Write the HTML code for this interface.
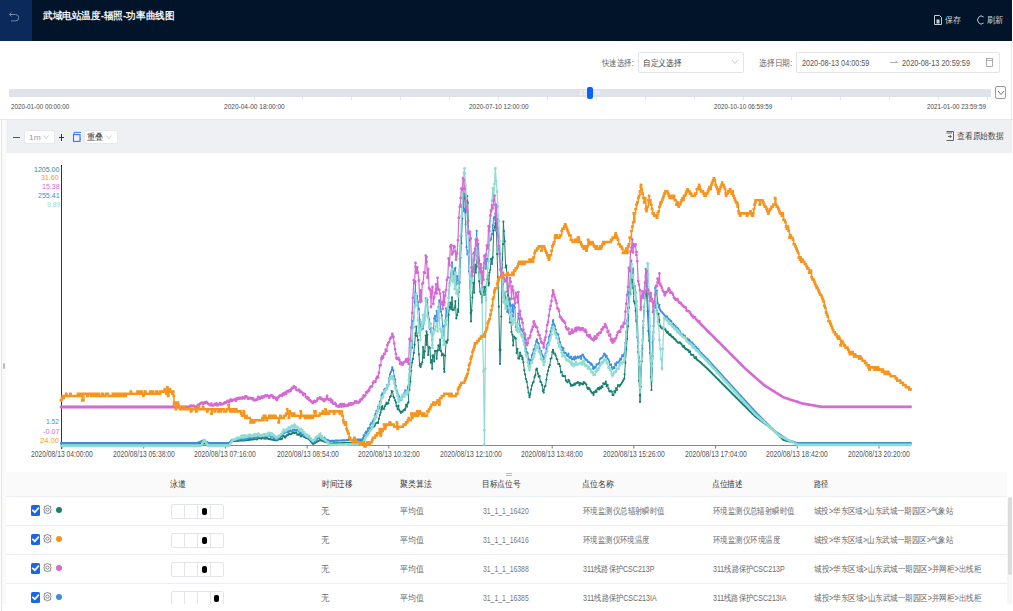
<!DOCTYPE html>
<html><head><meta charset="utf-8">
<style>
*{box-sizing:border-box;margin:0;padding:0}
html,body{width:1013px;height:611px;overflow:hidden;background:#fff;font-family:"Liberation Sans",sans-serif;color:#333}
.abs{position:absolute}
.t{position:absolute;white-space:nowrap;line-height:1;transform-origin:0 0}
.box{border:1px solid #e2e4e8;background:#fff;border-radius:2px}
.row{left:6px;width:1001px;height:29px;border-bottom:1px solid #ebeef5}
.cb{left:31px;width:9px;height:10px;background:#1a66e8;border-radius:1.5px}
.dot{left:56px;width:6px;height:6px;border-radius:50%}
.lane{left:171px;width:53px;height:15px;border:1px solid #e3e5ea;border-radius:2px;background:#fff}
.lane i{position:absolute;top:0;bottom:0;width:1px;background:#e3e5ea}
.lane b{position:absolute;top:3px;width:4.5px;height:7px;background:#000;border-radius:2px}
</style></head><body>
<div class="abs" style="left:0;top:0;width:1011.5px;height:41px;background:#021429"></div>
<div class="abs" style="left:0;top:0;width:32px;height:41px;background:#0b2a5b"></div>
<svg class="abs" style="left:8px;top:11px" width="12" height="13" viewBox="0 0 12 13"><path d="M3.5 1.5 L1.5 3.5 L3.5 5.5 M1.5 3.5 H7.5 a3.2 3.2 0 0 1 0 6.4 H3" fill="none" stroke="#7587a6" stroke-width="1"/></svg>
<svg class="abs" style="left:934px;top:15px" width="8" height="10" viewBox="0 0 8 10"><path d="M0.5 0.5 H5.5 L7.5 2.5 V9.5 H0.5 Z" fill="none" stroke="#c8cdd6"/><rect x="2.5" y="4.5" width="3" height="4" fill="#c8cdd6"/></svg>
<svg class="abs" style="left:976px;top:15px" width="9" height="10" viewBox="0 0 9 10"><path d="M7.6 2 A3.6 4 0 1 0 7.6 8" fill="none" stroke="#c8cdd6" stroke-width="1"/></svg>

<div class="abs box" style="left:638px;top:52px;width:106px;height:21px"></div>
<svg class="abs" style="left:731px;top:59px" width="8" height="6"><path d="M1 1 L4 4.5 L7 1" fill="none" stroke="#bbb" stroke-width="0.8"/></svg>
<div class="abs box" style="left:796px;top:52px;width:204px;height:21px"></div>
<svg class="abs" style="left:889px;top:59px" width="10" height="7"><path d="M1 3.5 H8.5 M6.5 2 L8.5 3.5" fill="none" stroke="#999" stroke-width="0.8"/></svg>
<svg class="abs" style="left:985px;top:57px" width="9" height="10" viewBox="0 0 9 10"><rect x="1.5" y="1.5" width="6" height="8" fill="none" stroke="#999" stroke-width="0.8"/><line x1="1.5" y1="3.5" x2="7.5" y2="3.5" stroke="#999" stroke-width="0.8"/></svg>

<div class="abs" style="left:9px;top:89px;width:982px;height:8px;background:#dfe2e7"></div>
<div class="abs" style="left:253.5px;top:97px;width:1px;height:3px;background:#e0e2e6"></div><div class="abs" style="left:302.4px;top:97px;width:1px;height:3px;background:#e0e2e6"></div><div class="abs" style="left:351.3px;top:97px;width:1px;height:3px;background:#e0e2e6"></div><div class="abs" style="left:400.2px;top:97px;width:1px;height:3px;background:#e0e2e6"></div><div class="abs" style="left:449.1px;top:97px;width:1px;height:3px;background:#e0e2e6"></div><div class="abs" style="left:498.0px;top:97px;width:1px;height:3px;background:#e0e2e6"></div><div class="abs" style="left:546.9px;top:97px;width:1px;height:3px;background:#e0e2e6"></div><div class="abs" style="left:595.8px;top:97px;width:1px;height:3px;background:#e0e2e6"></div><div class="abs" style="left:644.7px;top:97px;width:1px;height:3px;background:#e0e2e6"></div><div class="abs" style="left:693.6px;top:97px;width:1px;height:3px;background:#e0e2e6"></div><div class="abs" style="left:742.5px;top:97px;width:1px;height:3px;background:#e0e2e6"></div><div class="abs" style="left:791.4px;top:97px;width:1px;height:3px;background:#e0e2e6"></div><div class="abs" style="left:840.3px;top:97px;width:1px;height:3px;background:#e0e2e6"></div><div class="abs" style="left:889.2px;top:97px;width:1px;height:3px;background:#e0e2e6"></div><div class="abs" style="left:938.1px;top:97px;width:1px;height:3px;background:#e0e2e6"></div><div class="abs" style="left:987.0px;top:97px;width:1px;height:3px;background:#e0e2e6"></div>
<div class="abs" style="left:578.5px;top:88.5px;font-size:8px;line-height:8px;color:#fafbfc;white-space:nowrap;transform:scaleX(0.85);transform-origin:0 0;letter-spacing:1.5px">168m</div><div class="abs" style="left:587px;top:87px;width:6px;height:12px;background:#0b63f2;border-radius:2px"></div>
<div class="abs box" style="left:995px;top:86px;width:11px;height:13px;border-color:#999"></div>
<svg class="abs" style="left:997px;top:90px" width="8" height="6"><path d="M1 1 L4 4.5 L7 1" fill="none" stroke="#666" stroke-width="0.9"/></svg>
<div class="abs" style="left:0;top:119px;width:1013px;height:1px;background:#e6e8ec"></div><div class="abs" style="left:1011px;top:41px;width:1px;height:79px;background:#e9e9ec"></div>

<div class="abs" style="left:6px;top:120px;width:1006px;height:33px;background:#eef0f3"></div>
<div class="abs" style="left:2px;top:120px;width:4px;height:484px;background:#fafafa"></div><div class="abs" style="left:1px;top:120px;width:1.2px;height:491px;background:#e4e2f0"></div><div class="abs" style="left:3px;top:362.5px;width:2.2px;height:6.5px;background:#bdbdbd;border-radius:1px"></div>
<div class="abs" style="left:13px;top:137px;width:7px;height:1px;background:#555"></div>
<div class="abs box" style="left:24px;top:129.5px;width:30.5px;height:14px;border-color:#e6e8ec"></div>
<svg class="abs" style="left:43px;top:135px" width="6" height="5"><path d="M0.5 0.5 L3 3.8 L5.5 0.5" fill="none" stroke="#bbb" stroke-width="0.7"/></svg>
<div class="abs" style="left:59px;top:137px;width:5px;height:1.2px;background:#333"></div>
<div class="abs" style="left:61px;top:134px;width:1.2px;height:7px;background:#333"></div>
<svg class="abs" style="left:72px;top:131px" width="10" height="12" viewBox="0 0 10 12"><path d="M2.1 3.5 V1.4 H9" fill="none" stroke="#3577f0" stroke-width="1"/><rect x="1.5" y="3.6" width="6.5" height="6.8" fill="none" stroke="#3577f0" stroke-width="1.1"/><path d="M8 7.2 L9.2 8 L8 8.8Z" fill="#3577f0"/></svg>
<div class="abs box" style="left:84px;top:129.5px;width:34px;height:14px;border-color:#e6e8ec"></div>
<svg class="abs" style="left:106px;top:135px" width="6" height="5"><path d="M0.5 0.5 L3 3.8 L5.5 0.5" fill="none" stroke="#bbb" stroke-width="0.7"/></svg>
<svg class="abs" style="left:946px;top:131px" width="9" height="10" viewBox="0 0 9 10"><path d="M0.5 0.5 H7.5 V9.5 H0.5 M0.5 2 H6" fill="none" stroke="#555" stroke-width="0.9"/><path d="M2 5.5 H5 M3.8 4 L5.3 5.5 L3.8 7" fill="none" stroke="#555" stroke-width="0.9"/></svg>

<svg class="abs" style="left:0;top:0" width="1013" height="611">
<line x1="62" y1="445.5" x2="911" y2="445.5" stroke="#888" stroke-width="1"/>
<line x1="62.0" y1="445.5" x2="62.0" y2="448.5" stroke="#777" stroke-width="1"/><line x1="143.7" y1="445.5" x2="143.7" y2="448.5" stroke="#777" stroke-width="1"/><line x1="225.4" y1="445.5" x2="225.4" y2="448.5" stroke="#777" stroke-width="1"/><line x1="307.1" y1="445.5" x2="307.1" y2="448.5" stroke="#777" stroke-width="1"/><line x1="388.8" y1="445.5" x2="388.8" y2="448.5" stroke="#777" stroke-width="1"/><line x1="552.2" y1="445.5" x2="552.2" y2="448.5" stroke="#777" stroke-width="1"/><line x1="633.9" y1="445.5" x2="633.9" y2="448.5" stroke="#777" stroke-width="1"/><line x1="715.6" y1="445.5" x2="715.6" y2="448.5" stroke="#777" stroke-width="1"/><line x1="797.3" y1="445.5" x2="797.3" y2="448.5" stroke="#777" stroke-width="1"/><line x1="879.0" y1="445.5" x2="879.0" y2="448.5" stroke="#777" stroke-width="1"/>
<line x1="61.5" y1="165" x2="61.5" y2="449" stroke="#333" stroke-width="1"/>
<polyline points="61.0,443.5 61.0,443.5 61.9,443.5 62.7,443.5 63.6,443.5 64.4,443.5 65.2,443.5 66.1,443.5 66.9,443.5 67.8,443.5 68.6,443.5 69.5,443.5 70.3,443.5 71.2,443.5 72.0,443.5 72.9,443.5 73.7,443.5 74.6,443.5 75.4,443.5 76.3,443.5 77.1,443.5 78.0,443.5 78.8,443.5 79.7,443.5 80.5,443.5 81.4,443.5 82.2,443.5 83.1,443.5 83.9,443.5 84.8,443.5 85.6,443.5 86.5,443.5 87.3,443.5 88.2,443.5 89.0,443.5 89.9,443.5 90.7,443.5 91.6,443.5 92.4,443.5 93.3,443.5 94.1,443.5 95.0,443.5 95.8,443.5 96.7,443.5 97.5,443.5 98.4,443.5 99.2,443.5 100.1,443.5 100.9,443.5 101.8,443.5 102.6,443.5 103.5,443.5 104.3,443.5 105.2,443.5 106.0,443.5 106.9,443.5 107.7,443.5 108.6,443.5 109.4,443.5 110.3,443.5 111.1,443.5 112.0,443.5 112.8,443.5 113.7,443.5 114.5,443.5 115.4,443.5 116.2,443.5 117.1,443.5 117.9,443.5 118.8,443.5 119.6,443.5 120.5,443.5 121.3,443.5 122.2,443.5 123.0,443.5 123.9,443.5 124.7,443.5 125.6,443.5 126.4,443.5 127.3,443.5 128.1,443.5 129.0,443.5 129.8,443.5 130.7,443.5 131.5,443.5 132.4,443.5 133.2,443.5 134.1,443.5 134.9,443.5 135.8,443.5 136.6,443.5 137.5,443.5 138.3,443.5 139.2,443.5 140.0,443.5 140.9,443.5 141.7,443.5 142.6,443.5 143.4,443.5 144.3,443.5 145.1,443.5 146.0,443.5 146.8,443.5 147.7,443.5 148.5,443.5 149.4,443.5 150.2,443.5 151.1,443.5 151.9,443.5 152.8,443.5 153.6,443.5 154.5,443.5 155.3,443.5 156.2,443.5 157.0,443.5 157.9,443.5 158.7,443.5 159.6,443.5 160.4,443.5 161.3,443.5 162.1,443.5 163.0,443.5 163.8,443.5 164.7,443.5 165.5,443.5 166.4,443.5 167.2,443.5 168.1,443.5 168.9,443.5 169.8,443.5 170.6,443.5 171.5,443.5 172.3,443.5 173.2,443.5 174.0,443.5 174.9,443.5 175.7,443.5 176.6,443.5 177.4,443.5 178.3,443.5 179.1,443.5 180.0,443.5 180.8,443.5 181.7,443.5 182.5,443.5 183.4,443.5 184.2,443.5 185.1,443.5 185.9,443.5 186.8,443.5 187.6,443.5 188.5,443.5 189.3,443.5 190.2,443.5 191.0,443.5 191.9,443.5 192.7,443.5 193.6,443.5 194.4,443.5 195.3,443.5 196.1,443.5 197.0,443.5 197.8,443.5 198.7,443.5 199.5,443.5 200.4,443.5 201.2,443.5 202.1,443.5 202.9,443.5 203.8,443.5 204.6,443.5 205.5,443.5 206.3,443.5 207.2,443.5 208.0,443.5 208.9,443.5 209.7,443.5 210.6,443.5 211.4,443.5 212.3,443.5 213.1,443.5 214.0,443.5 214.8,443.5 215.7,443.5 216.5,443.5 217.4,443.5 218.2,443.5 219.1,443.5 219.9,443.5 220.8,443.5 221.6,443.5 222.5,443.5 223.3,443.5 224.2,443.5 225.0,443.5 225.9,443.5 226.7,443.5 227.6,443.5 228.4,443.5 229.0,443.5 229.3,443.3 230.1,442.5 231.0,441.8 231.8,441.1 232.0,441.0 232.7,441.0 233.5,440.9 234.4,440.9 235.2,440.8 236.1,440.8 236.9,440.7 237.8,440.7 238.6,440.6 239.5,440.6 240.3,440.5 241.2,440.5 242.0,440.5 242.9,440.4 243.7,440.4 244.6,440.3 244.8,440.3 245.4,440.2 246.3,440.1 247.1,440.0 248.0,439.9 248.8,439.8 249.7,439.7 250.5,439.6 251.4,439.5 252.2,439.4 253.1,439.3 253.9,439.2 254.8,439.1 255.6,437.7 256.5,439.4 257.3,439.1 258.2,437.7 259.0,438.2 259.9,438.0 260.7,438.4 261.6,438.7 262.4,436.8 263.3,436.5 263.7,438.0 264.1,438.6 265.0,437.7 265.8,438.7 266.7,436.9 267.5,438.2 268.4,439.1 269.2,439.0 270.1,439.2 270.9,439.3 271.8,439.5 272.6,439.6 273.5,439.8 274.3,439.9 275.2,440.1 276.0,440.2 276.4,440.3 276.9,440.1 277.7,439.8 278.6,439.4 279.4,439.1 280.3,437.8 281.1,439.3 282.0,438.8 282.8,436.2 283.7,435.9 284.5,436.9 285.4,437.6 286.2,435.8 287.1,435.1 287.9,435.2 288.8,433.9 289.6,434.1 290.5,434.3 291.3,434.1 292.2,433.1 293.0,432.8 293.9,432.4 294.5,433.2 294.7,432.9 295.6,432.7 296.4,432.3 297.3,434.7 298.1,434.3 299.0,434.8 299.8,434.0 300.7,436.3 301.5,436.3 302.4,434.7 303.2,435.6 304.1,436.9 305.0,437.1 305.8,438.0 306.7,437.0 307.5,438.3 308.0,438.0 308.4,438.5 309.2,439.4 310.1,440.5 310.9,441.5 311.8,442.5 312.6,443.5 313.0,444.0 313.5,443.7 314.3,443.3 315.2,442.8 316.0,442.3 316.9,441.8 317.7,441.3 318.6,440.8 319.4,440.3 320.0,440.0 320.3,440.1 321.1,440.4 322.0,440.7 322.8,441.0 323.7,441.3 324.5,441.6 325.4,441.9 326.2,442.2 327.1,442.5 327.9,442.8 328.8,443.1 329.6,443.4 330.0,443.5 330.5,443.5 331.3,443.5 332.2,443.5 333.0,443.4 333.9,443.4 334.7,443.4 335.6,443.4 336.4,443.4 337.3,443.3 338.1,443.3 339.0,443.3 339.8,443.3 340.7,443.3 341.5,443.2 342.4,443.2 343.2,443.2 344.1,443.2 344.9,443.2 345.8,443.2 346.6,443.1 347.5,443.1 348.3,443.1 349.2,443.1 350.0,443.1 350.9,443.0 351.7,443.0 352.6,443.0 353.0,443.0 353.4,442.9 354.3,442.7 355.1,442.4 356.0,442.2 356.8,442.0 357.7,441.8 358.5,441.5 359.4,441.3 360.2,441.1 361.1,440.9 361.9,440.6 362.0,440.6 362.8,439.7 363.6,437.8 364.5,437.4 365.3,437.1 366.2,435.9 367.0,434.0 367.9,433.1 368.7,430.6 369.6,430.1 370.4,430.5 371.2,429.0 371.3,428.4 372.1,427.0 373.0,427.1 373.8,426.6 374.7,425.7 375.5,423.6 376.4,423.0 377.2,422.5 378.0,422.3 378.1,422.9 378.9,418.7 379.8,415.1 380.6,412.6 381.5,407.4 381.6,409.7 382.3,406.2 383.2,408.5 384.0,409.0 384.9,406.3 385.7,404.5 386.6,402.6 387.3,404.0 387.4,403.2 388.3,403.3 389.1,400.1 390.0,396.9 390.8,396.2 391.7,391.1 392.3,391.3 392.5,391.5 393.4,396.6 394.2,397.8 395.1,400.3 395.9,402.4 396.5,406.2 396.8,406.1 397.6,409.1 398.5,405.5 399.3,410.3 400.2,411.4 401.0,411.5 401.0,412.8 401.9,411.7 402.7,411.7 403.6,410.0 404.4,409.9 405.0,410.0 405.3,408.5 406.1,404.8 407.0,406.7 407.8,403.3 408.5,402.0 408.7,391.1 409.5,390.0 410.4,381.6 411.2,370.7 412.1,362.6 412.9,358.9 413.8,352.9 414.6,344.7 415.5,333.3 415.6,335.6 416.3,326.5 417.2,336.1 418.0,340.1 418.9,354.3 419.7,365.7 420.3,364.0 420.6,367.1 421.4,364.5 422.3,362.3 423.1,347.1 424.0,357.7 424.8,351.3 425.7,335.5 426.5,345.0 426.5,331.4 427.4,334.9 428.2,355.0 429.1,347.2 429.9,347.6 430.8,362.7 431.6,360.0 432.2,368.8 432.5,355.7 433.3,355.4 434.2,361.4 435.0,351.1 435.9,351.1 436.7,358.7 437.6,350.7 438.4,345.4 439.3,346.5 439.3,349.8 440.1,339.6 441.0,351.1 441.8,355.3 442.7,353.6 443.5,355.2 444.0,368.8 444.4,371.9 445.2,355.6 446.1,341.4 446.9,342.8 447.8,340.0 448.6,314.7 449.5,307.1 450.3,302.5 451.0,307.0 451.2,309.2 452.0,297.3 452.9,310.1 453.7,310.0 454.6,307.6 455.4,301.0 456.3,318.4 457.1,315.0 458.0,309.3 458.3,312.0 458.8,291.9 459.7,282.5 460.5,257.9 461.4,243.1 462.2,218.5 463.0,207.5 463.1,207.6 463.9,193.9 464.8,198.4 465.6,212.6 466.5,209.7 467.3,196.1 467.8,202.7 468.2,220.9 469.0,240.2 469.9,285.8 470.7,312.9 471.0,321.4 471.6,310.6 472.4,297.6 473.3,282.7 474.1,292.8 475.0,264.5 475.8,272.6 476.7,266.4 477.0,255.0 477.5,258.5 478.4,257.6 479.2,281.3 480.1,291.7 480.9,293.7 481.8,297.4 482.0,302.4 482.6,295.2 483.5,292.2 484.3,286.8 485.2,295.0 486.0,287.2 486.9,279.6 487.7,275.3 488.6,285.5 489.0,283.4 489.4,272.7 490.3,270.0 491.1,258.9 492.0,264.0 492.8,257.4 493.7,230.5 494.5,227.4 495.4,223.1 496.2,230.7 496.3,221.7 497.1,254.1 497.9,276.8 498.8,306.7 499.6,349.7 500.0,364.0 500.5,349.9 501.3,316.5 502.2,267.7 503.0,244.2 503.4,221.7 503.9,231.0 504.7,241.4 505.6,267.5 506.4,265.6 507.3,291.5 508.0,302.4 508.1,291.1 509.0,299.4 509.8,322.5 510.7,313.3 511.5,331.9 512.4,334.8 513.0,340.3 513.2,345.5 514.1,336.7 514.9,337.8 515.8,338.4 516.6,353.0 517.5,348.8 518.3,358.4 519.2,358.6 520.0,352.5 520.9,355.9 521.7,355.8 522.4,359.3 522.6,357.8 523.4,362.4 524.3,370.2 525.1,374.4 526.0,379.1 526.8,381.7 527.7,387.4 528.5,392.6 529.4,395.5 529.5,397.3 530.2,394.3 531.1,389.5 531.9,385.5 532.8,382.8 533.6,381.9 534.5,377.2 535.3,375.2 536.2,369.9 536.6,368.8 537.0,368.7 537.9,373.6 538.7,376.7 539.6,376.2 540.4,381.7 541.3,382.3 542.1,385.2 543.0,391.1 543.7,392.6 543.8,389.8 544.7,386.7 545.5,385.8 546.4,379.6 547.2,374.5 548.1,370.8 548.9,367.1 549.8,365.2 550.6,358.8 551.5,358.1 552.3,352.0 553.0,349.8 553.2,351.6 554.0,353.6 554.9,353.5 555.7,355.6 556.6,358.8 557.4,359.6 558.3,364.1 559.1,363.9 560.0,366.1 560.8,372.3 561.7,371.8 562.5,375.3 562.7,376.0 563.4,376.0 564.2,376.3 565.1,376.1 565.9,380.4 566.8,381.5 567.6,382.3 568.5,379.8 569.3,381.0 570.2,383.5 571.0,385.8 571.9,384.9 572.0,385.4 572.7,385.5 573.6,385.2 574.4,383.5 575.3,384.4 576.1,383.3 577.0,382.9 577.8,382.1 578.7,382.7 579.5,385.3 580.4,383.0 581.2,383.7 582.1,383.5 582.9,384.5 583.8,382.1 584.0,383.0 584.6,382.5 585.5,383.6 586.3,384.6 587.2,387.8 588.0,389.1 588.9,387.8 589.7,389.0 590.6,390.9 591.4,392.1 592.3,393.2 593.1,392.9 593.6,395.0 594.0,392.2 594.8,392.3 595.7,390.7 596.5,391.8 597.4,389.0 598.2,388.1 599.1,389.5 599.9,387.3 600.8,388.4 601.6,386.3 602.5,387.0 603.3,383.3 604.2,383.8 605.0,384.1 605.4,383.0 605.9,381.6 606.7,386.5 607.6,384.8 608.4,388.6 609.3,390.9 610.1,391.6 611.0,391.0 611.8,391.6 612.6,395.0 612.7,394.5 613.5,394.9 614.4,391.2 615.2,392.4 616.1,388.2 616.9,390.1 617.8,385.3 618.6,385.3 619.5,386.4 620.3,384.8 621.2,384.0 622.0,382.6 622.9,381.0 623.7,379.5 624.4,378.3 624.6,374.3 625.4,362.8 626.3,349.3 627.1,339.0 628.0,326.3 628.8,307.7 629.7,292.2 630.5,294.1 631.4,279.1 631.5,274.0 632.2,279.7 633.1,288.0 633.9,301.3 634.8,303.3 635.6,310.8 636.3,321.4 636.5,320.1 637.3,337.3 638.2,352.1 639.0,380.6 639.9,395.4 640.0,402.0 640.7,386.8 641.6,361.3 642.4,348.6 643.3,327.8 644.1,310.2 645.0,294.9 645.8,283.4 645.8,286.7 646.7,295.7 647.5,311.6 648.4,330.9 649.2,340.7 650.1,353.0 650.9,377.2 651.5,390.0 651.8,380.2 652.6,356.0 653.5,326.0 654.3,302.4 654.3,303.4 655.2,307.6 656.0,303.3 656.9,310.9 657.7,314.1 658.6,313.6 659.4,320.1 660.0,326.0 660.3,326.1 661.1,327.6 662.0,328.4 662.8,327.6 663.7,329.3 664.5,328.6 665.4,329.4 666.2,331.2 667.1,332.8 667.9,331.8 668.8,334.0 669.6,335.1 670.5,334.4 671.3,336.1 672.2,337.2 673.0,336.8 673.9,338.4 674.7,339.2 675.6,339.6 676.4,341.0 677.3,341.8 678.1,342.7 679.0,342.5 679.0,342.7 679.8,342.4 680.7,343.3 681.5,344.0 682.4,345.6 683.2,346.9 684.1,345.9 684.9,348.2 685.8,349.1 686.6,349.0 687.5,350.2 688.3,350.1 689.2,352.2 690.0,351.4 690.9,354.4 691.7,354.8 692.6,355.1 693.4,355.0 694.3,357.4 695.1,358.2 696.0,357.1 696.8,359.4 697.7,360.3 698.5,360.6 699.4,361.5 700.2,362.1 701.1,362.9 701.9,363.7 702.8,364.5 703.6,365.2 704.5,366.0 705.3,366.8 706.2,367.6 707.0,368.3 707.5,368.8 707.9,369.2 708.7,370.0 709.6,370.9 710.4,371.7 711.3,372.6 712.1,373.4 713.0,374.3 713.8,375.1 714.7,376.0 715.5,376.8 716.4,377.7 717.2,378.5 718.1,379.4 718.9,380.2 719.8,381.1 720.6,382.0 721.5,382.8 722.3,383.7 723.2,384.5 724.0,385.4 724.9,386.2 725.7,387.1 726.6,387.9 727.4,388.8 728.3,389.6 729.1,390.5 730.0,391.3 730.8,392.2 731.2,392.6 731.7,393.0 732.5,393.9 733.4,394.7 734.2,395.6 735.1,396.4 735.9,397.3 736.8,398.1 737.6,399.0 738.5,399.8 739.3,400.7 740.2,401.5 741.0,402.4 741.9,403.2 742.7,404.1 743.6,404.9 744.4,405.7 745.3,406.6 746.1,407.4 747.0,408.3 747.8,409.1 748.7,410.0 749.5,410.8 750.4,411.7 751.2,412.5 752.1,413.4 752.9,414.2 753.8,415.1 754.6,415.9 755.0,416.3 755.5,416.6 756.3,417.3 757.2,417.9 758.0,418.5 758.9,419.2 759.7,419.8 760.6,420.4 761.4,421.1 762.3,421.7 763.1,422.4 764.0,423.0 764.8,423.6 765.7,424.3 766.5,424.9 767.4,425.5 768.2,426.2 769.1,426.8 769.9,427.4 770.8,428.1 771.6,428.7 772.5,429.3 773.3,430.0 774.0,430.5 774.2,430.7 775.0,431.5 775.9,432.4 776.7,433.2 777.6,434.1 778.4,434.9 779.3,435.8 780.1,436.7 781.0,437.5 781.8,438.4 782.7,439.2 783.4,440.0 783.5,440.0 784.4,440.2 785.2,440.4 786.1,440.6 786.9,440.8 787.8,441.0 788.6,441.2 789.5,441.4 790.3,441.6 791.2,441.8 792.0,442.0 792.9,442.2 793.7,442.4 794.6,442.6 795.4,442.8 796.3,443.0 797.1,443.2 797.6,443.3 798.0,443.3 798.8,443.3 799.7,443.3 800.5,443.3 801.4,443.3 802.2,443.3 803.1,443.3 803.9,443.3 804.8,443.3 805.6,443.3 806.5,443.3 807.3,443.3 808.2,443.3 809.0,443.3 809.9,443.3 810.7,443.3 811.6,443.3 812.4,443.3 813.3,443.3 814.1,443.3 815.0,443.3 815.8,443.3 816.7,443.3 817.5,443.3 818.4,443.3 819.2,443.3 820.1,443.3 820.9,443.3 821.8,443.3 822.6,443.3 823.5,443.3 824.3,443.3 825.2,443.3 826.0,443.3 826.9,443.3 827.7,443.3 828.6,443.3 829.4,443.3 830.3,443.3 831.1,443.3 832.0,443.3 832.8,443.3 833.7,443.3 834.5,443.3 835.4,443.3 836.2,443.3 837.1,443.3 837.9,443.3 838.8,443.3 839.6,443.3 840.5,443.3 841.3,443.3 842.2,443.3 843.0,443.3 843.9,443.3 844.7,443.3 845.6,443.3 846.4,443.3 847.3,443.3 848.1,443.3 849.0,443.3 849.8,443.3 850.7,443.3 851.5,443.3 852.4,443.3 853.2,443.3 854.1,443.3 854.9,443.3 855.8,443.3 856.6,443.3 857.5,443.3 858.3,443.3 859.2,443.3 860.0,443.3 860.9,443.3 861.7,443.3 862.6,443.3 863.4,443.3 864.3,443.3 865.1,443.3 866.0,443.3 866.8,443.3 867.7,443.3 868.5,443.3 869.4,443.3 870.2,443.3 871.1,443.3 871.9,443.3 872.8,443.3 873.6,443.3 874.5,443.3 875.3,443.3 876.2,443.3 877.0,443.3 877.9,443.3 878.7,443.3 879.6,443.3 880.4,443.3 881.3,443.3 882.1,443.3 883.0,443.3 883.8,443.3 884.7,443.3 885.5,443.3 886.4,443.3 887.2,443.3 888.1,443.3 888.9,443.3 889.8,443.3 890.6,443.3 891.5,443.3 892.3,443.3 893.2,443.3 894.0,443.3 894.9,443.3 895.7,443.3 896.6,443.3 897.4,443.3 898.3,443.3 899.1,443.3 900.0,443.3 900.8,443.3 901.7,443.3 902.5,443.3 903.4,443.3 904.2,443.3 905.1,443.3 905.9,443.3 906.8,443.3 907.6,443.3 908.5,443.3 909.3,443.3 910.2,443.3 910.6,443.3" fill="none" stroke="#17806f" stroke-width="1" stroke-linejoin="miter"/><path d="M61.0 443.5h0M61.0 443.5h0M61.9 443.5h0M62.7 443.5h0M63.6 443.5h0M64.4 443.5h0M65.2 443.5h0M66.1 443.5h0M66.9 443.5h0M67.8 443.5h0M68.6 443.5h0M69.5 443.5h0M70.3 443.5h0M71.2 443.5h0M72.0 443.5h0M72.9 443.5h0M73.7 443.5h0M74.6 443.5h0M75.4 443.5h0M76.3 443.5h0M77.1 443.5h0M78.0 443.5h0M78.8 443.5h0M79.7 443.5h0M80.5 443.5h0M81.4 443.5h0M82.2 443.5h0M83.1 443.5h0M83.9 443.5h0M84.8 443.5h0M85.6 443.5h0M86.5 443.5h0M87.3 443.5h0M88.2 443.5h0M89.0 443.5h0M89.9 443.5h0M90.7 443.5h0M91.6 443.5h0M92.4 443.5h0M93.3 443.5h0M94.1 443.5h0M95.0 443.5h0M95.8 443.5h0M96.7 443.5h0M97.5 443.5h0M98.4 443.5h0M99.2 443.5h0M100.1 443.5h0M100.9 443.5h0M101.8 443.5h0M102.6 443.5h0M103.5 443.5h0M104.3 443.5h0M105.2 443.5h0M106.0 443.5h0M106.9 443.5h0M107.7 443.5h0M108.6 443.5h0M109.4 443.5h0M110.3 443.5h0M111.1 443.5h0M112.0 443.5h0M112.8 443.5h0M113.7 443.5h0M114.5 443.5h0M115.4 443.5h0M116.2 443.5h0M117.1 443.5h0M117.9 443.5h0M118.8 443.5h0M119.6 443.5h0M120.5 443.5h0M121.3 443.5h0M122.2 443.5h0M123.0 443.5h0M123.9 443.5h0M124.7 443.5h0M125.6 443.5h0M126.4 443.5h0M127.3 443.5h0M128.1 443.5h0M129.0 443.5h0M129.8 443.5h0M130.7 443.5h0M131.5 443.5h0M132.4 443.5h0M133.2 443.5h0M134.1 443.5h0M134.9 443.5h0M135.8 443.5h0M136.6 443.5h0M137.5 443.5h0M138.3 443.5h0M139.2 443.5h0M140.0 443.5h0M140.9 443.5h0M141.7 443.5h0M142.6 443.5h0M143.4 443.5h0M144.3 443.5h0M145.1 443.5h0M146.0 443.5h0M146.8 443.5h0M147.7 443.5h0M148.5 443.5h0M149.4 443.5h0M150.2 443.5h0M151.1 443.5h0M151.9 443.5h0M152.8 443.5h0M153.6 443.5h0M154.5 443.5h0M155.3 443.5h0M156.2 443.5h0M157.0 443.5h0M157.9 443.5h0M158.7 443.5h0M159.6 443.5h0M160.4 443.5h0M161.3 443.5h0M162.1 443.5h0M163.0 443.5h0M163.8 443.5h0M164.7 443.5h0M165.5 443.5h0M166.4 443.5h0M167.2 443.5h0M168.1 443.5h0M168.9 443.5h0M169.8 443.5h0M170.6 443.5h0M171.5 443.5h0M172.3 443.5h0M173.2 443.5h0M174.0 443.5h0M174.9 443.5h0M175.7 443.5h0M176.6 443.5h0M177.4 443.5h0M178.3 443.5h0M179.1 443.5h0M180.0 443.5h0M180.8 443.5h0M181.7 443.5h0M182.5 443.5h0M183.4 443.5h0M184.2 443.5h0M185.1 443.5h0M185.9 443.5h0M186.8 443.5h0M187.6 443.5h0M188.5 443.5h0M189.3 443.5h0M190.2 443.5h0M191.0 443.5h0M191.9 443.5h0M192.7 443.5h0M193.6 443.5h0M194.4 443.5h0M195.3 443.5h0M196.1 443.5h0M197.0 443.5h0M197.8 443.5h0M198.7 443.5h0M199.5 443.5h0M200.4 443.5h0M201.2 443.5h0M202.1 443.5h0M202.9 443.5h0M203.8 443.5h0M204.6 443.5h0M205.5 443.5h0M206.3 443.5h0M207.2 443.5h0M208.0 443.5h0M208.9 443.5h0M209.7 443.5h0M210.6 443.5h0M211.4 443.5h0M212.3 443.5h0M213.1 443.5h0M214.0 443.5h0M214.8 443.5h0M215.7 443.5h0M216.5 443.5h0M217.4 443.5h0M218.2 443.5h0M219.1 443.5h0M219.9 443.5h0M220.8 443.5h0M221.6 443.5h0M222.5 443.5h0M223.3 443.5h0M224.2 443.5h0M225.0 443.5h0M225.9 443.5h0M226.7 443.5h0M227.6 443.5h0M228.4 443.5h0M229.0 443.5h0M229.3 443.3h0M230.1 442.5h0M231.0 441.8h0M231.8 441.1h0M232.0 441.0h0M232.7 441.0h0M233.5 440.9h0M234.4 440.9h0M235.2 440.8h0M236.1 440.8h0M236.9 440.7h0M237.8 440.7h0M238.6 440.6h0M239.5 440.6h0M240.3 440.5h0M241.2 440.5h0M242.0 440.5h0M242.9 440.4h0M243.7 440.4h0M244.6 440.3h0M244.8 440.3h0M245.4 440.2h0M246.3 440.1h0M247.1 440.0h0M248.0 439.9h0M248.8 439.8h0M249.7 439.7h0M250.5 439.6h0M251.4 439.5h0M252.2 439.4h0M253.1 439.3h0M253.9 439.2h0M254.8 439.1h0M255.6 437.7h0M256.5 439.4h0M257.3 439.1h0M258.2 437.7h0M259.0 438.2h0M259.9 438.0h0M260.7 438.4h0M261.6 438.7h0M262.4 436.8h0M263.3 436.5h0M263.7 438.0h0M264.1 438.6h0M265.0 437.7h0M265.8 438.7h0M266.7 436.9h0M267.5 438.2h0M268.4 439.1h0M269.2 439.0h0M270.1 439.2h0M270.9 439.3h0M271.8 439.5h0M272.6 439.6h0M273.5 439.8h0M274.3 439.9h0M275.2 440.1h0M276.0 440.2h0M276.4 440.3h0M276.9 440.1h0M277.7 439.8h0M278.6 439.4h0M279.4 439.1h0M280.3 437.8h0M281.1 439.3h0M282.0 438.8h0M282.8 436.2h0M283.7 435.9h0M284.5 436.9h0M285.4 437.6h0M286.2 435.8h0M287.1 435.1h0M287.9 435.2h0M288.8 433.9h0M289.6 434.1h0M290.5 434.3h0M291.3 434.1h0M292.2 433.1h0M293.0 432.8h0M293.9 432.4h0M294.5 433.2h0M294.7 432.9h0M295.6 432.7h0M296.4 432.3h0M297.3 434.7h0M298.1 434.3h0M299.0 434.8h0M299.8 434.0h0M300.7 436.3h0M301.5 436.3h0M302.4 434.7h0M303.2 435.6h0M304.1 436.9h0M305.0 437.1h0M305.8 438.0h0M306.7 437.0h0M307.5 438.3h0M308.0 438.0h0M308.4 438.5h0M309.2 439.4h0M310.1 440.5h0M310.9 441.5h0M311.8 442.5h0M312.6 443.5h0M313.0 444.0h0M313.5 443.7h0M314.3 443.3h0M315.2 442.8h0M316.0 442.3h0M316.9 441.8h0M317.7 441.3h0M318.6 440.8h0M319.4 440.3h0M320.0 440.0h0M320.3 440.1h0M321.1 440.4h0M322.0 440.7h0M322.8 441.0h0M323.7 441.3h0M324.5 441.6h0M325.4 441.9h0M326.2 442.2h0M327.1 442.5h0M327.9 442.8h0M328.8 443.1h0M329.6 443.4h0M330.0 443.5h0M330.5 443.5h0M331.3 443.5h0M332.2 443.5h0M333.0 443.4h0M333.9 443.4h0M334.7 443.4h0M335.6 443.4h0M336.4 443.4h0M337.3 443.3h0M338.1 443.3h0M339.0 443.3h0M339.8 443.3h0M340.7 443.3h0M341.5 443.2h0M342.4 443.2h0M343.2 443.2h0M344.1 443.2h0M344.9 443.2h0M345.8 443.2h0M346.6 443.1h0M347.5 443.1h0M348.3 443.1h0M349.2 443.1h0M350.0 443.1h0M350.9 443.0h0M351.7 443.0h0M352.6 443.0h0M353.0 443.0h0M353.4 442.9h0M354.3 442.7h0M355.1 442.4h0M356.0 442.2h0M356.8 442.0h0M357.7 441.8h0M358.5 441.5h0M359.4 441.3h0M360.2 441.1h0M361.1 440.9h0M361.9 440.6h0M362.0 440.6h0M362.8 439.7h0M363.6 437.8h0M364.5 437.4h0M365.3 437.1h0M366.2 435.9h0M367.0 434.0h0M367.9 433.1h0M368.7 430.6h0M369.6 430.1h0M370.4 430.5h0M371.2 429.0h0M371.3 428.4h0M372.1 427.0h0M373.0 427.1h0M373.8 426.6h0M374.7 425.7h0M375.5 423.6h0M376.4 423.0h0M377.2 422.5h0M378.0 422.3h0M378.1 422.9h0M378.9 418.7h0M379.8 415.1h0M380.6 412.6h0M381.5 407.4h0M381.6 409.7h0M382.3 406.2h0M383.2 408.5h0M384.0 409.0h0M384.9 406.3h0M385.7 404.5h0M386.6 402.6h0M387.3 404.0h0M387.4 403.2h0M388.3 403.3h0M389.1 400.1h0M390.0 396.9h0M390.8 396.2h0M391.7 391.1h0M392.3 391.3h0M392.5 391.5h0M393.4 396.6h0M394.2 397.8h0M395.1 400.3h0M395.9 402.4h0M396.5 406.2h0M396.8 406.1h0M397.6 409.1h0M398.5 405.5h0M399.3 410.3h0M400.2 411.4h0M401.0 411.5h0M401.0 412.8h0M401.9 411.7h0M402.7 411.7h0M403.6 410.0h0M404.4 409.9h0M405.0 410.0h0M405.3 408.5h0M406.1 404.8h0M407.0 406.7h0M407.8 403.3h0M408.5 402.0h0M408.7 391.1h0M409.5 390.0h0M410.4 381.6h0M411.2 370.7h0M412.1 362.6h0M412.9 358.9h0M413.8 352.9h0M414.6 344.7h0M415.5 333.3h0M415.6 335.6h0M416.3 326.5h0M417.2 336.1h0M418.0 340.1h0M418.9 354.3h0M419.7 365.7h0M420.3 364.0h0M420.6 367.1h0M421.4 364.5h0M422.3 362.3h0M423.1 347.1h0M424.0 357.7h0M424.8 351.3h0M425.7 335.5h0M426.5 345.0h0M426.5 331.4h0M427.4 334.9h0M428.2 355.0h0M429.1 347.2h0M429.9 347.6h0M430.8 362.7h0M431.6 360.0h0M432.2 368.8h0M432.5 355.7h0M433.3 355.4h0M434.2 361.4h0M435.0 351.1h0M435.9 351.1h0M436.7 358.7h0M437.6 350.7h0M438.4 345.4h0M439.3 346.5h0M439.3 349.8h0M440.1 339.6h0M441.0 351.1h0M441.8 355.3h0M442.7 353.6h0M443.5 355.2h0M444.0 368.8h0M444.4 371.9h0M445.2 355.6h0M446.1 341.4h0M446.9 342.8h0M447.8 340.0h0M448.6 314.7h0M449.5 307.1h0M450.3 302.5h0M451.0 307.0h0M451.2 309.2h0M452.0 297.3h0M452.9 310.1h0M453.7 310.0h0M454.6 307.6h0M455.4 301.0h0M456.3 318.4h0M457.1 315.0h0M458.0 309.3h0M458.3 312.0h0M458.8 291.9h0M459.7 282.5h0M460.5 257.9h0M461.4 243.1h0M462.2 218.5h0M463.0 207.5h0M463.1 207.6h0M463.9 193.9h0M464.8 198.4h0M465.6 212.6h0M466.5 209.7h0M467.3 196.1h0M467.8 202.7h0M468.2 220.9h0M469.0 240.2h0M469.9 285.8h0M470.7 312.9h0M471.0 321.4h0M471.6 310.6h0M472.4 297.6h0M473.3 282.7h0M474.1 292.8h0M475.0 264.5h0M475.8 272.6h0M476.7 266.4h0M477.0 255.0h0M477.5 258.5h0M478.4 257.6h0M479.2 281.3h0M480.1 291.7h0M480.9 293.7h0M481.8 297.4h0M482.0 302.4h0M482.6 295.2h0M483.5 292.2h0M484.3 286.8h0M485.2 295.0h0M486.0 287.2h0M486.9 279.6h0M487.7 275.3h0M488.6 285.5h0M489.0 283.4h0M489.4 272.7h0M490.3 270.0h0M491.1 258.9h0M492.0 264.0h0M492.8 257.4h0M493.7 230.5h0M494.5 227.4h0M495.4 223.1h0M496.2 230.7h0M496.3 221.7h0M497.1 254.1h0M497.9 276.8h0M498.8 306.7h0M499.6 349.7h0M500.0 364.0h0M500.5 349.9h0M501.3 316.5h0M502.2 267.7h0M503.0 244.2h0M503.4 221.7h0M503.9 231.0h0M504.7 241.4h0M505.6 267.5h0M506.4 265.6h0M507.3 291.5h0M508.0 302.4h0M508.1 291.1h0M509.0 299.4h0M509.8 322.5h0M510.7 313.3h0M511.5 331.9h0M512.4 334.8h0M513.0 340.3h0M513.2 345.5h0M514.1 336.7h0M514.9 337.8h0M515.8 338.4h0M516.6 353.0h0M517.5 348.8h0M518.3 358.4h0M519.2 358.6h0M520.0 352.5h0M520.9 355.9h0M521.7 355.8h0M522.4 359.3h0M522.6 357.8h0M523.4 362.4h0M524.3 370.2h0M525.1 374.4h0M526.0 379.1h0M526.8 381.7h0M527.7 387.4h0M528.5 392.6h0M529.4 395.5h0M529.5 397.3h0M530.2 394.3h0M531.1 389.5h0M531.9 385.5h0M532.8 382.8h0M533.6 381.9h0M534.5 377.2h0M535.3 375.2h0M536.2 369.9h0M536.6 368.8h0M537.0 368.7h0M537.9 373.6h0M538.7 376.7h0M539.6 376.2h0M540.4 381.7h0M541.3 382.3h0M542.1 385.2h0M543.0 391.1h0M543.7 392.6h0M543.8 389.8h0M544.7 386.7h0M545.5 385.8h0M546.4 379.6h0M547.2 374.5h0M548.1 370.8h0M548.9 367.1h0M549.8 365.2h0M550.6 358.8h0M551.5 358.1h0M552.3 352.0h0M553.0 349.8h0M553.2 351.6h0M554.0 353.6h0M554.9 353.5h0M555.7 355.6h0M556.6 358.8h0M557.4 359.6h0M558.3 364.1h0M559.1 363.9h0M560.0 366.1h0M560.8 372.3h0M561.7 371.8h0M562.5 375.3h0M562.7 376.0h0M563.4 376.0h0M564.2 376.3h0M565.1 376.1h0M565.9 380.4h0M566.8 381.5h0M567.6 382.3h0M568.5 379.8h0M569.3 381.0h0M570.2 383.5h0M571.0 385.8h0M571.9 384.9h0M572.0 385.4h0M572.7 385.5h0M573.6 385.2h0M574.4 383.5h0M575.3 384.4h0M576.1 383.3h0M577.0 382.9h0M577.8 382.1h0M578.7 382.7h0M579.5 385.3h0M580.4 383.0h0M581.2 383.7h0M582.1 383.5h0M582.9 384.5h0M583.8 382.1h0M584.0 383.0h0M584.6 382.5h0M585.5 383.6h0M586.3 384.6h0M587.2 387.8h0M588.0 389.1h0M588.9 387.8h0M589.7 389.0h0M590.6 390.9h0M591.4 392.1h0M592.3 393.2h0M593.1 392.9h0M593.6 395.0h0M594.0 392.2h0M594.8 392.3h0M595.7 390.7h0M596.5 391.8h0M597.4 389.0h0M598.2 388.1h0M599.1 389.5h0M599.9 387.3h0M600.8 388.4h0M601.6 386.3h0M602.5 387.0h0M603.3 383.3h0M604.2 383.8h0M605.0 384.1h0M605.4 383.0h0M605.9 381.6h0M606.7 386.5h0M607.6 384.8h0M608.4 388.6h0M609.3 390.9h0M610.1 391.6h0M611.0 391.0h0M611.8 391.6h0M612.6 395.0h0M612.7 394.5h0M613.5 394.9h0M614.4 391.2h0M615.2 392.4h0M616.1 388.2h0M616.9 390.1h0M617.8 385.3h0M618.6 385.3h0M619.5 386.4h0M620.3 384.8h0M621.2 384.0h0M622.0 382.6h0M622.9 381.0h0M623.7 379.5h0M624.4 378.3h0M624.6 374.3h0M625.4 362.8h0M626.3 349.3h0M627.1 339.0h0M628.0 326.3h0M628.8 307.7h0M629.7 292.2h0M630.5 294.1h0M631.4 279.1h0M631.5 274.0h0M632.2 279.7h0M633.1 288.0h0M633.9 301.3h0M634.8 303.3h0M635.6 310.8h0M636.3 321.4h0M636.5 320.1h0M637.3 337.3h0M638.2 352.1h0M639.0 380.6h0M639.9 395.4h0M640.0 402.0h0M640.7 386.8h0M641.6 361.3h0M642.4 348.6h0M643.3 327.8h0M644.1 310.2h0M645.0 294.9h0M645.8 283.4h0M645.8 286.7h0M646.7 295.7h0M647.5 311.6h0M648.4 330.9h0M649.2 340.7h0M650.1 353.0h0M650.9 377.2h0M651.5 390.0h0M651.8 380.2h0M652.6 356.0h0M653.5 326.0h0M654.3 302.4h0M654.3 303.4h0M655.2 307.6h0M656.0 303.3h0M656.9 310.9h0M657.7 314.1h0M658.6 313.6h0M659.4 320.1h0M660.0 326.0h0M660.3 326.1h0M661.1 327.6h0M662.0 328.4h0M662.8 327.6h0M663.7 329.3h0M664.5 328.6h0M665.4 329.4h0M666.2 331.2h0M667.1 332.8h0M667.9 331.8h0M668.8 334.0h0M669.6 335.1h0M670.5 334.4h0M671.3 336.1h0M672.2 337.2h0M673.0 336.8h0M673.9 338.4h0M674.7 339.2h0M675.6 339.6h0M676.4 341.0h0M677.3 341.8h0M678.1 342.7h0M679.0 342.5h0M679.0 342.7h0M679.8 342.4h0M680.7 343.3h0M681.5 344.0h0M682.4 345.6h0M683.2 346.9h0M684.1 345.9h0M684.9 348.2h0M685.8 349.1h0M686.6 349.0h0M687.5 350.2h0M688.3 350.1h0M689.2 352.2h0M690.0 351.4h0M690.9 354.4h0M691.7 354.8h0M692.6 355.1h0M693.4 355.0h0M694.3 357.4h0M695.1 358.2h0M696.0 357.1h0M696.8 359.4h0M697.7 360.3h0M698.5 360.6h0M699.4 361.5h0M700.2 362.1h0M701.1 362.9h0M701.9 363.7h0M702.8 364.5h0M703.6 365.2h0M704.5 366.0h0M705.3 366.8h0M706.2 367.6h0M707.0 368.3h0M707.5 368.8h0M707.9 369.2h0M708.7 370.0h0M709.6 370.9h0M710.4 371.7h0M711.3 372.6h0M712.1 373.4h0M713.0 374.3h0M713.8 375.1h0M714.7 376.0h0M715.5 376.8h0M716.4 377.7h0M717.2 378.5h0M718.1 379.4h0M718.9 380.2h0M719.8 381.1h0M720.6 382.0h0M721.5 382.8h0M722.3 383.7h0M723.2 384.5h0M724.0 385.4h0M724.9 386.2h0M725.7 387.1h0M726.6 387.9h0M727.4 388.8h0M728.3 389.6h0M729.1 390.5h0M730.0 391.3h0M730.8 392.2h0M731.2 392.6h0M731.7 393.0h0M732.5 393.9h0M733.4 394.7h0M734.2 395.6h0M735.1 396.4h0M735.9 397.3h0M736.8 398.1h0M737.6 399.0h0M738.5 399.8h0M739.3 400.7h0M740.2 401.5h0M741.0 402.4h0M741.9 403.2h0M742.7 404.1h0M743.6 404.9h0M744.4 405.7h0M745.3 406.6h0M746.1 407.4h0M747.0 408.3h0M747.8 409.1h0M748.7 410.0h0M749.5 410.8h0M750.4 411.7h0M751.2 412.5h0M752.1 413.4h0M752.9 414.2h0M753.8 415.1h0M754.6 415.9h0M755.0 416.3h0M755.5 416.6h0M756.3 417.3h0M757.2 417.9h0M758.0 418.5h0M758.9 419.2h0M759.7 419.8h0M760.6 420.4h0M761.4 421.1h0M762.3 421.7h0M763.1 422.4h0M764.0 423.0h0M764.8 423.6h0M765.7 424.3h0M766.5 424.9h0M767.4 425.5h0M768.2 426.2h0M769.1 426.8h0M769.9 427.4h0M770.8 428.1h0M771.6 428.7h0M772.5 429.3h0M773.3 430.0h0M774.0 430.5h0M774.2 430.7h0M775.0 431.5h0M775.9 432.4h0M776.7 433.2h0M777.6 434.1h0M778.4 434.9h0M779.3 435.8h0M780.1 436.7h0M781.0 437.5h0M781.8 438.4h0M782.7 439.2h0M783.4 440.0h0M783.5 440.0h0M784.4 440.2h0M785.2 440.4h0M786.1 440.6h0M786.9 440.8h0M787.8 441.0h0M788.6 441.2h0M789.5 441.4h0M790.3 441.6h0M791.2 441.8h0M792.0 442.0h0M792.9 442.2h0M793.7 442.4h0M794.6 442.6h0M795.4 442.8h0M796.3 443.0h0M797.1 443.2h0M797.6 443.3h0M798.0 443.3h0M798.8 443.3h0M799.7 443.3h0M800.5 443.3h0M801.4 443.3h0M802.2 443.3h0M803.1 443.3h0M803.9 443.3h0M804.8 443.3h0M805.6 443.3h0M806.5 443.3h0M807.3 443.3h0M808.2 443.3h0M809.0 443.3h0M809.9 443.3h0M810.7 443.3h0M811.6 443.3h0M812.4 443.3h0M813.3 443.3h0M814.1 443.3h0M815.0 443.3h0M815.8 443.3h0M816.7 443.3h0M817.5 443.3h0M818.4 443.3h0M819.2 443.3h0M820.1 443.3h0M820.9 443.3h0M821.8 443.3h0M822.6 443.3h0M823.5 443.3h0M824.3 443.3h0M825.2 443.3h0M826.0 443.3h0M826.9 443.3h0M827.7 443.3h0M828.6 443.3h0M829.4 443.3h0M830.3 443.3h0M831.1 443.3h0M832.0 443.3h0M832.8 443.3h0M833.7 443.3h0M834.5 443.3h0M835.4 443.3h0M836.2 443.3h0M837.1 443.3h0M837.9 443.3h0M838.8 443.3h0M839.6 443.3h0M840.5 443.3h0M841.3 443.3h0M842.2 443.3h0M843.0 443.3h0M843.9 443.3h0M844.7 443.3h0M845.6 443.3h0M846.4 443.3h0M847.3 443.3h0M848.1 443.3h0M849.0 443.3h0M849.8 443.3h0M850.7 443.3h0M851.5 443.3h0M852.4 443.3h0M853.2 443.3h0M854.1 443.3h0M854.9 443.3h0M855.8 443.3h0M856.6 443.3h0M857.5 443.3h0M858.3 443.3h0M859.2 443.3h0M860.0 443.3h0M860.9 443.3h0M861.7 443.3h0M862.6 443.3h0M863.4 443.3h0M864.3 443.3h0M865.1 443.3h0M866.0 443.3h0M866.8 443.3h0M867.7 443.3h0M868.5 443.3h0M869.4 443.3h0M870.2 443.3h0M871.1 443.3h0M871.9 443.3h0M872.8 443.3h0M873.6 443.3h0M874.5 443.3h0M875.3 443.3h0M876.2 443.3h0M877.0 443.3h0M877.9 443.3h0M878.7 443.3h0M879.6 443.3h0M880.4 443.3h0M881.3 443.3h0M882.1 443.3h0M883.0 443.3h0M883.8 443.3h0M884.7 443.3h0M885.5 443.3h0M886.4 443.3h0M887.2 443.3h0M888.1 443.3h0M888.9 443.3h0M889.8 443.3h0M890.6 443.3h0M891.5 443.3h0M892.3 443.3h0M893.2 443.3h0M894.0 443.3h0M894.9 443.3h0M895.7 443.3h0M896.6 443.3h0M897.4 443.3h0M898.3 443.3h0M899.1 443.3h0M900.0 443.3h0M900.8 443.3h0M901.7 443.3h0M902.5 443.3h0M903.4 443.3h0M904.2 443.3h0M905.1 443.3h0M905.9 443.3h0M906.8 443.3h0M907.6 443.3h0M908.5 443.3h0M909.3 443.3h0M910.2 443.3h0M910.6 443.3h0" fill="none" stroke="#17806f" stroke-width="2.2" stroke-linecap="round"/><polyline points="61.0,443.2 61.0,443.2 61.9,443.2 62.7,443.2 63.6,443.2 64.4,443.2 65.2,443.2 66.1,443.2 66.9,443.2 67.8,443.2 68.6,443.2 69.5,443.2 70.3,443.2 71.2,443.2 72.0,443.2 72.9,443.2 73.7,443.2 74.6,443.2 75.4,443.2 76.3,443.2 77.1,443.2 78.0,443.2 78.8,443.2 79.7,443.2 80.5,443.2 81.4,443.2 82.2,443.2 83.1,443.2 83.9,443.2 84.8,443.2 85.6,443.2 86.5,443.2 87.3,443.2 88.2,443.2 89.0,443.2 89.9,443.2 90.7,443.2 91.6,443.2 92.4,443.2 93.3,443.2 94.1,443.2 95.0,443.2 95.8,443.2 96.7,443.2 97.5,443.2 98.4,443.2 99.2,443.2 100.1,443.2 100.9,443.2 101.8,443.2 102.6,443.2 103.5,443.2 104.3,443.2 105.2,443.2 106.0,443.2 106.9,443.2 107.7,443.2 108.6,443.2 109.4,443.2 110.3,443.2 111.1,443.2 112.0,443.2 112.8,443.2 113.7,443.2 114.5,443.2 115.4,443.2 116.2,443.2 117.1,443.2 117.9,443.2 118.8,443.2 119.6,443.2 120.5,443.2 121.3,443.2 122.2,443.2 123.0,443.2 123.9,443.2 124.7,443.2 125.6,443.2 126.4,443.2 127.3,443.2 128.1,443.2 129.0,443.2 129.8,443.2 130.7,443.2 131.5,443.2 132.4,443.2 133.2,443.2 134.1,443.2 134.9,443.2 135.8,443.2 136.6,443.2 137.5,443.2 138.3,443.2 139.2,443.2 140.0,443.2 140.9,443.2 141.7,443.2 142.6,443.2 143.4,443.2 144.3,443.2 145.1,443.2 146.0,443.2 146.8,443.2 147.7,443.2 148.5,443.2 149.4,443.2 150.2,443.2 151.1,443.2 151.9,443.2 152.8,443.2 153.6,443.2 154.5,443.2 155.3,443.2 156.2,443.2 157.0,443.2 157.9,443.2 158.7,443.2 159.6,443.2 160.4,443.2 161.3,443.2 162.1,443.2 163.0,443.2 163.8,443.2 164.7,443.2 165.5,443.2 166.4,443.2 167.2,443.2 168.1,443.2 168.9,443.2 169.8,443.2 170.6,443.2 171.5,443.2 172.3,443.2 173.2,443.2 174.0,443.2 174.9,443.2 175.7,443.2 176.6,443.2 177.4,443.2 178.3,443.2 179.1,443.2 180.0,443.2 180.8,443.2 181.7,443.2 182.5,443.2 183.4,443.2 184.2,443.2 185.1,443.2 185.9,443.2 186.8,443.2 187.6,443.2 188.5,443.2 189.3,443.2 190.2,443.2 191.0,443.2 191.9,443.2 192.7,443.2 193.6,443.2 194.4,443.2 195.3,443.2 196.1,443.2 197.0,443.2 197.0,443.2 197.8,442.8 198.7,442.4 199.5,442.1 200.4,441.7 201.2,441.3 202.1,440.9 202.9,440.5 203.0,440.5 203.8,440.8 204.6,441.2 205.5,441.5 206.3,441.9 207.2,442.2 208.0,442.6 208.9,443.0 209.0,443.0 209.7,443.0 210.6,443.0 211.4,443.0 212.3,443.0 213.1,443.0 214.0,443.0 214.8,443.0 215.7,443.0 216.5,443.0 217.4,443.0 218.2,443.0 219.1,443.0 219.9,443.0 220.8,443.0 221.6,443.0 222.5,443.0 223.3,443.0 224.2,443.0 225.0,443.0 225.9,443.0 226.7,443.0 227.6,443.0 228.4,443.0 229.0,443.0 229.3,442.7 230.1,441.9 231.0,441.0 231.8,440.2 232.0,440.0 232.7,439.9 233.5,439.9 234.4,439.8 235.2,439.7 236.1,439.6 236.9,439.5 237.8,439.5 238.6,439.4 239.5,439.3 240.3,439.2 241.2,439.1 242.0,439.1 242.9,439.8 243.7,439.7 244.6,437.4 244.8,438.8 245.4,437.3 246.3,439.2 247.1,438.8 248.0,438.5 248.8,437.5 249.7,438.2 250.5,438.1 251.4,437.9 252.2,436.7 253.1,437.3 253.9,437.1 254.8,437.8 255.6,438.4 256.5,438.2 257.3,437.1 258.2,436.7 259.0,436.2 259.9,435.5 260.7,435.3 261.6,436.3 262.4,435.9 263.3,435.9 263.7,436.5 264.1,437.2 265.0,436.2 265.8,436.2 266.7,435.3 267.5,434.7 268.4,435.4 269.2,434.9 270.1,435.8 270.9,437.0 271.6,436.0 271.8,436.3 272.6,435.6 273.5,438.1 274.3,438.4 275.2,438.9 276.0,439.2 276.4,439.5 276.9,439.1 277.7,439.1 278.6,438.0 279.4,437.3 280.3,435.5 281.1,436.3 282.0,435.6 282.8,432.8 283.7,433.6 284.0,433.0 284.5,433.0 285.4,432.1 286.2,432.0 287.1,431.6 287.9,432.5 288.8,431.1 289.6,431.6 290.5,430.1 291.3,431.2 292.2,431.0 293.0,429.6 293.9,429.6 294.5,429.5 294.7,430.4 295.6,430.3 296.4,430.0 297.3,429.7 298.1,430.4 299.0,431.7 299.8,430.8 300.0,432.0 300.7,433.2 301.5,432.2 302.4,434.4 303.2,433.5 304.1,435.7 305.0,435.7 305.8,435.8 306.4,436.5 306.7,436.4 307.5,437.5 308.4,438.0 309.2,438.0 310.1,439.5 310.9,440.3 311.8,441.0 312.6,441.7 313.0,442.0 313.5,441.7 314.3,441.1 315.2,440.5 316.0,439.9 316.9,439.2 317.7,437.6 318.6,437.7 319.4,438.2 320.0,437.0 320.3,437.1 321.1,436.0 322.0,438.3 322.8,438.4 323.7,439.2 324.5,437.7 325.4,439.1 326.2,439.5 327.1,439.8 327.9,440.2 328.8,440.5 329.6,440.8 330.0,441.0 330.5,441.0 331.3,440.9 332.2,440.9 333.0,440.9 333.9,440.8 334.7,440.8 335.6,440.7 336.4,440.7 337.3,440.7 338.1,440.6 339.0,440.6 339.8,440.5 340.7,440.5 341.5,440.5 342.4,440.4 343.2,440.4 344.1,440.3 344.9,440.3 345.8,440.3 346.6,440.2 347.5,440.2 348.3,440.1 349.2,440.1 350.0,440.1 350.9,440.0 351.7,440.0 352.6,439.9 353.4,439.9 354.3,439.9 355.1,439.8 356.0,439.8 356.8,439.7 357.7,439.7 358.5,439.7 359.4,439.6 360.2,439.6 361.1,439.5 361.9,439.5 362.0,439.5 362.8,438.6 363.6,435.4 364.5,435.5 365.3,433.1 366.2,431.6 367.0,431.9 367.9,428.5 368.7,428.2 369.6,427.6 370.4,424.6 371.3,423.1 372.1,423.5 372.4,422.3 373.0,420.5 373.8,419.3 374.7,415.5 375.5,413.8 376.4,410.9 377.2,411.3 378.1,406.5 378.9,408.7 379.3,406.2 379.8,401.7 380.6,401.9 381.5,395.3 382.3,393.3 382.7,393.6 383.2,394.0 384.0,389.8 384.9,388.9 385.7,390.3 386.6,387.8 387.3,388.0 387.4,384.8 388.3,385.8 389.1,378.3 390.0,374.2 390.8,372.2 391.7,369.9 392.3,367.3 392.5,369.0 393.4,370.6 394.2,376.3 395.1,379.4 395.9,386.1 396.5,390.2 396.8,391.4 397.6,393.1 398.5,395.6 399.3,396.7 400.2,399.0 401.0,399.7 401.0,400.1 401.9,397.6 402.7,395.1 403.6,395.8 404.4,392.8 405.3,390.4 406.1,390.8 407.0,391.5 407.8,386.5 408.5,387.8 408.7,384.9 409.5,369.3 410.4,360.6 411.2,341.0 412.1,347.9 412.9,320.9 413.8,317.3 414.6,301.8 415.5,281.4 415.6,293.0 416.3,297.8 417.2,296.2 418.0,302.0 418.9,309.2 419.7,319.8 420.3,335.6 420.6,322.4 421.4,329.9 422.3,322.5 423.1,328.6 424.0,323.0 424.8,319.8 425.7,298.2 426.5,302.4 426.5,298.4 427.4,299.7 428.2,312.9 429.1,319.3 429.9,328.9 430.8,332.6 431.6,328.1 432.2,340.3 432.5,334.8 433.3,333.7 434.2,318.6 435.0,315.9 435.9,320.9 436.7,310.9 437.6,321.2 438.4,307.0 439.3,300.4 439.3,312.0 440.1,306.1 441.0,311.5 441.8,315.4 442.7,326.5 443.5,329.5 444.0,335.6 444.4,325.5 445.2,325.4 446.1,308.3 446.9,316.4 447.8,310.2 448.6,297.4 449.5,283.4 450.3,277.6 451.0,274.0 451.2,273.2 452.0,262.4 452.9,271.7 453.7,275.2 454.6,268.6 455.4,267.8 456.3,284.7 457.1,276.1 458.0,280.6 458.3,283.4 458.8,281.0 459.7,258.5 460.5,235.9 461.4,236.0 462.2,206.9 463.0,198.0 463.1,185.1 463.9,210.9 464.8,208.8 465.6,224.3 466.5,247.2 467.3,254.4 468.2,250.6 469.0,271.3 469.9,281.3 470.0,288.0 470.7,280.2 471.6,268.2 472.4,271.0 473.3,253.7 474.1,252.7 475.0,248.9 475.8,255.8 476.7,230.8 477.0,240.7 477.5,248.3 478.4,243.8 479.2,260.3 480.1,264.3 480.9,274.0 481.8,288.5 482.0,288.0 482.6,279.2 483.5,267.9 484.3,262.7 485.2,256.6 486.0,268.7 486.9,258.8 487.7,260.8 488.6,249.7 489.0,245.4 489.4,230.1 490.3,240.5 491.1,239.3 492.0,234.2 492.8,225.3 493.7,218.3 494.5,216.6 495.4,220.4 496.2,204.7 496.3,212.2 497.1,219.0 497.9,228.1 498.8,249.1 499.6,255.9 500.5,269.0 501.3,277.1 502.2,275.2 503.0,284.0 503.4,297.6 503.9,295.4 504.7,292.0 505.6,297.4 506.4,304.8 507.3,311.8 508.1,306.0 509.0,312.9 509.8,298.4 510.7,305.9 511.5,322.0 512.4,304.6 513.0,316.6 513.2,312.2 514.1,305.7 514.9,307.4 515.8,326.9 516.6,330.3 517.5,323.9 518.3,313.6 519.2,318.7 520.0,325.8 520.9,328.8 521.7,330.2 522.4,331.0 522.6,331.0 523.4,335.2 524.3,337.5 525.1,343.2 526.0,348.8 526.8,352.0 527.7,353.3 528.5,358.9 529.4,363.7 529.5,364.0 530.2,360.2 531.1,359.9 531.9,355.3 532.8,353.5 533.6,349.4 534.5,349.0 535.3,345.3 536.2,341.6 536.6,340.3 537.0,339.4 537.9,342.9 538.7,343.5 539.6,348.1 540.4,351.5 541.3,351.0 542.1,354.6 543.0,356.7 543.7,359.3 543.8,358.0 544.7,355.8 545.5,353.2 546.4,348.8 547.2,344.4 548.1,342.9 548.9,336.9 549.8,335.1 550.6,331.3 551.5,328.3 552.3,325.2 553.0,321.4 553.2,320.2 554.0,324.3 554.9,326.0 555.7,329.5 556.6,333.3 557.4,334.4 558.3,334.4 559.1,338.7 560.0,342.2 560.8,345.4 561.7,347.0 562.5,350.2 562.7,350.0 563.4,348.2 564.2,352.8 565.1,352.8 565.9,353.1 566.8,355.2 567.6,355.9 568.5,353.7 569.3,357.4 570.2,358.0 571.0,356.6 571.9,359.6 572.0,359.3 572.7,359.0 573.6,357.3 574.4,359.6 575.3,356.7 576.1,358.5 577.0,357.6 577.8,356.7 578.7,357.8 579.5,357.2 580.4,356.0 581.2,358.9 582.1,355.2 582.9,354.7 583.8,356.5 584.0,357.0 584.6,358.6 585.5,358.9 586.3,360.3 587.2,360.3 588.0,362.1 588.9,361.8 589.7,362.6 590.6,364.6 591.4,363.7 592.3,365.0 593.1,368.7 593.6,368.8 594.0,366.6 594.8,367.9 595.7,367.0 596.5,364.4 597.4,364.5 598.2,363.9 599.1,363.2 599.9,359.3 600.8,358.3 601.6,358.2 602.5,357.5 603.3,355.8 604.2,353.6 605.0,354.8 605.4,354.6 605.9,356.9 606.7,356.1 607.6,358.5 608.4,359.5 609.3,361.5 610.1,364.9 611.0,364.3 611.8,367.3 612.6,368.8 612.7,368.2 613.5,367.4 614.4,367.9 615.2,363.5 616.1,365.4 616.9,362.3 617.8,362.7 618.6,362.3 619.5,360.7 620.3,358.6 621.2,359.4 622.0,355.4 622.9,356.5 623.7,354.5 624.4,354.6 624.6,352.3 625.4,342.8 626.3,331.8 627.1,320.3 628.0,308.2 628.8,292.4 629.7,285.2 630.5,270.8 631.4,260.7 631.5,264.4 632.2,275.3 633.1,268.5 633.9,286.5 634.8,286.2 635.6,292.7 636.3,302.4 636.5,301.0 637.3,316.7 638.2,342.4 639.0,357.4 639.9,381.4 640.0,387.8 640.7,368.7 641.6,361.7 642.4,345.5 643.3,321.1 644.1,307.6 645.0,295.6 645.8,274.0 645.8,269.2 646.7,280.4 647.5,297.5 648.4,311.6 649.2,334.3 650.1,344.2 650.9,358.8 651.5,373.6 651.8,370.7 652.6,342.6 653.5,332.6 654.3,310.7 655.2,287.8 655.3,288.0 656.0,294.4 656.9,290.6 657.7,303.0 658.6,307.7 659.4,304.8 660.0,309.5 660.3,309.9 661.1,311.5 662.0,312.0 662.8,313.0 663.7,314.2 664.5,315.3 665.4,315.9 666.2,317.4 667.1,316.7 667.9,318.4 668.8,319.5 669.6,319.7 670.5,320.8 671.3,321.2 672.2,324.0 673.0,323.6 673.9,324.8 674.7,326.8 675.6,326.0 676.4,328.9 677.3,327.8 678.1,328.5 679.0,330.3 679.0,331.0 679.8,331.2 680.7,333.3 681.5,334.1 682.4,334.7 683.2,334.7 684.1,335.8 684.9,335.9 685.8,338.2 686.6,338.0 687.5,338.6 688.3,340.3 689.2,339.9 690.0,341.2 690.9,343.5 691.7,342.3 692.6,343.3 693.4,344.3 694.3,345.2 695.1,346.5 696.0,346.9 696.8,348.0 697.7,348.6 698.5,349.4 699.4,351.2 700.2,352.1 701.1,352.9 701.9,353.7 702.8,354.6 703.6,355.4 704.5,356.3 705.3,357.1 706.2,358.0 707.0,358.8 707.5,359.3 707.9,359.7 708.7,360.6 709.6,361.6 710.4,362.5 711.3,363.4 712.1,364.4 713.0,365.3 713.8,366.2 714.7,367.2 715.5,368.1 716.4,369.0 717.2,370.0 718.1,370.9 718.9,371.9 719.8,372.8 720.6,373.7 721.5,374.7 722.3,375.6 723.2,376.5 724.0,377.5 724.9,378.4 725.7,379.3 726.6,380.3 727.4,381.2 728.3,382.2 729.1,383.1 730.0,384.0 730.8,385.0 731.2,385.4 731.7,385.9 732.5,386.8 733.4,387.8 734.2,388.7 735.1,389.6 735.9,390.6 736.8,391.5 737.6,392.4 738.5,393.4 739.3,394.3 740.2,395.2 741.0,396.1 741.9,397.1 742.7,398.0 743.6,398.9 744.4,399.9 745.3,400.8 746.1,401.7 747.0,402.7 747.8,403.6 748.7,404.5 749.5,405.5 750.4,406.4 751.2,407.3 752.1,408.3 752.9,409.2 753.8,410.1 754.6,411.1 755.0,411.5 755.5,412.0 756.3,412.8 757.2,413.7 758.0,414.5 758.9,415.4 759.7,416.2 760.6,417.1 761.4,417.9 762.3,418.8 763.1,419.6 764.0,420.5 764.8,421.3 765.7,422.2 766.5,423.0 767.4,423.9 768.2,424.7 769.1,425.6 769.9,426.4 770.8,427.3 771.6,428.1 772.5,429.0 773.3,429.8 774.0,430.5 774.2,430.6 775.0,431.2 775.9,431.8 776.7,432.3 777.6,432.9 778.4,433.5 779.3,434.1 780.1,434.6 781.0,435.2 781.8,435.8 782.7,436.4 783.5,436.9 784.4,437.5 785.2,438.1 786.1,438.7 786.9,439.3 787.8,439.8 788.0,440.0 788.6,440.2 789.5,440.5 790.3,440.8 791.2,441.1 792.0,441.4 792.9,441.7 793.7,442.0 794.6,442.3 795.4,442.5 796.3,442.8 797.1,443.1 797.6,443.3 798.0,443.3 798.8,443.3 799.7,443.3 800.5,443.3 801.4,443.3 802.2,443.3 803.1,443.3 803.9,443.3 804.8,443.3 805.6,443.3 806.5,443.3 807.3,443.3 808.2,443.3 809.0,443.3 809.9,443.3 810.7,443.3 811.6,443.3 812.4,443.3 813.3,443.3 814.1,443.3 815.0,443.3 815.8,443.3 816.7,443.3 817.5,443.3 818.4,443.3 819.2,443.3 820.1,443.3 820.9,443.3 821.8,443.3 822.6,443.3 823.5,443.3 824.3,443.3 825.2,443.3 826.0,443.3 826.9,443.3 827.7,443.3 828.6,443.3 829.4,443.3 830.3,443.3 831.1,443.3 832.0,443.3 832.8,443.3 833.7,443.3 834.5,443.3 835.4,443.3 836.2,443.3 837.1,443.3 837.9,443.3 838.8,443.3 839.6,443.3 840.5,443.3 841.3,443.3 842.2,443.3 843.0,443.3 843.9,443.3 844.7,443.3 845.6,443.3 846.4,443.3 847.3,443.3 848.1,443.3 849.0,443.3 849.8,443.3 850.7,443.3 851.5,443.3 852.4,443.3 853.2,443.3 854.1,443.3 854.9,443.3 855.8,443.3 856.6,443.3 857.5,443.3 858.3,443.3 859.2,443.3 860.0,443.3 860.9,443.3 861.7,443.3 862.6,443.3 863.4,443.3 864.3,443.3 865.1,443.3 866.0,443.3 866.8,443.3 867.7,443.3 868.5,443.3 869.4,443.3 870.2,443.3 871.1,443.3 871.9,443.3 872.8,443.3 873.6,443.3 874.5,443.3 875.3,443.3 876.2,443.3 877.0,443.3 877.9,443.3 878.7,443.3 879.6,443.3 880.4,443.3 881.3,443.3 882.1,443.3 883.0,443.3 883.8,443.3 884.7,443.3 885.5,443.3 886.4,443.3 887.2,443.3 888.1,443.3 888.9,443.3 889.8,443.3 890.6,443.3 891.5,443.3 892.3,443.3 893.2,443.3 894.0,443.3 894.9,443.3 895.7,443.3 896.6,443.3 897.4,443.3 898.3,443.3 899.1,443.3 900.0,443.3 900.8,443.3 901.7,443.3 902.5,443.3 903.4,443.3 904.2,443.3 905.1,443.3 905.9,443.3 906.8,443.3 907.6,443.3 908.5,443.3 909.3,443.3 910.2,443.3 910.6,443.3" fill="none" stroke="#3a8fe0" stroke-width="1" stroke-linejoin="miter"/><path d="M61.0 443.2h0M61.0 443.2h0M61.9 443.2h0M62.7 443.2h0M63.6 443.2h0M64.4 443.2h0M65.2 443.2h0M66.1 443.2h0M66.9 443.2h0M67.8 443.2h0M68.6 443.2h0M69.5 443.2h0M70.3 443.2h0M71.2 443.2h0M72.0 443.2h0M72.9 443.2h0M73.7 443.2h0M74.6 443.2h0M75.4 443.2h0M76.3 443.2h0M77.1 443.2h0M78.0 443.2h0M78.8 443.2h0M79.7 443.2h0M80.5 443.2h0M81.4 443.2h0M82.2 443.2h0M83.1 443.2h0M83.9 443.2h0M84.8 443.2h0M85.6 443.2h0M86.5 443.2h0M87.3 443.2h0M88.2 443.2h0M89.0 443.2h0M89.9 443.2h0M90.7 443.2h0M91.6 443.2h0M92.4 443.2h0M93.3 443.2h0M94.1 443.2h0M95.0 443.2h0M95.8 443.2h0M96.7 443.2h0M97.5 443.2h0M98.4 443.2h0M99.2 443.2h0M100.1 443.2h0M100.9 443.2h0M101.8 443.2h0M102.6 443.2h0M103.5 443.2h0M104.3 443.2h0M105.2 443.2h0M106.0 443.2h0M106.9 443.2h0M107.7 443.2h0M108.6 443.2h0M109.4 443.2h0M110.3 443.2h0M111.1 443.2h0M112.0 443.2h0M112.8 443.2h0M113.7 443.2h0M114.5 443.2h0M115.4 443.2h0M116.2 443.2h0M117.1 443.2h0M117.9 443.2h0M118.8 443.2h0M119.6 443.2h0M120.5 443.2h0M121.3 443.2h0M122.2 443.2h0M123.0 443.2h0M123.9 443.2h0M124.7 443.2h0M125.6 443.2h0M126.4 443.2h0M127.3 443.2h0M128.1 443.2h0M129.0 443.2h0M129.8 443.2h0M130.7 443.2h0M131.5 443.2h0M132.4 443.2h0M133.2 443.2h0M134.1 443.2h0M134.9 443.2h0M135.8 443.2h0M136.6 443.2h0M137.5 443.2h0M138.3 443.2h0M139.2 443.2h0M140.0 443.2h0M140.9 443.2h0M141.7 443.2h0M142.6 443.2h0M143.4 443.2h0M144.3 443.2h0M145.1 443.2h0M146.0 443.2h0M146.8 443.2h0M147.7 443.2h0M148.5 443.2h0M149.4 443.2h0M150.2 443.2h0M151.1 443.2h0M151.9 443.2h0M152.8 443.2h0M153.6 443.2h0M154.5 443.2h0M155.3 443.2h0M156.2 443.2h0M157.0 443.2h0M157.9 443.2h0M158.7 443.2h0M159.6 443.2h0M160.4 443.2h0M161.3 443.2h0M162.1 443.2h0M163.0 443.2h0M163.8 443.2h0M164.7 443.2h0M165.5 443.2h0M166.4 443.2h0M167.2 443.2h0M168.1 443.2h0M168.9 443.2h0M169.8 443.2h0M170.6 443.2h0M171.5 443.2h0M172.3 443.2h0M173.2 443.2h0M174.0 443.2h0M174.9 443.2h0M175.7 443.2h0M176.6 443.2h0M177.4 443.2h0M178.3 443.2h0M179.1 443.2h0M180.0 443.2h0M180.8 443.2h0M181.7 443.2h0M182.5 443.2h0M183.4 443.2h0M184.2 443.2h0M185.1 443.2h0M185.9 443.2h0M186.8 443.2h0M187.6 443.2h0M188.5 443.2h0M189.3 443.2h0M190.2 443.2h0M191.0 443.2h0M191.9 443.2h0M192.7 443.2h0M193.6 443.2h0M194.4 443.2h0M195.3 443.2h0M196.1 443.2h0M197.0 443.2h0M197.0 443.2h0M197.8 442.8h0M198.7 442.4h0M199.5 442.1h0M200.4 441.7h0M201.2 441.3h0M202.1 440.9h0M202.9 440.5h0M203.0 440.5h0M203.8 440.8h0M204.6 441.2h0M205.5 441.5h0M206.3 441.9h0M207.2 442.2h0M208.0 442.6h0M208.9 443.0h0M209.0 443.0h0M209.7 443.0h0M210.6 443.0h0M211.4 443.0h0M212.3 443.0h0M213.1 443.0h0M214.0 443.0h0M214.8 443.0h0M215.7 443.0h0M216.5 443.0h0M217.4 443.0h0M218.2 443.0h0M219.1 443.0h0M219.9 443.0h0M220.8 443.0h0M221.6 443.0h0M222.5 443.0h0M223.3 443.0h0M224.2 443.0h0M225.0 443.0h0M225.9 443.0h0M226.7 443.0h0M227.6 443.0h0M228.4 443.0h0M229.0 443.0h0M229.3 442.7h0M230.1 441.9h0M231.0 441.0h0M231.8 440.2h0M232.0 440.0h0M232.7 439.9h0M233.5 439.9h0M234.4 439.8h0M235.2 439.7h0M236.1 439.6h0M236.9 439.5h0M237.8 439.5h0M238.6 439.4h0M239.5 439.3h0M240.3 439.2h0M241.2 439.1h0M242.0 439.1h0M242.9 439.8h0M243.7 439.7h0M244.6 437.4h0M244.8 438.8h0M245.4 437.3h0M246.3 439.2h0M247.1 438.8h0M248.0 438.5h0M248.8 437.5h0M249.7 438.2h0M250.5 438.1h0M251.4 437.9h0M252.2 436.7h0M253.1 437.3h0M253.9 437.1h0M254.8 437.8h0M255.6 438.4h0M256.5 438.2h0M257.3 437.1h0M258.2 436.7h0M259.0 436.2h0M259.9 435.5h0M260.7 435.3h0M261.6 436.3h0M262.4 435.9h0M263.3 435.9h0M263.7 436.5h0M264.1 437.2h0M265.0 436.2h0M265.8 436.2h0M266.7 435.3h0M267.5 434.7h0M268.4 435.4h0M269.2 434.9h0M270.1 435.8h0M270.9 437.0h0M271.6 436.0h0M271.8 436.3h0M272.6 435.6h0M273.5 438.1h0M274.3 438.4h0M275.2 438.9h0M276.0 439.2h0M276.4 439.5h0M276.9 439.1h0M277.7 439.1h0M278.6 438.0h0M279.4 437.3h0M280.3 435.5h0M281.1 436.3h0M282.0 435.6h0M282.8 432.8h0M283.7 433.6h0M284.0 433.0h0M284.5 433.0h0M285.4 432.1h0M286.2 432.0h0M287.1 431.6h0M287.9 432.5h0M288.8 431.1h0M289.6 431.6h0M290.5 430.1h0M291.3 431.2h0M292.2 431.0h0M293.0 429.6h0M293.9 429.6h0M294.5 429.5h0M294.7 430.4h0M295.6 430.3h0M296.4 430.0h0M297.3 429.7h0M298.1 430.4h0M299.0 431.7h0M299.8 430.8h0M300.0 432.0h0M300.7 433.2h0M301.5 432.2h0M302.4 434.4h0M303.2 433.5h0M304.1 435.7h0M305.0 435.7h0M305.8 435.8h0M306.4 436.5h0M306.7 436.4h0M307.5 437.5h0M308.4 438.0h0M309.2 438.0h0M310.1 439.5h0M310.9 440.3h0M311.8 441.0h0M312.6 441.7h0M313.0 442.0h0M313.5 441.7h0M314.3 441.1h0M315.2 440.5h0M316.0 439.9h0M316.9 439.2h0M317.7 437.6h0M318.6 437.7h0M319.4 438.2h0M320.0 437.0h0M320.3 437.1h0M321.1 436.0h0M322.0 438.3h0M322.8 438.4h0M323.7 439.2h0M324.5 437.7h0M325.4 439.1h0M326.2 439.5h0M327.1 439.8h0M327.9 440.2h0M328.8 440.5h0M329.6 440.8h0M330.0 441.0h0M330.5 441.0h0M331.3 440.9h0M332.2 440.9h0M333.0 440.9h0M333.9 440.8h0M334.7 440.8h0M335.6 440.7h0M336.4 440.7h0M337.3 440.7h0M338.1 440.6h0M339.0 440.6h0M339.8 440.5h0M340.7 440.5h0M341.5 440.5h0M342.4 440.4h0M343.2 440.4h0M344.1 440.3h0M344.9 440.3h0M345.8 440.3h0M346.6 440.2h0M347.5 440.2h0M348.3 440.1h0M349.2 440.1h0M350.0 440.1h0M350.9 440.0h0M351.7 440.0h0M352.6 439.9h0M353.4 439.9h0M354.3 439.9h0M355.1 439.8h0M356.0 439.8h0M356.8 439.7h0M357.7 439.7h0M358.5 439.7h0M359.4 439.6h0M360.2 439.6h0M361.1 439.5h0M361.9 439.5h0M362.0 439.5h0M362.8 438.6h0M363.6 435.4h0M364.5 435.5h0M365.3 433.1h0M366.2 431.6h0M367.0 431.9h0M367.9 428.5h0M368.7 428.2h0M369.6 427.6h0M370.4 424.6h0M371.3 423.1h0M372.1 423.5h0M372.4 422.3h0M373.0 420.5h0M373.8 419.3h0M374.7 415.5h0M375.5 413.8h0M376.4 410.9h0M377.2 411.3h0M378.1 406.5h0M378.9 408.7h0M379.3 406.2h0M379.8 401.7h0M380.6 401.9h0M381.5 395.3h0M382.3 393.3h0M382.7 393.6h0M383.2 394.0h0M384.0 389.8h0M384.9 388.9h0M385.7 390.3h0M386.6 387.8h0M387.3 388.0h0M387.4 384.8h0M388.3 385.8h0M389.1 378.3h0M390.0 374.2h0M390.8 372.2h0M391.7 369.9h0M392.3 367.3h0M392.5 369.0h0M393.4 370.6h0M394.2 376.3h0M395.1 379.4h0M395.9 386.1h0M396.5 390.2h0M396.8 391.4h0M397.6 393.1h0M398.5 395.6h0M399.3 396.7h0M400.2 399.0h0M401.0 399.7h0M401.0 400.1h0M401.9 397.6h0M402.7 395.1h0M403.6 395.8h0M404.4 392.8h0M405.3 390.4h0M406.1 390.8h0M407.0 391.5h0M407.8 386.5h0M408.5 387.8h0M408.7 384.9h0M409.5 369.3h0M410.4 360.6h0M411.2 341.0h0M412.1 347.9h0M412.9 320.9h0M413.8 317.3h0M414.6 301.8h0M415.5 281.4h0M415.6 293.0h0M416.3 297.8h0M417.2 296.2h0M418.0 302.0h0M418.9 309.2h0M419.7 319.8h0M420.3 335.6h0M420.6 322.4h0M421.4 329.9h0M422.3 322.5h0M423.1 328.6h0M424.0 323.0h0M424.8 319.8h0M425.7 298.2h0M426.5 302.4h0M426.5 298.4h0M427.4 299.7h0M428.2 312.9h0M429.1 319.3h0M429.9 328.9h0M430.8 332.6h0M431.6 328.1h0M432.2 340.3h0M432.5 334.8h0M433.3 333.7h0M434.2 318.6h0M435.0 315.9h0M435.9 320.9h0M436.7 310.9h0M437.6 321.2h0M438.4 307.0h0M439.3 300.4h0M439.3 312.0h0M440.1 306.1h0M441.0 311.5h0M441.8 315.4h0M442.7 326.5h0M443.5 329.5h0M444.0 335.6h0M444.4 325.5h0M445.2 325.4h0M446.1 308.3h0M446.9 316.4h0M447.8 310.2h0M448.6 297.4h0M449.5 283.4h0M450.3 277.6h0M451.0 274.0h0M451.2 273.2h0M452.0 262.4h0M452.9 271.7h0M453.7 275.2h0M454.6 268.6h0M455.4 267.8h0M456.3 284.7h0M457.1 276.1h0M458.0 280.6h0M458.3 283.4h0M458.8 281.0h0M459.7 258.5h0M460.5 235.9h0M461.4 236.0h0M462.2 206.9h0M463.0 198.0h0M463.1 185.1h0M463.9 210.9h0M464.8 208.8h0M465.6 224.3h0M466.5 247.2h0M467.3 254.4h0M468.2 250.6h0M469.0 271.3h0M469.9 281.3h0M470.0 288.0h0M470.7 280.2h0M471.6 268.2h0M472.4 271.0h0M473.3 253.7h0M474.1 252.7h0M475.0 248.9h0M475.8 255.8h0M476.7 230.8h0M477.0 240.7h0M477.5 248.3h0M478.4 243.8h0M479.2 260.3h0M480.1 264.3h0M480.9 274.0h0M481.8 288.5h0M482.0 288.0h0M482.6 279.2h0M483.5 267.9h0M484.3 262.7h0M485.2 256.6h0M486.0 268.7h0M486.9 258.8h0M487.7 260.8h0M488.6 249.7h0M489.0 245.4h0M489.4 230.1h0M490.3 240.5h0M491.1 239.3h0M492.0 234.2h0M492.8 225.3h0M493.7 218.3h0M494.5 216.6h0M495.4 220.4h0M496.2 204.7h0M496.3 212.2h0M497.1 219.0h0M497.9 228.1h0M498.8 249.1h0M499.6 255.9h0M500.5 269.0h0M501.3 277.1h0M502.2 275.2h0M503.0 284.0h0M503.4 297.6h0M503.9 295.4h0M504.7 292.0h0M505.6 297.4h0M506.4 304.8h0M507.3 311.8h0M508.1 306.0h0M509.0 312.9h0M509.8 298.4h0M510.7 305.9h0M511.5 322.0h0M512.4 304.6h0M513.0 316.6h0M513.2 312.2h0M514.1 305.7h0M514.9 307.4h0M515.8 326.9h0M516.6 330.3h0M517.5 323.9h0M518.3 313.6h0M519.2 318.7h0M520.0 325.8h0M520.9 328.8h0M521.7 330.2h0M522.4 331.0h0M522.6 331.0h0M523.4 335.2h0M524.3 337.5h0M525.1 343.2h0M526.0 348.8h0M526.8 352.0h0M527.7 353.3h0M528.5 358.9h0M529.4 363.7h0M529.5 364.0h0M530.2 360.2h0M531.1 359.9h0M531.9 355.3h0M532.8 353.5h0M533.6 349.4h0M534.5 349.0h0M535.3 345.3h0M536.2 341.6h0M536.6 340.3h0M537.0 339.4h0M537.9 342.9h0M538.7 343.5h0M539.6 348.1h0M540.4 351.5h0M541.3 351.0h0M542.1 354.6h0M543.0 356.7h0M543.7 359.3h0M543.8 358.0h0M544.7 355.8h0M545.5 353.2h0M546.4 348.8h0M547.2 344.4h0M548.1 342.9h0M548.9 336.9h0M549.8 335.1h0M550.6 331.3h0M551.5 328.3h0M552.3 325.2h0M553.0 321.4h0M553.2 320.2h0M554.0 324.3h0M554.9 326.0h0M555.7 329.5h0M556.6 333.3h0M557.4 334.4h0M558.3 334.4h0M559.1 338.7h0M560.0 342.2h0M560.8 345.4h0M561.7 347.0h0M562.5 350.2h0M562.7 350.0h0M563.4 348.2h0M564.2 352.8h0M565.1 352.8h0M565.9 353.1h0M566.8 355.2h0M567.6 355.9h0M568.5 353.7h0M569.3 357.4h0M570.2 358.0h0M571.0 356.6h0M571.9 359.6h0M572.0 359.3h0M572.7 359.0h0M573.6 357.3h0M574.4 359.6h0M575.3 356.7h0M576.1 358.5h0M577.0 357.6h0M577.8 356.7h0M578.7 357.8h0M579.5 357.2h0M580.4 356.0h0M581.2 358.9h0M582.1 355.2h0M582.9 354.7h0M583.8 356.5h0M584.0 357.0h0M584.6 358.6h0M585.5 358.9h0M586.3 360.3h0M587.2 360.3h0M588.0 362.1h0M588.9 361.8h0M589.7 362.6h0M590.6 364.6h0M591.4 363.7h0M592.3 365.0h0M593.1 368.7h0M593.6 368.8h0M594.0 366.6h0M594.8 367.9h0M595.7 367.0h0M596.5 364.4h0M597.4 364.5h0M598.2 363.9h0M599.1 363.2h0M599.9 359.3h0M600.8 358.3h0M601.6 358.2h0M602.5 357.5h0M603.3 355.8h0M604.2 353.6h0M605.0 354.8h0M605.4 354.6h0M605.9 356.9h0M606.7 356.1h0M607.6 358.5h0M608.4 359.5h0M609.3 361.5h0M610.1 364.9h0M611.0 364.3h0M611.8 367.3h0M612.6 368.8h0M612.7 368.2h0M613.5 367.4h0M614.4 367.9h0M615.2 363.5h0M616.1 365.4h0M616.9 362.3h0M617.8 362.7h0M618.6 362.3h0M619.5 360.7h0M620.3 358.6h0M621.2 359.4h0M622.0 355.4h0M622.9 356.5h0M623.7 354.5h0M624.4 354.6h0M624.6 352.3h0M625.4 342.8h0M626.3 331.8h0M627.1 320.3h0M628.0 308.2h0M628.8 292.4h0M629.7 285.2h0M630.5 270.8h0M631.4 260.7h0M631.5 264.4h0M632.2 275.3h0M633.1 268.5h0M633.9 286.5h0M634.8 286.2h0M635.6 292.7h0M636.3 302.4h0M636.5 301.0h0M637.3 316.7h0M638.2 342.4h0M639.0 357.4h0M639.9 381.4h0M640.0 387.8h0M640.7 368.7h0M641.6 361.7h0M642.4 345.5h0M643.3 321.1h0M644.1 307.6h0M645.0 295.6h0M645.8 274.0h0M645.8 269.2h0M646.7 280.4h0M647.5 297.5h0M648.4 311.6h0M649.2 334.3h0M650.1 344.2h0M650.9 358.8h0M651.5 373.6h0M651.8 370.7h0M652.6 342.6h0M653.5 332.6h0M654.3 310.7h0M655.2 287.8h0M655.3 288.0h0M656.0 294.4h0M656.9 290.6h0M657.7 303.0h0M658.6 307.7h0M659.4 304.8h0M660.0 309.5h0M660.3 309.9h0M661.1 311.5h0M662.0 312.0h0M662.8 313.0h0M663.7 314.2h0M664.5 315.3h0M665.4 315.9h0M666.2 317.4h0M667.1 316.7h0M667.9 318.4h0M668.8 319.5h0M669.6 319.7h0M670.5 320.8h0M671.3 321.2h0M672.2 324.0h0M673.0 323.6h0M673.9 324.8h0M674.7 326.8h0M675.6 326.0h0M676.4 328.9h0M677.3 327.8h0M678.1 328.5h0M679.0 330.3h0M679.0 331.0h0M679.8 331.2h0M680.7 333.3h0M681.5 334.1h0M682.4 334.7h0M683.2 334.7h0M684.1 335.8h0M684.9 335.9h0M685.8 338.2h0M686.6 338.0h0M687.5 338.6h0M688.3 340.3h0M689.2 339.9h0M690.0 341.2h0M690.9 343.5h0M691.7 342.3h0M692.6 343.3h0M693.4 344.3h0M694.3 345.2h0M695.1 346.5h0M696.0 346.9h0M696.8 348.0h0M697.7 348.6h0M698.5 349.4h0M699.4 351.2h0M700.2 352.1h0M701.1 352.9h0M701.9 353.7h0M702.8 354.6h0M703.6 355.4h0M704.5 356.3h0M705.3 357.1h0M706.2 358.0h0M707.0 358.8h0M707.5 359.3h0M707.9 359.7h0M708.7 360.6h0M709.6 361.6h0M710.4 362.5h0M711.3 363.4h0M712.1 364.4h0M713.0 365.3h0M713.8 366.2h0M714.7 367.2h0M715.5 368.1h0M716.4 369.0h0M717.2 370.0h0M718.1 370.9h0M718.9 371.9h0M719.8 372.8h0M720.6 373.7h0M721.5 374.7h0M722.3 375.6h0M723.2 376.5h0M724.0 377.5h0M724.9 378.4h0M725.7 379.3h0M726.6 380.3h0M727.4 381.2h0M728.3 382.2h0M729.1 383.1h0M730.0 384.0h0M730.8 385.0h0M731.2 385.4h0M731.7 385.9h0M732.5 386.8h0M733.4 387.8h0M734.2 388.7h0M735.1 389.6h0M735.9 390.6h0M736.8 391.5h0M737.6 392.4h0M738.5 393.4h0M739.3 394.3h0M740.2 395.2h0M741.0 396.1h0M741.9 397.1h0M742.7 398.0h0M743.6 398.9h0M744.4 399.9h0M745.3 400.8h0M746.1 401.7h0M747.0 402.7h0M747.8 403.6h0M748.7 404.5h0M749.5 405.5h0M750.4 406.4h0M751.2 407.3h0M752.1 408.3h0M752.9 409.2h0M753.8 410.1h0M754.6 411.1h0M755.0 411.5h0M755.5 412.0h0M756.3 412.8h0M757.2 413.7h0M758.0 414.5h0M758.9 415.4h0M759.7 416.2h0M760.6 417.1h0M761.4 417.9h0M762.3 418.8h0M763.1 419.6h0M764.0 420.5h0M764.8 421.3h0M765.7 422.2h0M766.5 423.0h0M767.4 423.9h0M768.2 424.7h0M769.1 425.6h0M769.9 426.4h0M770.8 427.3h0M771.6 428.1h0M772.5 429.0h0M773.3 429.8h0M774.0 430.5h0M774.2 430.6h0M775.0 431.2h0M775.9 431.8h0M776.7 432.3h0M777.6 432.9h0M778.4 433.5h0M779.3 434.1h0M780.1 434.6h0M781.0 435.2h0M781.8 435.8h0M782.7 436.4h0M783.5 436.9h0M784.4 437.5h0M785.2 438.1h0M786.1 438.7h0M786.9 439.3h0M787.8 439.8h0M788.0 440.0h0M788.6 440.2h0M789.5 440.5h0M790.3 440.8h0M791.2 441.1h0M792.0 441.4h0M792.9 441.7h0M793.7 442.0h0M794.6 442.3h0M795.4 442.5h0M796.3 442.8h0M797.1 443.1h0M797.6 443.3h0M798.0 443.3h0M798.8 443.3h0M799.7 443.3h0M800.5 443.3h0M801.4 443.3h0M802.2 443.3h0M803.1 443.3h0M803.9 443.3h0M804.8 443.3h0M805.6 443.3h0M806.5 443.3h0M807.3 443.3h0M808.2 443.3h0M809.0 443.3h0M809.9 443.3h0M810.7 443.3h0M811.6 443.3h0M812.4 443.3h0M813.3 443.3h0M814.1 443.3h0M815.0 443.3h0M815.8 443.3h0M816.7 443.3h0M817.5 443.3h0M818.4 443.3h0M819.2 443.3h0M820.1 443.3h0M820.9 443.3h0M821.8 443.3h0M822.6 443.3h0M823.5 443.3h0M824.3 443.3h0M825.2 443.3h0M826.0 443.3h0M826.9 443.3h0M827.7 443.3h0M828.6 443.3h0M829.4 443.3h0M830.3 443.3h0M831.1 443.3h0M832.0 443.3h0M832.8 443.3h0M833.7 443.3h0M834.5 443.3h0M835.4 443.3h0M836.2 443.3h0M837.1 443.3h0M837.9 443.3h0M838.8 443.3h0M839.6 443.3h0M840.5 443.3h0M841.3 443.3h0M842.2 443.3h0M843.0 443.3h0M843.9 443.3h0M844.7 443.3h0M845.6 443.3h0M846.4 443.3h0M847.3 443.3h0M848.1 443.3h0M849.0 443.3h0M849.8 443.3h0M850.7 443.3h0M851.5 443.3h0M852.4 443.3h0M853.2 443.3h0M854.1 443.3h0M854.9 443.3h0M855.8 443.3h0M856.6 443.3h0M857.5 443.3h0M858.3 443.3h0M859.2 443.3h0M860.0 443.3h0M860.9 443.3h0M861.7 443.3h0M862.6 443.3h0M863.4 443.3h0M864.3 443.3h0M865.1 443.3h0M866.0 443.3h0M866.8 443.3h0M867.7 443.3h0M868.5 443.3h0M869.4 443.3h0M870.2 443.3h0M871.1 443.3h0M871.9 443.3h0M872.8 443.3h0M873.6 443.3h0M874.5 443.3h0M875.3 443.3h0M876.2 443.3h0M877.0 443.3h0M877.9 443.3h0M878.7 443.3h0M879.6 443.3h0M880.4 443.3h0M881.3 443.3h0M882.1 443.3h0M883.0 443.3h0M883.8 443.3h0M884.7 443.3h0M885.5 443.3h0M886.4 443.3h0M887.2 443.3h0M888.1 443.3h0M888.9 443.3h0M889.8 443.3h0M890.6 443.3h0M891.5 443.3h0M892.3 443.3h0M893.2 443.3h0M894.0 443.3h0M894.9 443.3h0M895.7 443.3h0M896.6 443.3h0M897.4 443.3h0M898.3 443.3h0M899.1 443.3h0M900.0 443.3h0M900.8 443.3h0M901.7 443.3h0M902.5 443.3h0M903.4 443.3h0M904.2 443.3h0M905.1 443.3h0M905.9 443.3h0M906.8 443.3h0M907.6 443.3h0M908.5 443.3h0M909.3 443.3h0M910.2 443.3h0M910.6 443.3h0" fill="none" stroke="#3a8fe0" stroke-width="2.2" stroke-linecap="round"/><polyline points="61.0,445.8 61.0,445.8 61.9,445.8 62.7,445.8 63.6,445.8 64.4,445.8 65.2,445.8 66.1,445.8 66.9,445.8 67.8,445.8 68.6,445.8 69.5,445.8 70.3,445.8 71.2,445.8 72.0,445.8 72.9,445.8 73.7,445.8 74.6,445.8 75.4,445.8 76.3,445.8 77.1,445.8 78.0,445.8 78.8,445.8 79.7,445.8 80.5,445.8 81.4,445.8 82.2,445.8 83.1,445.8 83.9,445.8 84.8,445.8 85.6,445.8 86.5,445.8 87.3,445.8 88.2,445.8 89.0,445.8 89.9,445.8 90.7,445.8 91.6,445.8 92.4,445.8 93.3,445.8 94.1,445.8 95.0,445.8 95.8,445.8 96.7,445.8 97.5,445.8 98.4,445.8 99.2,445.8 100.1,445.8 100.9,445.8 101.8,445.8 102.6,445.8 103.5,445.8 104.3,445.8 105.2,445.8 106.0,445.8 106.9,445.8 107.7,445.8 108.6,445.8 109.4,445.8 110.3,445.8 111.1,445.8 112.0,445.8 112.8,445.8 113.7,445.8 114.5,445.8 115.4,445.8 116.2,445.8 117.1,445.8 117.9,445.8 118.8,445.8 119.6,445.8 120.5,445.8 121.3,445.8 122.2,445.8 123.0,445.8 123.9,445.8 124.7,445.8 125.6,445.8 126.4,445.8 127.3,445.8 128.1,445.8 129.0,445.8 129.8,445.8 130.7,445.8 131.5,445.8 132.4,445.8 133.2,445.8 134.1,445.8 134.9,445.8 135.8,445.8 136.6,445.8 137.5,445.8 138.3,445.8 139.2,445.8 140.0,445.8 140.9,445.8 141.7,445.8 142.6,445.8 143.4,445.8 144.3,445.8 145.1,445.8 146.0,445.8 146.8,445.8 147.7,445.8 148.5,445.8 149.4,445.8 150.2,445.8 151.1,445.8 151.9,445.8 152.8,445.8 153.6,445.8 154.5,445.8 155.3,445.8 156.2,445.8 157.0,445.8 157.9,445.8 158.7,445.8 159.6,445.8 160.4,445.8 161.3,445.8 162.1,445.8 163.0,445.8 163.8,445.8 164.7,445.8 165.5,445.8 166.4,445.8 167.2,445.8 168.1,445.8 168.9,445.8 169.8,445.8 170.6,445.8 171.5,445.8 172.3,445.8 173.2,445.8 174.0,445.8 174.9,445.8 175.7,445.8 176.6,445.8 177.4,445.8 178.3,445.8 179.1,445.8 180.0,445.8 180.8,445.8 181.7,445.8 182.5,445.8 183.4,445.8 184.2,445.8 185.1,445.8 185.9,445.8 186.8,445.8 187.6,445.8 188.5,445.8 189.3,445.8 190.2,445.8 191.0,445.8 191.9,445.8 192.7,445.8 193.6,445.8 194.4,445.8 195.3,445.8 196.1,445.8 197.0,445.8 197.8,445.8 198.7,445.8 199.5,445.8 200.4,445.8 201.0,445.8 201.2,445.4 202.1,444.0 202.9,442.6 203.8,441.2 204.5,440.0 204.6,440.2 205.5,441.7 206.3,443.1 207.2,444.5 208.0,445.8 208.0,445.8 208.9,445.8 209.7,445.8 210.6,445.8 211.4,445.8 212.3,445.8 213.1,445.8 214.0,445.8 214.8,445.8 215.7,445.8 216.5,445.8 217.4,445.8 218.2,445.8 219.1,445.8 219.9,445.8 220.8,445.8 221.6,445.8 222.5,445.8 223.3,445.8 224.2,445.8 225.0,445.8 225.9,445.8 226.7,445.8 227.6,445.8 228.4,445.8 229.0,445.8 229.3,445.4 230.1,444.1 231.0,442.9 231.8,441.7 232.7,440.4 233.0,440.0 233.5,439.8 234.4,439.6 235.2,439.3 236.1,439.0 236.9,437.8 237.8,438.3 238.6,437.6 239.5,437.9 240.3,437.7 241.2,436.0 242.0,435.6 242.9,437.4 243.7,435.7 244.6,435.4 244.8,436.3 245.4,437.2 246.3,435.8 247.1,436.7 248.0,435.7 248.8,436.0 249.7,434.7 250.5,435.9 251.4,436.4 252.2,435.4 253.1,435.9 253.9,435.7 254.8,434.1 255.6,435.8 256.5,435.3 257.3,434.5 258.2,433.7 259.0,435.8 259.9,434.7 260.7,435.3 261.6,435.6 262.4,435.1 263.3,435.6 263.7,434.8 264.1,434.2 265.0,435.1 265.8,434.1 266.7,435.3 267.5,435.1 268.4,433.0 269.2,433.0 270.1,433.1 270.9,434.9 271.6,434.0 271.8,433.7 272.6,434.9 273.5,434.8 274.3,436.0 275.2,436.4 276.0,437.0 276.4,438.0 276.9,437.4 277.7,436.6 278.6,436.6 279.4,435.3 280.3,435.1 281.1,434.1 282.0,433.6 282.8,432.0 283.7,429.9 284.0,430.8 284.5,431.2 285.4,431.0 286.2,430.5 287.1,429.2 287.9,429.2 288.8,427.5 289.6,428.7 290.5,427.7 291.3,426.6 292.2,425.6 293.0,427.2 293.9,427.2 294.5,426.0 294.7,424.8 295.6,427.2 296.4,426.9 297.3,426.8 298.1,427.8 299.0,429.6 299.8,430.5 300.0,430.0 300.7,429.0 301.5,431.1 302.4,430.3 303.2,432.7 304.1,432.3 305.0,434.4 305.8,435.3 306.4,434.8 306.7,434.7 307.5,436.8 308.4,435.8 309.2,436.0 310.1,438.2 310.9,439.0 311.8,439.8 312.6,440.6 313.0,441.0 313.5,440.6 314.3,439.9 315.2,439.2 316.0,436.9 316.9,436.6 317.7,436.4 318.6,436.2 319.4,434.3 320.0,435.0 320.3,433.8 321.1,436.7 322.0,436.2 322.8,438.7 323.7,439.3 324.5,439.5 325.4,440.4 326.2,441.2 327.1,442.1 327.9,442.9 328.8,443.8 329.6,444.6 330.0,445.0 330.5,445.0 331.3,445.0 332.2,444.9 333.0,444.9 333.9,444.9 334.7,444.9 335.6,444.8 336.4,444.8 337.3,444.8 338.1,444.7 339.0,444.7 339.8,444.7 340.7,444.7 341.5,444.6 342.4,444.6 343.2,444.6 344.1,444.6 344.9,444.5 345.8,444.5 346.6,444.5 347.5,444.5 348.3,444.4 349.2,444.4 350.0,444.4 350.9,444.3 351.7,444.3 352.6,444.3 353.4,444.3 354.3,444.2 355.1,444.2 356.0,444.2 356.8,444.2 357.7,444.1 358.5,444.1 359.4,444.1 360.2,444.1 361.1,444.0 361.9,444.0 362.0,444.0 362.8,442.8 363.6,441.4 364.5,440.0 365.3,438.0 366.2,436.8 367.0,435.6 367.9,434.5 368.7,433.0 369.6,431.5 370.4,430.3 371.3,429.7 372.1,427.2 372.4,427.0 373.0,424.9 373.8,423.2 374.7,419.5 375.5,416.4 376.4,417.2 377.2,412.5 378.1,410.2 378.9,405.1 379.8,404.6 380.6,402.9 381.5,397.7 382.3,398.1 382.7,397.0 383.2,396.1 384.0,391.5 384.9,392.4 385.7,389.8 386.6,389.0 387.4,385.7 388.3,385.5 389.1,383.9 390.0,378.6 390.8,377.0 391.7,378.1 392.3,376.5 392.5,378.9 393.4,378.8 394.2,383.2 395.1,387.2 395.9,389.2 396.8,392.8 397.6,395.9 398.5,399.5 398.7,401.7 399.3,401.0 400.2,398.7 401.0,398.2 401.9,399.3 402.7,394.9 403.6,396.6 404.4,396.6 405.3,393.7 406.1,392.4 407.0,394.4 407.8,390.8 408.5,392.0 408.7,380.2 409.5,374.5 410.4,369.1 411.2,344.5 412.1,338.2 412.9,327.2 413.8,327.2 414.6,307.1 415.5,305.1 415.6,298.0 416.3,294.0 417.2,305.4 418.0,320.0 418.9,332.9 419.7,330.7 420.3,340.0 420.6,329.7 421.4,322.7 422.3,327.2 423.1,314.9 424.0,324.1 424.8,320.1 425.7,300.8 426.5,306.0 426.5,298.2 427.4,315.9 428.2,318.0 429.1,327.5 429.9,323.0 430.8,324.0 431.6,333.4 432.2,345.0 432.5,347.8 433.3,332.9 434.2,331.3 435.0,329.7 435.9,326.5 436.7,323.1 437.6,331.3 438.4,310.9 439.3,304.3 439.3,318.0 440.1,328.9 441.0,331.4 441.8,337.8 442.7,329.4 443.5,344.9 444.0,340.0 444.4,343.8 445.2,320.7 446.1,325.1 446.9,319.9 447.8,308.7 448.6,298.2 449.5,285.8 450.3,279.6 451.0,280.0 451.2,271.3 452.0,268.9 452.9,281.7 453.7,276.1 454.6,289.0 455.4,273.0 456.3,293.4 457.1,289.9 458.0,296.2 458.3,290.0 458.8,286.3 459.7,269.7 460.5,245.8 461.4,216.5 462.2,216.3 463.1,186.8 463.9,173.0 464.5,168.5 464.8,173.7 465.6,185.6 466.5,198.0 467.3,224.7 468.0,230.0 468.2,234.4 469.0,254.6 469.9,279.0 470.0,292.0 470.7,292.7 471.6,278.5 472.4,279.8 473.3,264.5 474.1,255.5 475.0,257.4 475.8,258.2 476.7,238.1 477.0,246.0 477.5,254.3 478.4,265.1 479.2,270.3 480.1,278.5 480.9,268.0 481.8,289.8 482.0,292.0 482.6,335.5 483.5,371.4 484.3,430.4 484.4,444.7 485.2,368.9 486.0,300.0 486.0,297.8 486.9,281.3 487.7,268.3 488.6,260.9 489.0,250.0 489.4,230.9 490.3,221.1 491.1,211.7 492.0,200.6 492.8,188.4 493.7,197.7 494.5,184.0 495.3,168.5 495.4,168.5 496.2,181.2 497.1,191.7 497.9,206.3 498.0,215.0 498.8,221.0 499.6,241.3 500.5,253.6 501.3,262.2 502.2,272.1 503.0,288.9 503.4,302.0 503.9,291.7 504.7,303.2 505.6,308.5 506.4,302.8 507.3,297.8 508.1,301.8 509.0,307.9 509.8,314.9 510.7,320.6 511.5,313.4 512.4,324.6 513.0,322.0 513.2,322.3 514.1,319.3 514.9,319.4 515.8,323.5 516.6,329.5 517.5,324.5 518.3,332.0 519.2,328.1 520.0,331.7 520.9,334.2 521.7,336.2 522.4,337.0 522.6,335.5 523.4,340.8 524.3,344.8 525.1,350.6 526.0,354.7 526.8,356.4 527.7,362.5 528.5,366.0 529.4,367.9 529.5,370.0 530.2,367.0 531.1,362.8 531.9,362.6 532.8,359.2 533.6,357.2 534.5,353.9 535.3,350.6 536.2,348.0 536.6,346.0 537.0,346.8 537.9,347.3 538.7,351.5 539.6,351.4 540.4,354.2 541.3,359.0 542.1,358.4 543.0,360.9 543.7,365.0 543.8,362.5 544.7,362.1 545.5,355.9 546.4,351.8 547.2,351.6 548.1,345.2 548.9,344.6 549.8,340.5 550.6,337.7 551.5,334.6 552.3,329.7 553.0,327.0 553.2,328.1 554.0,327.6 554.9,333.1 555.7,334.6 556.6,338.0 557.4,338.1 558.3,343.2 559.1,346.5 560.0,345.5 560.8,349.1 561.7,352.6 562.5,356.2 562.7,356.0 563.4,355.1 564.2,355.7 565.1,356.8 565.9,359.1 566.8,360.4 567.6,359.8 568.5,360.5 569.3,361.5 570.2,362.1 571.0,363.2 571.9,362.7 572.0,365.0 572.7,364.4 573.6,366.1 574.4,363.8 575.3,364.9 576.1,362.5 577.0,364.4 577.8,364.6 578.7,364.1 579.5,363.3 580.4,363.0 581.2,363.5 582.1,364.4 582.9,361.3 583.8,360.9 584.0,363.0 584.6,364.2 585.5,366.0 586.3,365.4 587.2,366.2 588.0,368.4 588.9,367.3 589.7,368.7 590.6,369.5 591.4,372.1 592.3,372.1 593.1,372.8 593.6,375.0 594.0,374.8 594.8,374.8 595.7,371.1 596.5,371.6 597.4,369.4 598.2,370.1 599.1,367.9 599.9,365.6 600.8,364.3 601.6,362.4 602.5,363.2 603.3,361.7 604.2,359.8 605.0,359.5 605.4,360.0 605.9,359.7 606.7,363.3 607.6,362.6 608.4,367.7 609.3,367.4 610.1,369.7 611.0,370.9 611.8,374.2 612.6,375.0 612.7,375.7 613.5,373.6 614.4,372.2 615.2,372.1 616.1,371.5 616.9,368.6 617.8,368.9 618.6,368.7 619.5,365.7 620.3,363.6 621.2,362.6 622.0,363.4 622.9,362.2 623.7,362.2 624.4,360.0 624.6,359.0 625.4,345.5 626.3,334.3 627.1,323.5 628.0,312.2 628.8,304.3 629.7,295.7 630.5,285.4 631.4,264.0 631.5,268.0 632.2,277.4 633.1,275.3 633.9,283.8 634.8,295.4 635.6,291.8 636.3,306.0 636.5,301.0 637.3,332.6 638.2,343.7 639.0,364.5 639.9,387.8 640.0,392.0 640.7,379.0 641.6,351.6 642.4,340.2 643.3,325.1 644.1,309.2 645.0,288.1 645.8,278.0 645.8,277.4 646.7,277.9 647.5,263.4 648.0,264.0 648.4,274.3 649.2,295.7 650.1,326.3 650.9,360.8 651.5,380.0 651.8,366.0 652.6,358.7 653.5,339.4 654.3,306.7 655.2,300.5 655.3,292.0 656.0,296.0 656.9,312.2 657.7,321.7 658.6,324.1 659.4,339.9 660.3,349.0 661.1,359.1 662.0,367.6 662.0,369.0 662.8,348.9 663.7,327.7 664.0,318.0 664.5,318.6 665.4,319.1 666.2,319.0 667.1,320.7 667.9,321.2 668.8,323.0 669.6,323.7 670.5,324.3 671.3,324.2 672.2,326.2 673.0,327.0 673.9,326.8 674.7,329.3 675.6,329.6 676.4,329.2 677.3,332.0 678.1,330.9 679.0,332.2 679.0,333.0 679.8,334.0 680.7,334.6 681.5,335.3 682.4,336.4 683.2,336.8 684.1,337.3 684.9,337.9 685.8,338.5 686.6,340.9 687.5,341.8 688.3,342.2 689.2,343.5 690.0,343.4 690.9,344.1 691.7,345.2 692.6,347.2 693.4,346.1 694.3,348.1 695.1,348.3 696.0,350.4 696.8,350.3 697.7,351.1 698.5,352.1 699.4,353.3 700.2,354.3 701.1,355.2 701.9,356.1 702.8,356.9 703.6,357.8 704.5,358.6 705.3,359.5 706.2,360.3 707.0,361.2 707.5,361.7 707.9,362.1 708.7,363.0 709.6,364.0 710.4,364.9 711.3,365.8 712.1,366.8 713.0,367.7 713.8,368.6 714.7,369.6 715.5,370.5 716.4,371.4 717.2,372.4 718.1,373.3 718.9,374.3 719.8,375.2 720.6,376.1 721.5,377.1 722.3,378.0 723.2,378.9 724.0,379.9 724.9,380.8 725.7,381.7 726.6,382.7 727.4,383.6 728.3,384.6 729.1,385.5 730.0,386.4 730.8,387.4 731.2,387.8 731.7,388.3 732.5,389.2 733.4,390.2 734.2,391.1 735.1,392.0 735.9,393.0 736.8,393.9 737.6,394.8 738.5,395.8 739.3,396.7 740.2,397.7 741.0,398.6 741.9,399.5 742.7,400.5 743.6,401.4 744.4,402.3 745.3,403.3 746.1,404.2 747.0,405.1 747.8,406.1 748.7,407.0 749.5,407.9 750.4,408.9 751.2,409.8 752.1,410.8 752.9,411.7 753.8,412.6 754.6,413.6 755.0,414.0 755.5,414.4 756.3,415.2 757.2,415.9 758.0,416.7 758.9,417.5 759.7,418.2 760.6,419.0 761.4,419.8 762.3,420.5 763.1,421.3 764.0,422.0 764.8,422.8 765.7,423.6 766.5,424.3 767.4,425.1 768.2,425.9 769.1,426.6 769.9,427.4 770.8,428.2 771.6,428.9 772.5,429.7 773.3,430.4 774.2,431.2 775.0,432.0 775.9,432.7 776.7,433.5 777.6,434.3 778.4,435.0 778.7,435.3 779.3,435.6 780.1,436.0 781.0,436.4 781.8,436.9 782.7,437.3 783.5,437.7 784.4,438.1 785.2,438.6 786.1,439.0 786.9,439.4 787.8,439.8 788.6,440.3 789.5,440.7 790.3,441.1 791.2,441.6 792.0,442.0 792.9,442.4 793.7,442.8 794.6,443.3 795.4,443.7 796.3,444.1 797.1,444.5 797.6,444.8 798.0,444.8 798.8,444.8 799.7,444.8 800.5,444.8 801.4,444.8 802.2,444.8 803.1,444.8 803.9,444.8 804.8,444.8 805.6,444.8 806.5,444.8 807.3,444.8 808.2,444.8 809.0,444.8 809.9,444.8 810.7,444.8 811.6,444.8 812.4,444.8 813.3,444.8 814.1,444.8 815.0,444.8 815.8,444.8 816.7,444.8 817.5,444.8 818.4,444.8 819.2,444.8 820.1,444.8 820.9,444.8 821.8,444.8 822.6,444.8 823.5,444.8 824.3,444.8 825.2,444.8 826.0,444.8 826.9,444.8 827.7,444.8 828.6,444.8 829.4,444.8 830.3,444.8 831.1,444.8 832.0,444.8 832.8,444.8 833.7,444.8 834.5,444.8 835.4,444.8 836.2,444.8 837.1,444.8 837.9,444.8 838.8,444.8 839.6,444.8 840.5,444.8 841.3,444.8 842.2,444.8 843.0,444.8 843.9,444.8 844.7,444.8 845.6,444.8 846.4,444.8 847.3,444.8 848.1,444.8 849.0,444.8 849.8,444.8 850.7,444.8 851.5,444.8 852.4,444.8 853.2,444.8 854.1,444.8 854.9,444.8 855.8,444.8 856.6,444.8 857.5,444.8 858.3,444.8 859.2,444.8 860.0,444.8 860.9,444.8 861.7,444.8 862.6,444.8 863.4,444.8 864.3,444.8 865.1,444.8 866.0,444.8 866.8,444.8 867.7,444.8 868.5,444.8 869.4,444.8 870.2,444.8 871.1,444.8 871.9,444.8 872.8,444.8 873.6,444.8 874.5,444.8 875.3,444.8 876.2,444.8 877.0,444.8 877.9,444.8 878.7,444.8 879.6,444.8 880.4,444.8 881.3,444.8 882.1,444.8 883.0,444.8 883.8,444.8 884.7,444.8 885.5,444.8 886.4,444.8 887.2,444.8 888.1,444.8 888.9,444.8 889.8,444.8 890.6,444.8 891.5,444.8 892.3,444.8 893.2,444.8 894.0,444.8 894.9,444.8 895.7,444.8 896.6,444.8 897.4,444.8 898.3,444.8 899.1,444.8 900.0,444.8 900.8,444.8 901.7,444.8 902.5,444.8 903.4,444.8 904.2,444.8 905.1,444.8 905.9,444.8 906.8,444.8 907.6,444.8 908.5,444.8 909.3,444.8 910.2,444.8 910.6,444.8" fill="none" stroke="#8fdcd0" stroke-width="1.2" stroke-linejoin="miter"/><path d="M61.0 445.8h0M61.0 445.8h0M61.9 445.8h0M62.7 445.8h0M63.6 445.8h0M64.4 445.8h0M65.2 445.8h0M66.1 445.8h0M66.9 445.8h0M67.8 445.8h0M68.6 445.8h0M69.5 445.8h0M70.3 445.8h0M71.2 445.8h0M72.0 445.8h0M72.9 445.8h0M73.7 445.8h0M74.6 445.8h0M75.4 445.8h0M76.3 445.8h0M77.1 445.8h0M78.0 445.8h0M78.8 445.8h0M79.7 445.8h0M80.5 445.8h0M81.4 445.8h0M82.2 445.8h0M83.1 445.8h0M83.9 445.8h0M84.8 445.8h0M85.6 445.8h0M86.5 445.8h0M87.3 445.8h0M88.2 445.8h0M89.0 445.8h0M89.9 445.8h0M90.7 445.8h0M91.6 445.8h0M92.4 445.8h0M93.3 445.8h0M94.1 445.8h0M95.0 445.8h0M95.8 445.8h0M96.7 445.8h0M97.5 445.8h0M98.4 445.8h0M99.2 445.8h0M100.1 445.8h0M100.9 445.8h0M101.8 445.8h0M102.6 445.8h0M103.5 445.8h0M104.3 445.8h0M105.2 445.8h0M106.0 445.8h0M106.9 445.8h0M107.7 445.8h0M108.6 445.8h0M109.4 445.8h0M110.3 445.8h0M111.1 445.8h0M112.0 445.8h0M112.8 445.8h0M113.7 445.8h0M114.5 445.8h0M115.4 445.8h0M116.2 445.8h0M117.1 445.8h0M117.9 445.8h0M118.8 445.8h0M119.6 445.8h0M120.5 445.8h0M121.3 445.8h0M122.2 445.8h0M123.0 445.8h0M123.9 445.8h0M124.7 445.8h0M125.6 445.8h0M126.4 445.8h0M127.3 445.8h0M128.1 445.8h0M129.0 445.8h0M129.8 445.8h0M130.7 445.8h0M131.5 445.8h0M132.4 445.8h0M133.2 445.8h0M134.1 445.8h0M134.9 445.8h0M135.8 445.8h0M136.6 445.8h0M137.5 445.8h0M138.3 445.8h0M139.2 445.8h0M140.0 445.8h0M140.9 445.8h0M141.7 445.8h0M142.6 445.8h0M143.4 445.8h0M144.3 445.8h0M145.1 445.8h0M146.0 445.8h0M146.8 445.8h0M147.7 445.8h0M148.5 445.8h0M149.4 445.8h0M150.2 445.8h0M151.1 445.8h0M151.9 445.8h0M152.8 445.8h0M153.6 445.8h0M154.5 445.8h0M155.3 445.8h0M156.2 445.8h0M157.0 445.8h0M157.9 445.8h0M158.7 445.8h0M159.6 445.8h0M160.4 445.8h0M161.3 445.8h0M162.1 445.8h0M163.0 445.8h0M163.8 445.8h0M164.7 445.8h0M165.5 445.8h0M166.4 445.8h0M167.2 445.8h0M168.1 445.8h0M168.9 445.8h0M169.8 445.8h0M170.6 445.8h0M171.5 445.8h0M172.3 445.8h0M173.2 445.8h0M174.0 445.8h0M174.9 445.8h0M175.7 445.8h0M176.6 445.8h0M177.4 445.8h0M178.3 445.8h0M179.1 445.8h0M180.0 445.8h0M180.8 445.8h0M181.7 445.8h0M182.5 445.8h0M183.4 445.8h0M184.2 445.8h0M185.1 445.8h0M185.9 445.8h0M186.8 445.8h0M187.6 445.8h0M188.5 445.8h0M189.3 445.8h0M190.2 445.8h0M191.0 445.8h0M191.9 445.8h0M192.7 445.8h0M193.6 445.8h0M194.4 445.8h0M195.3 445.8h0M196.1 445.8h0M197.0 445.8h0M197.8 445.8h0M198.7 445.8h0M199.5 445.8h0M200.4 445.8h0M201.0 445.8h0M201.2 445.4h0M202.1 444.0h0M202.9 442.6h0M203.8 441.2h0M204.5 440.0h0M204.6 440.2h0M205.5 441.7h0M206.3 443.1h0M207.2 444.5h0M208.0 445.8h0M208.0 445.8h0M208.9 445.8h0M209.7 445.8h0M210.6 445.8h0M211.4 445.8h0M212.3 445.8h0M213.1 445.8h0M214.0 445.8h0M214.8 445.8h0M215.7 445.8h0M216.5 445.8h0M217.4 445.8h0M218.2 445.8h0M219.1 445.8h0M219.9 445.8h0M220.8 445.8h0M221.6 445.8h0M222.5 445.8h0M223.3 445.8h0M224.2 445.8h0M225.0 445.8h0M225.9 445.8h0M226.7 445.8h0M227.6 445.8h0M228.4 445.8h0M229.0 445.8h0M229.3 445.4h0M230.1 444.1h0M231.0 442.9h0M231.8 441.7h0M232.7 440.4h0M233.0 440.0h0M233.5 439.8h0M234.4 439.6h0M235.2 439.3h0M236.1 439.0h0M236.9 437.8h0M237.8 438.3h0M238.6 437.6h0M239.5 437.9h0M240.3 437.7h0M241.2 436.0h0M242.0 435.6h0M242.9 437.4h0M243.7 435.7h0M244.6 435.4h0M244.8 436.3h0M245.4 437.2h0M246.3 435.8h0M247.1 436.7h0M248.0 435.7h0M248.8 436.0h0M249.7 434.7h0M250.5 435.9h0M251.4 436.4h0M252.2 435.4h0M253.1 435.9h0M253.9 435.7h0M254.8 434.1h0M255.6 435.8h0M256.5 435.3h0M257.3 434.5h0M258.2 433.7h0M259.0 435.8h0M259.9 434.7h0M260.7 435.3h0M261.6 435.6h0M262.4 435.1h0M263.3 435.6h0M263.7 434.8h0M264.1 434.2h0M265.0 435.1h0M265.8 434.1h0M266.7 435.3h0M267.5 435.1h0M268.4 433.0h0M269.2 433.0h0M270.1 433.1h0M270.9 434.9h0M271.6 434.0h0M271.8 433.7h0M272.6 434.9h0M273.5 434.8h0M274.3 436.0h0M275.2 436.4h0M276.0 437.0h0M276.4 438.0h0M276.9 437.4h0M277.7 436.6h0M278.6 436.6h0M279.4 435.3h0M280.3 435.1h0M281.1 434.1h0M282.0 433.6h0M282.8 432.0h0M283.7 429.9h0M284.0 430.8h0M284.5 431.2h0M285.4 431.0h0M286.2 430.5h0M287.1 429.2h0M287.9 429.2h0M288.8 427.5h0M289.6 428.7h0M290.5 427.7h0M291.3 426.6h0M292.2 425.6h0M293.0 427.2h0M293.9 427.2h0M294.5 426.0h0M294.7 424.8h0M295.6 427.2h0M296.4 426.9h0M297.3 426.8h0M298.1 427.8h0M299.0 429.6h0M299.8 430.5h0M300.0 430.0h0M300.7 429.0h0M301.5 431.1h0M302.4 430.3h0M303.2 432.7h0M304.1 432.3h0M305.0 434.4h0M305.8 435.3h0M306.4 434.8h0M306.7 434.7h0M307.5 436.8h0M308.4 435.8h0M309.2 436.0h0M310.1 438.2h0M310.9 439.0h0M311.8 439.8h0M312.6 440.6h0M313.0 441.0h0M313.5 440.6h0M314.3 439.9h0M315.2 439.2h0M316.0 436.9h0M316.9 436.6h0M317.7 436.4h0M318.6 436.2h0M319.4 434.3h0M320.0 435.0h0M320.3 433.8h0M321.1 436.7h0M322.0 436.2h0M322.8 438.7h0M323.7 439.3h0M324.5 439.5h0M325.4 440.4h0M326.2 441.2h0M327.1 442.1h0M327.9 442.9h0M328.8 443.8h0M329.6 444.6h0M330.0 445.0h0M330.5 445.0h0M331.3 445.0h0M332.2 444.9h0M333.0 444.9h0M333.9 444.9h0M334.7 444.9h0M335.6 444.8h0M336.4 444.8h0M337.3 444.8h0M338.1 444.7h0M339.0 444.7h0M339.8 444.7h0M340.7 444.7h0M341.5 444.6h0M342.4 444.6h0M343.2 444.6h0M344.1 444.6h0M344.9 444.5h0M345.8 444.5h0M346.6 444.5h0M347.5 444.5h0M348.3 444.4h0M349.2 444.4h0M350.0 444.4h0M350.9 444.3h0M351.7 444.3h0M352.6 444.3h0M353.4 444.3h0M354.3 444.2h0M355.1 444.2h0M356.0 444.2h0M356.8 444.2h0M357.7 444.1h0M358.5 444.1h0M359.4 444.1h0M360.2 444.1h0M361.1 444.0h0M361.9 444.0h0M362.0 444.0h0M362.8 442.8h0M363.6 441.4h0M364.5 440.0h0M365.3 438.0h0M366.2 436.8h0M367.0 435.6h0M367.9 434.5h0M368.7 433.0h0M369.6 431.5h0M370.4 430.3h0M371.3 429.7h0M372.1 427.2h0M372.4 427.0h0M373.0 424.9h0M373.8 423.2h0M374.7 419.5h0M375.5 416.4h0M376.4 417.2h0M377.2 412.5h0M378.1 410.2h0M378.9 405.1h0M379.8 404.6h0M380.6 402.9h0M381.5 397.7h0M382.3 398.1h0M382.7 397.0h0M383.2 396.1h0M384.0 391.5h0M384.9 392.4h0M385.7 389.8h0M386.6 389.0h0M387.4 385.7h0M388.3 385.5h0M389.1 383.9h0M390.0 378.6h0M390.8 377.0h0M391.7 378.1h0M392.3 376.5h0M392.5 378.9h0M393.4 378.8h0M394.2 383.2h0M395.1 387.2h0M395.9 389.2h0M396.8 392.8h0M397.6 395.9h0M398.5 399.5h0M398.7 401.7h0M399.3 401.0h0M400.2 398.7h0M401.0 398.2h0M401.9 399.3h0M402.7 394.9h0M403.6 396.6h0M404.4 396.6h0M405.3 393.7h0M406.1 392.4h0M407.0 394.4h0M407.8 390.8h0M408.5 392.0h0M408.7 380.2h0M409.5 374.5h0M410.4 369.1h0M411.2 344.5h0M412.1 338.2h0M412.9 327.2h0M413.8 327.2h0M414.6 307.1h0M415.5 305.1h0M415.6 298.0h0M416.3 294.0h0M417.2 305.4h0M418.0 320.0h0M418.9 332.9h0M419.7 330.7h0M420.3 340.0h0M420.6 329.7h0M421.4 322.7h0M422.3 327.2h0M423.1 314.9h0M424.0 324.1h0M424.8 320.1h0M425.7 300.8h0M426.5 306.0h0M426.5 298.2h0M427.4 315.9h0M428.2 318.0h0M429.1 327.5h0M429.9 323.0h0M430.8 324.0h0M431.6 333.4h0M432.2 345.0h0M432.5 347.8h0M433.3 332.9h0M434.2 331.3h0M435.0 329.7h0M435.9 326.5h0M436.7 323.1h0M437.6 331.3h0M438.4 310.9h0M439.3 304.3h0M439.3 318.0h0M440.1 328.9h0M441.0 331.4h0M441.8 337.8h0M442.7 329.4h0M443.5 344.9h0M444.0 340.0h0M444.4 343.8h0M445.2 320.7h0M446.1 325.1h0M446.9 319.9h0M447.8 308.7h0M448.6 298.2h0M449.5 285.8h0M450.3 279.6h0M451.0 280.0h0M451.2 271.3h0M452.0 268.9h0M452.9 281.7h0M453.7 276.1h0M454.6 289.0h0M455.4 273.0h0M456.3 293.4h0M457.1 289.9h0M458.0 296.2h0M458.3 290.0h0M458.8 286.3h0M459.7 269.7h0M460.5 245.8h0M461.4 216.5h0M462.2 216.3h0M463.1 186.8h0M463.9 173.0h0M464.5 168.5h0M464.8 173.7h0M465.6 185.6h0M466.5 198.0h0M467.3 224.7h0M468.0 230.0h0M468.2 234.4h0M469.0 254.6h0M469.9 279.0h0M470.0 292.0h0M470.7 292.7h0M471.6 278.5h0M472.4 279.8h0M473.3 264.5h0M474.1 255.5h0M475.0 257.4h0M475.8 258.2h0M476.7 238.1h0M477.0 246.0h0M477.5 254.3h0M478.4 265.1h0M479.2 270.3h0M480.1 278.5h0M480.9 268.0h0M481.8 289.8h0M482.0 292.0h0M482.6 335.5h0M483.5 371.4h0M484.3 430.4h0M484.4 444.7h0M485.2 368.9h0M486.0 300.0h0M486.0 297.8h0M486.9 281.3h0M487.7 268.3h0M488.6 260.9h0M489.0 250.0h0M489.4 230.9h0M490.3 221.1h0M491.1 211.7h0M492.0 200.6h0M492.8 188.4h0M493.7 197.7h0M494.5 184.0h0M495.3 168.5h0M495.4 168.5h0M496.2 181.2h0M497.1 191.7h0M497.9 206.3h0M498.0 215.0h0M498.8 221.0h0M499.6 241.3h0M500.5 253.6h0M501.3 262.2h0M502.2 272.1h0M503.0 288.9h0M503.4 302.0h0M503.9 291.7h0M504.7 303.2h0M505.6 308.5h0M506.4 302.8h0M507.3 297.8h0M508.1 301.8h0M509.0 307.9h0M509.8 314.9h0M510.7 320.6h0M511.5 313.4h0M512.4 324.6h0M513.0 322.0h0M513.2 322.3h0M514.1 319.3h0M514.9 319.4h0M515.8 323.5h0M516.6 329.5h0M517.5 324.5h0M518.3 332.0h0M519.2 328.1h0M520.0 331.7h0M520.9 334.2h0M521.7 336.2h0M522.4 337.0h0M522.6 335.5h0M523.4 340.8h0M524.3 344.8h0M525.1 350.6h0M526.0 354.7h0M526.8 356.4h0M527.7 362.5h0M528.5 366.0h0M529.4 367.9h0M529.5 370.0h0M530.2 367.0h0M531.1 362.8h0M531.9 362.6h0M532.8 359.2h0M533.6 357.2h0M534.5 353.9h0M535.3 350.6h0M536.2 348.0h0M536.6 346.0h0M537.0 346.8h0M537.9 347.3h0M538.7 351.5h0M539.6 351.4h0M540.4 354.2h0M541.3 359.0h0M542.1 358.4h0M543.0 360.9h0M543.7 365.0h0M543.8 362.5h0M544.7 362.1h0M545.5 355.9h0M546.4 351.8h0M547.2 351.6h0M548.1 345.2h0M548.9 344.6h0M549.8 340.5h0M550.6 337.7h0M551.5 334.6h0M552.3 329.7h0M553.0 327.0h0M553.2 328.1h0M554.0 327.6h0M554.9 333.1h0M555.7 334.6h0M556.6 338.0h0M557.4 338.1h0M558.3 343.2h0M559.1 346.5h0M560.0 345.5h0M560.8 349.1h0M561.7 352.6h0M562.5 356.2h0M562.7 356.0h0M563.4 355.1h0M564.2 355.7h0M565.1 356.8h0M565.9 359.1h0M566.8 360.4h0M567.6 359.8h0M568.5 360.5h0M569.3 361.5h0M570.2 362.1h0M571.0 363.2h0M571.9 362.7h0M572.0 365.0h0M572.7 364.4h0M573.6 366.1h0M574.4 363.8h0M575.3 364.9h0M576.1 362.5h0M577.0 364.4h0M577.8 364.6h0M578.7 364.1h0M579.5 363.3h0M580.4 363.0h0M581.2 363.5h0M582.1 364.4h0M582.9 361.3h0M583.8 360.9h0M584.0 363.0h0M584.6 364.2h0M585.5 366.0h0M586.3 365.4h0M587.2 366.2h0M588.0 368.4h0M588.9 367.3h0M589.7 368.7h0M590.6 369.5h0M591.4 372.1h0M592.3 372.1h0M593.1 372.8h0M593.6 375.0h0M594.0 374.8h0M594.8 374.8h0M595.7 371.1h0M596.5 371.6h0M597.4 369.4h0M598.2 370.1h0M599.1 367.9h0M599.9 365.6h0M600.8 364.3h0M601.6 362.4h0M602.5 363.2h0M603.3 361.7h0M604.2 359.8h0M605.0 359.5h0M605.4 360.0h0M605.9 359.7h0M606.7 363.3h0M607.6 362.6h0M608.4 367.7h0M609.3 367.4h0M610.1 369.7h0M611.0 370.9h0M611.8 374.2h0M612.6 375.0h0M612.7 375.7h0M613.5 373.6h0M614.4 372.2h0M615.2 372.1h0M616.1 371.5h0M616.9 368.6h0M617.8 368.9h0M618.6 368.7h0M619.5 365.7h0M620.3 363.6h0M621.2 362.6h0M622.0 363.4h0M622.9 362.2h0M623.7 362.2h0M624.4 360.0h0M624.6 359.0h0M625.4 345.5h0M626.3 334.3h0M627.1 323.5h0M628.0 312.2h0M628.8 304.3h0M629.7 295.7h0M630.5 285.4h0M631.4 264.0h0M631.5 268.0h0M632.2 277.4h0M633.1 275.3h0M633.9 283.8h0M634.8 295.4h0M635.6 291.8h0M636.3 306.0h0M636.5 301.0h0M637.3 332.6h0M638.2 343.7h0M639.0 364.5h0M639.9 387.8h0M640.0 392.0h0M640.7 379.0h0M641.6 351.6h0M642.4 340.2h0M643.3 325.1h0M644.1 309.2h0M645.0 288.1h0M645.8 278.0h0M645.8 277.4h0M646.7 277.9h0M647.5 263.4h0M648.0 264.0h0M648.4 274.3h0M649.2 295.7h0M650.1 326.3h0M650.9 360.8h0M651.5 380.0h0M651.8 366.0h0M652.6 358.7h0M653.5 339.4h0M654.3 306.7h0M655.2 300.5h0M655.3 292.0h0M656.0 296.0h0M656.9 312.2h0M657.7 321.7h0M658.6 324.1h0M659.4 339.9h0M660.3 349.0h0M661.1 359.1h0M662.0 367.6h0M662.0 369.0h0M662.8 348.9h0M663.7 327.7h0M664.0 318.0h0M664.5 318.6h0M665.4 319.1h0M666.2 319.0h0M667.1 320.7h0M667.9 321.2h0M668.8 323.0h0M669.6 323.7h0M670.5 324.3h0M671.3 324.2h0M672.2 326.2h0M673.0 327.0h0M673.9 326.8h0M674.7 329.3h0M675.6 329.6h0M676.4 329.2h0M677.3 332.0h0M678.1 330.9h0M679.0 332.2h0M679.0 333.0h0M679.8 334.0h0M680.7 334.6h0M681.5 335.3h0M682.4 336.4h0M683.2 336.8h0M684.1 337.3h0M684.9 337.9h0M685.8 338.5h0M686.6 340.9h0M687.5 341.8h0M688.3 342.2h0M689.2 343.5h0M690.0 343.4h0M690.9 344.1h0M691.7 345.2h0M692.6 347.2h0M693.4 346.1h0M694.3 348.1h0M695.1 348.3h0M696.0 350.4h0M696.8 350.3h0M697.7 351.1h0M698.5 352.1h0M699.4 353.3h0M700.2 354.3h0M701.1 355.2h0M701.9 356.1h0M702.8 356.9h0M703.6 357.8h0M704.5 358.6h0M705.3 359.5h0M706.2 360.3h0M707.0 361.2h0M707.5 361.7h0M707.9 362.1h0M708.7 363.0h0M709.6 364.0h0M710.4 364.9h0M711.3 365.8h0M712.1 366.8h0M713.0 367.7h0M713.8 368.6h0M714.7 369.6h0M715.5 370.5h0M716.4 371.4h0M717.2 372.4h0M718.1 373.3h0M718.9 374.3h0M719.8 375.2h0M720.6 376.1h0M721.5 377.1h0M722.3 378.0h0M723.2 378.9h0M724.0 379.9h0M724.9 380.8h0M725.7 381.7h0M726.6 382.7h0M727.4 383.6h0M728.3 384.6h0M729.1 385.5h0M730.0 386.4h0M730.8 387.4h0M731.2 387.8h0M731.7 388.3h0M732.5 389.2h0M733.4 390.2h0M734.2 391.1h0M735.1 392.0h0M735.9 393.0h0M736.8 393.9h0M737.6 394.8h0M738.5 395.8h0M739.3 396.7h0M740.2 397.7h0M741.0 398.6h0M741.9 399.5h0M742.7 400.5h0M743.6 401.4h0M744.4 402.3h0M745.3 403.3h0M746.1 404.2h0M747.0 405.1h0M747.8 406.1h0M748.7 407.0h0M749.5 407.9h0M750.4 408.9h0M751.2 409.8h0M752.1 410.8h0M752.9 411.7h0M753.8 412.6h0M754.6 413.6h0M755.0 414.0h0M755.5 414.4h0M756.3 415.2h0M757.2 415.9h0M758.0 416.7h0M758.9 417.5h0M759.7 418.2h0M760.6 419.0h0M761.4 419.8h0M762.3 420.5h0M763.1 421.3h0M764.0 422.0h0M764.8 422.8h0M765.7 423.6h0M766.5 424.3h0M767.4 425.1h0M768.2 425.9h0M769.1 426.6h0M769.9 427.4h0M770.8 428.2h0M771.6 428.9h0M772.5 429.7h0M773.3 430.4h0M774.2 431.2h0M775.0 432.0h0M775.9 432.7h0M776.7 433.5h0M777.6 434.3h0M778.4 435.0h0M778.7 435.3h0M779.3 435.6h0M780.1 436.0h0M781.0 436.4h0M781.8 436.9h0M782.7 437.3h0M783.5 437.7h0M784.4 438.1h0M785.2 438.6h0M786.1 439.0h0M786.9 439.4h0M787.8 439.8h0M788.6 440.3h0M789.5 440.7h0M790.3 441.1h0M791.2 441.6h0M792.0 442.0h0M792.9 442.4h0M793.7 442.8h0M794.6 443.3h0M795.4 443.7h0M796.3 444.1h0M797.1 444.5h0M797.6 444.8h0M798.0 444.8h0M798.8 444.8h0M799.7 444.8h0M800.5 444.8h0M801.4 444.8h0M802.2 444.8h0M803.1 444.8h0M803.9 444.8h0M804.8 444.8h0M805.6 444.8h0M806.5 444.8h0M807.3 444.8h0M808.2 444.8h0M809.0 444.8h0M809.9 444.8h0M810.7 444.8h0M811.6 444.8h0M812.4 444.8h0M813.3 444.8h0M814.1 444.8h0M815.0 444.8h0M815.8 444.8h0M816.7 444.8h0M817.5 444.8h0M818.4 444.8h0M819.2 444.8h0M820.1 444.8h0M820.9 444.8h0M821.8 444.8h0M822.6 444.8h0M823.5 444.8h0M824.3 444.8h0M825.2 444.8h0M826.0 444.8h0M826.9 444.8h0M827.7 444.8h0M828.6 444.8h0M829.4 444.8h0M830.3 444.8h0M831.1 444.8h0M832.0 444.8h0M832.8 444.8h0M833.7 444.8h0M834.5 444.8h0M835.4 444.8h0M836.2 444.8h0M837.1 444.8h0M837.9 444.8h0M838.8 444.8h0M839.6 444.8h0M840.5 444.8h0M841.3 444.8h0M842.2 444.8h0M843.0 444.8h0M843.9 444.8h0M844.7 444.8h0M845.6 444.8h0M846.4 444.8h0M847.3 444.8h0M848.1 444.8h0M849.0 444.8h0M849.8 444.8h0M850.7 444.8h0M851.5 444.8h0M852.4 444.8h0M853.2 444.8h0M854.1 444.8h0M854.9 444.8h0M855.8 444.8h0M856.6 444.8h0M857.5 444.8h0M858.3 444.8h0M859.2 444.8h0M860.0 444.8h0M860.9 444.8h0M861.7 444.8h0M862.6 444.8h0M863.4 444.8h0M864.3 444.8h0M865.1 444.8h0M866.0 444.8h0M866.8 444.8h0M867.7 444.8h0M868.5 444.8h0M869.4 444.8h0M870.2 444.8h0M871.1 444.8h0M871.9 444.8h0M872.8 444.8h0M873.6 444.8h0M874.5 444.8h0M875.3 444.8h0M876.2 444.8h0M877.0 444.8h0M877.9 444.8h0M878.7 444.8h0M879.6 444.8h0M880.4 444.8h0M881.3 444.8h0M882.1 444.8h0M883.0 444.8h0M883.8 444.8h0M884.7 444.8h0M885.5 444.8h0M886.4 444.8h0M887.2 444.8h0M888.1 444.8h0M888.9 444.8h0M889.8 444.8h0M890.6 444.8h0M891.5 444.8h0M892.3 444.8h0M893.2 444.8h0M894.0 444.8h0M894.9 444.8h0M895.7 444.8h0M896.6 444.8h0M897.4 444.8h0M898.3 444.8h0M899.1 444.8h0M900.0 444.8h0M900.8 444.8h0M901.7 444.8h0M902.5 444.8h0M903.4 444.8h0M904.2 444.8h0M905.1 444.8h0M905.9 444.8h0M906.8 444.8h0M907.6 444.8h0M908.5 444.8h0M909.3 444.8h0M910.2 444.8h0M910.6 444.8h0" fill="none" stroke="#8fdcd0" stroke-width="2.8" stroke-linecap="round"/><polyline points="61.0,407.0 61.0,407.0 61.9,407.0 62.7,407.0 63.6,407.0 64.4,407.0 65.2,407.0 66.1,407.0 66.9,407.0 67.8,407.0 68.6,407.0 69.5,407.0 70.3,407.0 71.2,407.0 72.0,407.0 72.9,407.0 73.7,407.0 74.6,407.0 75.4,407.0 76.3,407.0 77.1,407.0 78.0,407.0 78.8,407.0 79.7,407.0 80.5,407.0 81.4,407.0 82.2,407.0 83.1,407.0 83.9,407.0 84.8,407.0 85.6,407.0 86.5,407.0 87.3,407.0 88.2,407.0 89.0,407.0 89.9,407.0 90.7,407.0 91.6,407.0 92.4,407.0 93.3,407.0 94.1,407.0 95.0,407.0 95.8,407.0 96.7,407.0 97.5,407.0 98.4,407.0 99.2,407.0 100.1,407.0 100.9,407.0 101.8,407.0 102.6,407.0 103.5,407.0 104.3,407.0 105.2,407.0 106.0,407.0 106.9,407.0 107.7,407.0 108.6,407.0 109.4,407.0 110.3,407.0 111.1,407.0 112.0,407.0 112.8,407.0 113.7,407.0 114.5,407.0 115.4,407.0 116.2,407.0 117.1,407.0 117.9,407.0 118.8,407.0 119.6,407.0 120.5,407.0 121.3,407.0 122.2,407.0 123.0,407.0 123.9,407.0 124.7,407.0 125.6,407.0 126.4,407.0 127.3,407.0 128.1,407.0 129.0,407.0 129.8,407.0 130.7,407.0 131.5,407.0 132.4,407.0 133.2,407.0 134.1,407.0 134.9,407.0 135.8,407.0 136.6,407.0 137.5,407.0 138.3,407.0 139.2,407.0 140.0,407.0 140.9,407.0 141.7,407.0 142.6,407.0 143.4,407.0 144.3,407.0 145.1,407.0 146.0,407.0 146.8,407.0 147.7,407.0 148.5,407.0 149.4,407.0 150.2,407.0 151.1,407.0 151.9,407.0 152.8,407.0 153.6,407.0 154.5,407.0 155.3,407.0 156.2,407.0 157.0,407.0 157.9,407.0 158.7,407.0 159.6,407.0 160.4,407.0 161.3,407.0 162.1,407.0 163.0,407.0 163.8,407.0 164.7,407.0 165.5,407.0 166.4,407.0 167.2,407.0 168.1,407.0 168.9,407.0 169.8,407.0 170.6,407.0 171.5,407.0 172.3,407.0 173.2,407.0 174.0,407.0 174.9,407.0 175.7,407.0 176.6,407.0 177.4,407.0 178.3,407.0 179.1,407.0 180.0,407.0 180.8,407.0 181.7,407.0 182.5,407.0 183.4,407.0 184.2,407.0 185.1,407.0 185.9,407.0 186.8,407.0 187.6,407.0 188.5,407.0 189.3,407.0 190.2,406.0 191.0,405.7 191.9,406.4 192.7,405.8 193.6,405.6 194.4,406.4 195.3,407.7 196.0,407.0 196.1,407.4 197.0,406.8 197.8,405.0 198.7,405.3 199.5,404.2 200.4,403.5 201.2,402.8 202.1,402.6 202.9,404.0 203.8,403.3 204.5,402.4 204.6,402.9 205.5,403.2 206.3,402.0 207.2,402.6 208.0,403.7 208.9,404.3 209.7,404.9 210.6,405.3 211.4,403.6 212.3,405.2 213.0,405.5 213.1,405.6 214.0,405.0 214.8,404.0 215.7,404.5 216.5,403.4 217.4,405.4 218.2,405.0 219.1,404.0 219.9,403.2 220.8,404.6 221.6,403.6 222.5,404.2 223.3,403.9 224.2,402.9 225.0,403.0 225.0,402.4 225.9,402.7 226.7,402.0 227.6,401.0 228.4,401.1 229.3,402.2 230.1,400.0 231.0,399.7 231.8,400.9 232.7,399.8 233.5,400.2 234.4,399.8 235.0,400.0 235.2,399.2 236.1,400.7 236.9,398.4 237.8,398.8 238.6,398.0 239.5,398.9 240.3,397.8 241.2,397.8 242.0,398.6 242.9,397.3 243.7,397.7 244.6,398.4 244.8,397.6 245.4,396.4 246.3,396.5 247.1,397.2 248.0,398.8 248.8,398.6 249.7,397.9 250.5,398.3 251.4,398.2 252.2,399.1 253.1,398.3 253.9,400.2 254.0,400.0 254.8,400.4 255.6,400.2 256.5,399.4 257.3,399.6 258.2,396.9 259.0,397.3 259.9,398.7 260.7,397.9 261.6,396.7 262.4,397.8 263.3,396.6 263.7,396.5 264.1,397.0 265.0,395.7 265.8,395.5 266.7,396.2 267.5,395.5 268.4,396.1 269.2,397.7 270.1,396.1 270.9,395.3 271.8,395.5 272.6,395.8 273.0,397.0 273.5,397.8 274.3,397.3 275.2,397.8 276.0,397.9 276.4,399.5 276.9,400.1 277.7,398.1 278.6,397.0 279.4,396.0 280.3,395.5 281.1,395.2 282.0,395.9 282.8,394.0 283.7,393.2 284.0,394.5 284.5,393.8 285.4,392.6 286.2,393.9 287.1,391.1 287.9,391.6 288.8,391.6 289.6,390.1 290.5,391.0 291.3,389.2 292.2,388.0 293.0,387.8 293.9,386.3 294.5,387.4 294.7,387.1 295.6,387.4 296.4,389.7 297.3,390.3 298.1,390.1 299.0,389.6 299.8,390.9 300.0,392.0 300.7,391.5 301.5,392.1 302.4,392.8 303.2,395.1 304.1,393.8 305.0,394.2 305.8,397.1 306.7,396.8 307.5,398.6 308.0,398.0 308.4,397.8 309.2,399.9 310.1,400.1 310.9,401.3 311.8,402.1 312.6,402.3 313.0,403.0 313.5,401.3 314.3,400.9 315.2,401.9 316.0,401.3 316.9,400.7 317.7,398.5 318.6,398.6 319.4,398.3 320.0,397.4 320.3,397.7 321.1,398.9 322.0,398.9 322.8,400.0 323.7,400.8 324.0,401.0 324.5,399.5 325.4,400.1 326.2,399.2 327.0,397.4 327.1,396.0 327.9,399.1 328.8,399.8 329.6,399.8 330.5,399.0 331.3,401.9 332.2,400.7 333.0,403.6 333.9,403.6 334.7,402.8 335.6,403.8 336.4,405.8 336.9,406.2 337.3,406.0 338.1,406.4 339.0,406.8 339.8,404.9 340.7,404.2 341.5,406.5 342.4,404.1 343.2,406.2 344.1,404.1 344.9,405.8 345.8,405.7 346.6,405.8 347.5,404.9 348.3,405.0 348.3,405.6 349.2,403.7 350.0,404.6 350.9,403.5 351.7,404.7 352.6,404.2 353.4,403.1 354.3,403.0 355.1,401.5 356.0,401.3 356.8,402.5 357.7,402.0 358.5,402.7 359.4,401.8 359.8,401.7 360.2,400.0 361.1,399.5 361.9,399.4 362.8,397.8 363.6,395.4 364.5,396.4 365.3,395.3 366.2,392.4 367.0,392.5 367.9,391.0 368.7,391.0 369.0,390.2 369.6,388.6 370.4,387.1 371.3,386.4 372.1,386.4 373.0,382.8 373.8,381.6 374.7,381.6 375.5,381.6 376.4,378.5 377.2,376.8 378.0,376.5 378.1,377.4 378.9,372.9 379.8,365.5 380.6,365.3 381.5,358.0 381.6,359.3 382.3,356.5 383.2,357.5 384.0,353.9 384.9,354.1 385.7,349.6 386.0,351.2 386.6,350.9 387.4,345.2 388.3,342.8 389.1,342.1 390.0,339.0 390.8,337.7 391.7,337.1 392.3,334.0 392.5,335.6 393.4,337.0 394.2,343.4 395.1,349.3 395.9,353.9 396.5,358.0 396.8,358.8 397.6,358.8 398.5,358.0 399.3,359.9 400.2,363.9 401.0,364.0 401.0,362.7 401.9,364.1 402.7,364.7 403.6,362.4 404.4,362.1 405.3,361.3 406.1,359.3 407.0,361.7 407.8,359.0 408.5,359.3 408.7,363.8 409.5,339.1 410.4,340.6 411.2,327.7 412.1,312.8 412.9,297.9 413.8,280.1 414.6,283.1 415.5,262.9 415.6,266.8 416.3,272.9 417.2,267.4 418.0,272.6 418.9,280.4 419.7,301.6 420.3,302.0 420.6,290.4 421.4,301.1 422.3,283.8 423.1,282.8 424.0,272.3 424.8,272.9 425.7,255.6 426.5,262.0 426.5,257.0 427.4,277.5 428.2,269.0 429.1,288.2 429.9,289.3 430.8,297.2 431.0,307.0 431.6,290.8 432.5,286.9 433.3,303.8 434.2,297.3 435.0,292.8 435.9,289.1 436.0,284.3 436.7,293.4 437.6,277.8 438.4,289.5 439.3,289.7 440.1,293.7 441.0,304.0 441.8,302.2 442.7,309.0 443.5,292.1 444.0,304.8 444.4,302.4 445.2,295.7 446.1,290.1 446.9,280.0 447.8,277.6 448.6,258.5 449.5,265.3 450.3,246.4 451.0,245.4 451.2,245.2 452.0,254.3 452.9,252.5 453.7,246.1 454.6,246.7 455.4,251.3 456.0,259.7 456.3,256.5 457.1,253.6 458.0,240.2 458.8,217.9 459.7,206.8 460.5,204.9 460.7,198.0 461.4,188.7 462.2,189.5 463.1,178.4 463.9,180.1 464.5,188.5 464.8,189.1 465.6,201.1 466.5,207.9 467.3,210.8 467.8,221.7 468.2,232.5 469.0,233.7 469.9,231.8 470.7,238.4 471.6,267.3 472.4,276.1 472.5,269.0 473.3,271.7 474.1,260.1 475.0,249.1 475.8,239.7 476.7,239.0 477.0,245.4 477.5,240.2 478.4,262.5 479.2,268.1 480.1,272.0 480.9,264.4 481.8,272.8 482.0,283.4 482.6,271.6 483.5,279.8 484.3,255.8 485.2,263.5 486.0,254.7 486.9,245.4 487.7,248.2 488.6,226.2 489.0,231.0 489.4,227.1 490.3,215.4 491.1,210.5 492.0,205.5 492.8,208.4 493.7,200.5 494.5,195.7 495.3,205.0 495.4,213.8 496.2,207.6 497.1,230.6 497.9,235.9 498.8,246.1 499.6,254.0 500.5,270.2 501.0,269.0 501.3,275.5 502.2,274.2 503.0,273.0 503.9,278.3 504.7,281.3 505.6,279.7 506.4,280.9 507.3,275.4 508.0,288.0 508.1,293.1 509.0,286.3 509.8,278.2 510.7,281.7 511.5,298.8 512.4,286.3 513.2,290.6 514.1,298.4 514.9,303.6 515.8,293.0 516.6,295.6 517.5,297.7 517.6,302.4 518.3,292.2 519.2,315.1 520.0,310.9 520.9,318.5 521.7,319.1 522.6,323.0 523.4,329.6 524.3,333.3 525.1,334.8 526.0,340.0 526.8,343.5 527.0,345.0 527.7,343.2 528.5,338.2 529.4,337.9 530.2,335.7 531.1,331.7 531.9,329.7 532.8,326.9 533.6,321.8 534.0,321.4 534.5,323.5 535.3,325.7 536.2,327.0 537.0,327.4 537.9,331.7 538.7,335.2 539.6,335.1 540.4,338.7 541.3,342.0 542.1,343.1 543.0,343.1 543.7,347.5 543.8,346.9 544.7,340.2 545.5,337.4 546.4,331.4 547.2,324.8 548.1,321.9 548.9,315.6 549.8,309.3 550.6,306.0 551.5,301.1 552.3,295.9 553.0,290.5 553.2,292.1 554.0,294.4 554.9,297.7 555.7,300.5 556.6,303.3 557.4,308.4 558.3,309.0 559.1,311.1 560.0,316.8 560.0,316.6 560.8,317.4 561.7,319.0 562.5,320.7 563.4,320.7 564.2,321.9 565.1,322.8 565.9,327.1 566.8,329.0 567.6,329.6 568.5,328.7 569.3,333.6 569.8,333.0 570.2,333.7 571.0,332.1 571.9,329.7 572.7,332.8 573.6,331.6 574.4,331.2 575.3,328.5 576.1,331.0 577.0,327.9 577.8,329.4 578.7,327.7 579.5,328.3 580.4,330.1 581.2,329.2 581.7,328.5 582.1,329.6 582.9,328.4 583.8,329.6 584.6,331.3 585.5,329.9 586.3,332.2 587.2,335.3 588.0,335.3 588.9,336.5 589.7,335.1 590.6,337.5 591.4,338.8 592.3,339.3 593.1,339.1 593.6,340.3 594.0,338.1 594.8,336.4 595.7,338.9 596.5,338.0 597.4,334.4 598.2,335.2 599.1,332.8 599.9,332.7 600.8,332.5 601.6,329.4 602.5,329.6 603.3,327.1 604.2,327.1 605.0,324.1 605.4,326.0 605.9,325.6 606.7,327.7 607.6,332.1 608.4,331.0 609.3,335.5 610.1,334.7 611.0,340.3 611.8,339.0 612.6,342.7 612.7,340.5 613.5,339.6 614.4,341.1 615.2,338.7 616.1,338.2 616.9,335.3 617.8,332.4 618.6,331.9 619.5,331.0 620.3,331.8 621.2,327.1 622.0,326.0 622.9,327.1 623.7,322.8 624.4,323.7 624.6,323.5 625.4,311.7 626.3,303.7 627.1,295.0 628.0,286.9 628.8,267.9 629.7,271.1 630.5,251.4 631.4,250.9 631.5,247.8 632.2,239.3 633.1,252.4 633.9,244.3 634.8,246.0 635.6,244.5 636.3,255.0 636.5,251.9 637.3,261.3 638.2,281.2 639.0,284.6 639.9,290.1 640.7,309.5 641.0,307.0 641.6,296.2 642.4,291.5 643.3,297.9 644.1,292.4 645.0,282.7 645.8,276.3 645.8,282.0 646.7,271.4 647.5,289.2 648.4,290.2 649.2,293.8 650.1,300.8 650.9,293.2 651.8,298.9 652.6,302.1 653.0,311.9 653.5,306.3 654.3,301.3 655.2,295.0 656.0,286.0 656.9,286.0 657.6,278.7 657.7,282.3 658.6,283.1 659.4,273.5 660.0,284.3 660.3,283.8 661.1,285.9 662.0,287.9 662.8,290.7 663.7,291.8 664.5,294.8 664.7,295.3 665.4,293.5 666.2,292.2 667.1,291.6 667.9,290.8 668.5,289.0 668.8,288.3 669.6,290.0 670.5,292.8 671.3,292.2 672.2,293.1 673.0,294.7 673.9,297.6 674.2,297.6 674.7,298.4 675.6,299.7 676.4,299.5 677.3,299.2 678.1,300.7 679.0,302.6 679.8,302.6 680.7,302.9 681.5,304.3 682.4,305.4 683.2,306.0 684.1,307.0 684.9,307.1 685.8,307.7 686.6,310.4 687.5,311.1 688.3,311.2 689.2,311.3 690.0,312.6 690.9,314.1 691.7,315.7 692.6,315.6 693.4,317.6 694.3,317.4 695.1,317.4 696.0,319.3 696.8,320.1 697.7,321.0 698.0,321.4 698.5,322.1 699.4,321.3 700.2,323.6 701.1,324.4 701.9,325.3 702.8,326.1 703.6,327.0 704.5,327.8 705.3,328.7 706.2,329.5 707.0,330.4 707.9,331.2 708.7,332.1 709.6,332.9 710.4,333.7 711.3,334.6 712.1,335.4 713.0,336.3 713.8,337.1 714.7,338.0 715.5,338.8 716.4,339.7 717.2,340.5 718.1,341.4 718.9,342.2 719.8,343.1 720.6,343.9 721.5,344.8 721.7,345.0 722.3,345.6 723.2,346.5 724.0,347.3 724.9,348.2 725.7,349.0 726.6,349.9 727.4,350.7 728.3,351.6 729.1,352.4 730.0,353.3 730.8,354.1 731.7,355.0 732.5,355.8 733.4,356.7 734.2,357.6 735.1,358.4 735.9,359.3 736.8,360.1 737.6,361.0 738.5,361.8 739.3,362.7 740.2,363.5 741.0,364.4 741.9,365.2 742.7,366.1 743.6,366.9 744.4,367.8 745.3,368.6 745.4,368.8 746.1,369.4 747.0,370.2 747.8,370.9 748.7,371.6 749.5,372.4 750.4,373.1 751.2,373.9 752.1,374.6 752.9,375.4 753.8,376.1 754.6,376.8 755.5,377.6 756.3,378.3 757.2,379.1 758.0,379.8 758.9,380.6 759.7,381.3 760.6,382.0 761.4,382.8 762.3,383.5 763.1,384.3 764.0,385.0 764.4,385.4 764.8,385.7 765.7,386.2 766.5,386.7 767.4,387.2 768.2,387.8 769.1,388.3 769.9,388.8 770.8,389.4 771.6,389.9 772.5,390.4 773.3,391.0 774.2,391.5 775.0,392.0 775.9,392.6 776.7,393.1 777.6,393.6 778.4,394.2 779.3,394.7 780.1,395.2 781.0,395.8 781.8,396.3 782.7,396.8 783.4,397.3 783.5,397.3 784.4,397.6 785.2,397.9 786.1,398.2 786.9,398.4 787.8,398.7 788.6,399.0 789.5,399.3 790.3,399.6 791.2,399.8 792.0,400.1 792.9,400.4 793.7,400.7 794.6,400.9 795.4,401.2 796.3,401.5 797.1,401.8 798.0,402.0 798.8,402.3 799.7,402.6 800.5,402.9 801.4,403.2 802.2,403.4 802.4,403.5 803.1,403.6 803.9,403.8 804.8,403.9 805.6,404.1 806.5,404.2 807.3,404.4 808.2,404.5 809.0,404.6 809.9,404.8 810.7,404.9 811.6,405.1 812.4,405.2 813.3,405.4 814.1,405.5 815.0,405.7 815.8,405.8 816.7,406.0 817.5,406.1 818.4,406.3 819.2,406.4 820.1,406.6 820.9,406.7 821.4,406.8 821.8,406.8 822.6,406.8 823.5,406.8 824.3,406.8 825.2,406.8 826.0,406.8 826.9,406.8 827.7,406.8 828.6,406.8 829.4,406.8 830.3,406.8 831.1,406.8 832.0,406.8 832.8,406.8 833.7,406.8 834.5,406.8 835.4,406.8 836.2,406.8 837.1,406.8 837.9,406.8 838.8,406.8 839.6,406.8 840.5,406.8 841.3,406.8 842.2,406.8 843.0,406.8 843.9,406.8 844.7,406.8 845.6,406.8 846.4,406.8 847.3,406.8 848.1,406.8 849.0,406.8 849.8,406.8 850.7,406.8 851.5,406.8 852.4,406.8 853.2,406.8 854.1,406.8 854.9,406.8 855.8,406.8 856.6,406.8 857.5,406.8 858.3,406.8 859.2,406.8 860.0,406.8 860.9,406.8 861.7,406.8 862.6,406.8 863.4,406.8 864.3,406.8 865.1,406.8 866.0,406.8 866.8,406.8 867.7,406.8 868.5,406.8 869.4,406.8 870.2,406.8 871.1,406.8 871.9,406.8 872.8,406.8 873.6,406.8 874.5,406.8 875.3,406.8 876.2,406.8 877.0,406.8 877.9,406.8 878.7,406.8 879.6,406.8 880.4,406.8 881.3,406.8 882.1,406.8 883.0,406.8 883.8,406.8 884.7,406.8 885.5,406.8 886.4,406.8 887.2,406.8 888.1,406.8 888.9,406.8 889.8,406.8 890.6,406.8 891.5,406.8 892.3,406.8 893.2,406.8 894.0,406.8 894.9,406.8 895.7,406.8 896.6,406.8 897.4,406.8 898.3,406.8 899.1,406.8 900.0,406.8 900.8,406.8 901.7,406.8 902.5,406.8 903.4,406.8 904.2,406.8 905.1,406.8 905.9,406.8 906.8,406.8 907.6,406.8 908.5,406.8 909.3,406.8 910.2,406.8 910.6,406.8" fill="none" stroke="#d56ad3" stroke-width="1.2" stroke-linejoin="miter"/><path d="M61.0 407.0h0M61.0 407.0h0M61.9 407.0h0M62.7 407.0h0M63.6 407.0h0M64.4 407.0h0M65.2 407.0h0M66.1 407.0h0M66.9 407.0h0M67.8 407.0h0M68.6 407.0h0M69.5 407.0h0M70.3 407.0h0M71.2 407.0h0M72.0 407.0h0M72.9 407.0h0M73.7 407.0h0M74.6 407.0h0M75.4 407.0h0M76.3 407.0h0M77.1 407.0h0M78.0 407.0h0M78.8 407.0h0M79.7 407.0h0M80.5 407.0h0M81.4 407.0h0M82.2 407.0h0M83.1 407.0h0M83.9 407.0h0M84.8 407.0h0M85.6 407.0h0M86.5 407.0h0M87.3 407.0h0M88.2 407.0h0M89.0 407.0h0M89.9 407.0h0M90.7 407.0h0M91.6 407.0h0M92.4 407.0h0M93.3 407.0h0M94.1 407.0h0M95.0 407.0h0M95.8 407.0h0M96.7 407.0h0M97.5 407.0h0M98.4 407.0h0M99.2 407.0h0M100.1 407.0h0M100.9 407.0h0M101.8 407.0h0M102.6 407.0h0M103.5 407.0h0M104.3 407.0h0M105.2 407.0h0M106.0 407.0h0M106.9 407.0h0M107.7 407.0h0M108.6 407.0h0M109.4 407.0h0M110.3 407.0h0M111.1 407.0h0M112.0 407.0h0M112.8 407.0h0M113.7 407.0h0M114.5 407.0h0M115.4 407.0h0M116.2 407.0h0M117.1 407.0h0M117.9 407.0h0M118.8 407.0h0M119.6 407.0h0M120.5 407.0h0M121.3 407.0h0M122.2 407.0h0M123.0 407.0h0M123.9 407.0h0M124.7 407.0h0M125.6 407.0h0M126.4 407.0h0M127.3 407.0h0M128.1 407.0h0M129.0 407.0h0M129.8 407.0h0M130.7 407.0h0M131.5 407.0h0M132.4 407.0h0M133.2 407.0h0M134.1 407.0h0M134.9 407.0h0M135.8 407.0h0M136.6 407.0h0M137.5 407.0h0M138.3 407.0h0M139.2 407.0h0M140.0 407.0h0M140.9 407.0h0M141.7 407.0h0M142.6 407.0h0M143.4 407.0h0M144.3 407.0h0M145.1 407.0h0M146.0 407.0h0M146.8 407.0h0M147.7 407.0h0M148.5 407.0h0M149.4 407.0h0M150.2 407.0h0M151.1 407.0h0M151.9 407.0h0M152.8 407.0h0M153.6 407.0h0M154.5 407.0h0M155.3 407.0h0M156.2 407.0h0M157.0 407.0h0M157.9 407.0h0M158.7 407.0h0M159.6 407.0h0M160.4 407.0h0M161.3 407.0h0M162.1 407.0h0M163.0 407.0h0M163.8 407.0h0M164.7 407.0h0M165.5 407.0h0M166.4 407.0h0M167.2 407.0h0M168.1 407.0h0M168.9 407.0h0M169.8 407.0h0M170.6 407.0h0M171.5 407.0h0M172.3 407.0h0M173.2 407.0h0M174.0 407.0h0M174.9 407.0h0M175.7 407.0h0M176.6 407.0h0M177.4 407.0h0M178.3 407.0h0M179.1 407.0h0M180.0 407.0h0M180.8 407.0h0M181.7 407.0h0M182.5 407.0h0M183.4 407.0h0M184.2 407.0h0M185.1 407.0h0M185.9 407.0h0M186.8 407.0h0M187.6 407.0h0M188.5 407.0h0M189.3 407.0h0M190.2 406.0h0M191.0 405.7h0M191.9 406.4h0M192.7 405.8h0M193.6 405.6h0M194.4 406.4h0M195.3 407.7h0M196.0 407.0h0M196.1 407.4h0M197.0 406.8h0M197.8 405.0h0M198.7 405.3h0M199.5 404.2h0M200.4 403.5h0M201.2 402.8h0M202.1 402.6h0M202.9 404.0h0M203.8 403.3h0M204.5 402.4h0M204.6 402.9h0M205.5 403.2h0M206.3 402.0h0M207.2 402.6h0M208.0 403.7h0M208.9 404.3h0M209.7 404.9h0M210.6 405.3h0M211.4 403.6h0M212.3 405.2h0M213.0 405.5h0M213.1 405.6h0M214.0 405.0h0M214.8 404.0h0M215.7 404.5h0M216.5 403.4h0M217.4 405.4h0M218.2 405.0h0M219.1 404.0h0M219.9 403.2h0M220.8 404.6h0M221.6 403.6h0M222.5 404.2h0M223.3 403.9h0M224.2 402.9h0M225.0 403.0h0M225.0 402.4h0M225.9 402.7h0M226.7 402.0h0M227.6 401.0h0M228.4 401.1h0M229.3 402.2h0M230.1 400.0h0M231.0 399.7h0M231.8 400.9h0M232.7 399.8h0M233.5 400.2h0M234.4 399.8h0M235.0 400.0h0M235.2 399.2h0M236.1 400.7h0M236.9 398.4h0M237.8 398.8h0M238.6 398.0h0M239.5 398.9h0M240.3 397.8h0M241.2 397.8h0M242.0 398.6h0M242.9 397.3h0M243.7 397.7h0M244.6 398.4h0M244.8 397.6h0M245.4 396.4h0M246.3 396.5h0M247.1 397.2h0M248.0 398.8h0M248.8 398.6h0M249.7 397.9h0M250.5 398.3h0M251.4 398.2h0M252.2 399.1h0M253.1 398.3h0M253.9 400.2h0M254.0 400.0h0M254.8 400.4h0M255.6 400.2h0M256.5 399.4h0M257.3 399.6h0M258.2 396.9h0M259.0 397.3h0M259.9 398.7h0M260.7 397.9h0M261.6 396.7h0M262.4 397.8h0M263.3 396.6h0M263.7 396.5h0M264.1 397.0h0M265.0 395.7h0M265.8 395.5h0M266.7 396.2h0M267.5 395.5h0M268.4 396.1h0M269.2 397.7h0M270.1 396.1h0M270.9 395.3h0M271.8 395.5h0M272.6 395.8h0M273.0 397.0h0M273.5 397.8h0M274.3 397.3h0M275.2 397.8h0M276.0 397.9h0M276.4 399.5h0M276.9 400.1h0M277.7 398.1h0M278.6 397.0h0M279.4 396.0h0M280.3 395.5h0M281.1 395.2h0M282.0 395.9h0M282.8 394.0h0M283.7 393.2h0M284.0 394.5h0M284.5 393.8h0M285.4 392.6h0M286.2 393.9h0M287.1 391.1h0M287.9 391.6h0M288.8 391.6h0M289.6 390.1h0M290.5 391.0h0M291.3 389.2h0M292.2 388.0h0M293.0 387.8h0M293.9 386.3h0M294.5 387.4h0M294.7 387.1h0M295.6 387.4h0M296.4 389.7h0M297.3 390.3h0M298.1 390.1h0M299.0 389.6h0M299.8 390.9h0M300.0 392.0h0M300.7 391.5h0M301.5 392.1h0M302.4 392.8h0M303.2 395.1h0M304.1 393.8h0M305.0 394.2h0M305.8 397.1h0M306.7 396.8h0M307.5 398.6h0M308.0 398.0h0M308.4 397.8h0M309.2 399.9h0M310.1 400.1h0M310.9 401.3h0M311.8 402.1h0M312.6 402.3h0M313.0 403.0h0M313.5 401.3h0M314.3 400.9h0M315.2 401.9h0M316.0 401.3h0M316.9 400.7h0M317.7 398.5h0M318.6 398.6h0M319.4 398.3h0M320.0 397.4h0M320.3 397.7h0M321.1 398.9h0M322.0 398.9h0M322.8 400.0h0M323.7 400.8h0M324.0 401.0h0M324.5 399.5h0M325.4 400.1h0M326.2 399.2h0M327.0 397.4h0M327.1 396.0h0M327.9 399.1h0M328.8 399.8h0M329.6 399.8h0M330.5 399.0h0M331.3 401.9h0M332.2 400.7h0M333.0 403.6h0M333.9 403.6h0M334.7 402.8h0M335.6 403.8h0M336.4 405.8h0M336.9 406.2h0M337.3 406.0h0M338.1 406.4h0M339.0 406.8h0M339.8 404.9h0M340.7 404.2h0M341.5 406.5h0M342.4 404.1h0M343.2 406.2h0M344.1 404.1h0M344.9 405.8h0M345.8 405.7h0M346.6 405.8h0M347.5 404.9h0M348.3 405.0h0M348.3 405.6h0M349.2 403.7h0M350.0 404.6h0M350.9 403.5h0M351.7 404.7h0M352.6 404.2h0M353.4 403.1h0M354.3 403.0h0M355.1 401.5h0M356.0 401.3h0M356.8 402.5h0M357.7 402.0h0M358.5 402.7h0M359.4 401.8h0M359.8 401.7h0M360.2 400.0h0M361.1 399.5h0M361.9 399.4h0M362.8 397.8h0M363.6 395.4h0M364.5 396.4h0M365.3 395.3h0M366.2 392.4h0M367.0 392.5h0M367.9 391.0h0M368.7 391.0h0M369.0 390.2h0M369.6 388.6h0M370.4 387.1h0M371.3 386.4h0M372.1 386.4h0M373.0 382.8h0M373.8 381.6h0M374.7 381.6h0M375.5 381.6h0M376.4 378.5h0M377.2 376.8h0M378.0 376.5h0M378.1 377.4h0M378.9 372.9h0M379.8 365.5h0M380.6 365.3h0M381.5 358.0h0M381.6 359.3h0M382.3 356.5h0M383.2 357.5h0M384.0 353.9h0M384.9 354.1h0M385.7 349.6h0M386.0 351.2h0M386.6 350.9h0M387.4 345.2h0M388.3 342.8h0M389.1 342.1h0M390.0 339.0h0M390.8 337.7h0M391.7 337.1h0M392.3 334.0h0M392.5 335.6h0M393.4 337.0h0M394.2 343.4h0M395.1 349.3h0M395.9 353.9h0M396.5 358.0h0M396.8 358.8h0M397.6 358.8h0M398.5 358.0h0M399.3 359.9h0M400.2 363.9h0M401.0 364.0h0M401.0 362.7h0M401.9 364.1h0M402.7 364.7h0M403.6 362.4h0M404.4 362.1h0M405.3 361.3h0M406.1 359.3h0M407.0 361.7h0M407.8 359.0h0M408.5 359.3h0M408.7 363.8h0M409.5 339.1h0M410.4 340.6h0M411.2 327.7h0M412.1 312.8h0M412.9 297.9h0M413.8 280.1h0M414.6 283.1h0M415.5 262.9h0M415.6 266.8h0M416.3 272.9h0M417.2 267.4h0M418.0 272.6h0M418.9 280.4h0M419.7 301.6h0M420.3 302.0h0M420.6 290.4h0M421.4 301.1h0M422.3 283.8h0M423.1 282.8h0M424.0 272.3h0M424.8 272.9h0M425.7 255.6h0M426.5 262.0h0M426.5 257.0h0M427.4 277.5h0M428.2 269.0h0M429.1 288.2h0M429.9 289.3h0M430.8 297.2h0M431.0 307.0h0M431.6 290.8h0M432.5 286.9h0M433.3 303.8h0M434.2 297.3h0M435.0 292.8h0M435.9 289.1h0M436.0 284.3h0M436.7 293.4h0M437.6 277.8h0M438.4 289.5h0M439.3 289.7h0M440.1 293.7h0M441.0 304.0h0M441.8 302.2h0M442.7 309.0h0M443.5 292.1h0M444.0 304.8h0M444.4 302.4h0M445.2 295.7h0M446.1 290.1h0M446.9 280.0h0M447.8 277.6h0M448.6 258.5h0M449.5 265.3h0M450.3 246.4h0M451.0 245.4h0M451.2 245.2h0M452.0 254.3h0M452.9 252.5h0M453.7 246.1h0M454.6 246.7h0M455.4 251.3h0M456.0 259.7h0M456.3 256.5h0M457.1 253.6h0M458.0 240.2h0M458.8 217.9h0M459.7 206.8h0M460.5 204.9h0M460.7 198.0h0M461.4 188.7h0M462.2 189.5h0M463.1 178.4h0M463.9 180.1h0M464.5 188.5h0M464.8 189.1h0M465.6 201.1h0M466.5 207.9h0M467.3 210.8h0M467.8 221.7h0M468.2 232.5h0M469.0 233.7h0M469.9 231.8h0M470.7 238.4h0M471.6 267.3h0M472.4 276.1h0M472.5 269.0h0M473.3 271.7h0M474.1 260.1h0M475.0 249.1h0M475.8 239.7h0M476.7 239.0h0M477.0 245.4h0M477.5 240.2h0M478.4 262.5h0M479.2 268.1h0M480.1 272.0h0M480.9 264.4h0M481.8 272.8h0M482.0 283.4h0M482.6 271.6h0M483.5 279.8h0M484.3 255.8h0M485.2 263.5h0M486.0 254.7h0M486.9 245.4h0M487.7 248.2h0M488.6 226.2h0M489.0 231.0h0M489.4 227.1h0M490.3 215.4h0M491.1 210.5h0M492.0 205.5h0M492.8 208.4h0M493.7 200.5h0M494.5 195.7h0M495.3 205.0h0M495.4 213.8h0M496.2 207.6h0M497.1 230.6h0M497.9 235.9h0M498.8 246.1h0M499.6 254.0h0M500.5 270.2h0M501.0 269.0h0M501.3 275.5h0M502.2 274.2h0M503.0 273.0h0M503.9 278.3h0M504.7 281.3h0M505.6 279.7h0M506.4 280.9h0M507.3 275.4h0M508.0 288.0h0M508.1 293.1h0M509.0 286.3h0M509.8 278.2h0M510.7 281.7h0M511.5 298.8h0M512.4 286.3h0M513.2 290.6h0M514.1 298.4h0M514.9 303.6h0M515.8 293.0h0M516.6 295.6h0M517.5 297.7h0M517.6 302.4h0M518.3 292.2h0M519.2 315.1h0M520.0 310.9h0M520.9 318.5h0M521.7 319.1h0M522.6 323.0h0M523.4 329.6h0M524.3 333.3h0M525.1 334.8h0M526.0 340.0h0M526.8 343.5h0M527.0 345.0h0M527.7 343.2h0M528.5 338.2h0M529.4 337.9h0M530.2 335.7h0M531.1 331.7h0M531.9 329.7h0M532.8 326.9h0M533.6 321.8h0M534.0 321.4h0M534.5 323.5h0M535.3 325.7h0M536.2 327.0h0M537.0 327.4h0M537.9 331.7h0M538.7 335.2h0M539.6 335.1h0M540.4 338.7h0M541.3 342.0h0M542.1 343.1h0M543.0 343.1h0M543.7 347.5h0M543.8 346.9h0M544.7 340.2h0M545.5 337.4h0M546.4 331.4h0M547.2 324.8h0M548.1 321.9h0M548.9 315.6h0M549.8 309.3h0M550.6 306.0h0M551.5 301.1h0M552.3 295.9h0M553.0 290.5h0M553.2 292.1h0M554.0 294.4h0M554.9 297.7h0M555.7 300.5h0M556.6 303.3h0M557.4 308.4h0M558.3 309.0h0M559.1 311.1h0M560.0 316.8h0M560.0 316.6h0M560.8 317.4h0M561.7 319.0h0M562.5 320.7h0M563.4 320.7h0M564.2 321.9h0M565.1 322.8h0M565.9 327.1h0M566.8 329.0h0M567.6 329.6h0M568.5 328.7h0M569.3 333.6h0M569.8 333.0h0M570.2 333.7h0M571.0 332.1h0M571.9 329.7h0M572.7 332.8h0M573.6 331.6h0M574.4 331.2h0M575.3 328.5h0M576.1 331.0h0M577.0 327.9h0M577.8 329.4h0M578.7 327.7h0M579.5 328.3h0M580.4 330.1h0M581.2 329.2h0M581.7 328.5h0M582.1 329.6h0M582.9 328.4h0M583.8 329.6h0M584.6 331.3h0M585.5 329.9h0M586.3 332.2h0M587.2 335.3h0M588.0 335.3h0M588.9 336.5h0M589.7 335.1h0M590.6 337.5h0M591.4 338.8h0M592.3 339.3h0M593.1 339.1h0M593.6 340.3h0M594.0 338.1h0M594.8 336.4h0M595.7 338.9h0M596.5 338.0h0M597.4 334.4h0M598.2 335.2h0M599.1 332.8h0M599.9 332.7h0M600.8 332.5h0M601.6 329.4h0M602.5 329.6h0M603.3 327.1h0M604.2 327.1h0M605.0 324.1h0M605.4 326.0h0M605.9 325.6h0M606.7 327.7h0M607.6 332.1h0M608.4 331.0h0M609.3 335.5h0M610.1 334.7h0M611.0 340.3h0M611.8 339.0h0M612.6 342.7h0M612.7 340.5h0M613.5 339.6h0M614.4 341.1h0M615.2 338.7h0M616.1 338.2h0M616.9 335.3h0M617.8 332.4h0M618.6 331.9h0M619.5 331.0h0M620.3 331.8h0M621.2 327.1h0M622.0 326.0h0M622.9 327.1h0M623.7 322.8h0M624.4 323.7h0M624.6 323.5h0M625.4 311.7h0M626.3 303.7h0M627.1 295.0h0M628.0 286.9h0M628.8 267.9h0M629.7 271.1h0M630.5 251.4h0M631.4 250.9h0M631.5 247.8h0M632.2 239.3h0M633.1 252.4h0M633.9 244.3h0M634.8 246.0h0M635.6 244.5h0M636.3 255.0h0M636.5 251.9h0M637.3 261.3h0M638.2 281.2h0M639.0 284.6h0M639.9 290.1h0M640.7 309.5h0M641.0 307.0h0M641.6 296.2h0M642.4 291.5h0M643.3 297.9h0M644.1 292.4h0M645.0 282.7h0M645.8 276.3h0M645.8 282.0h0M646.7 271.4h0M647.5 289.2h0M648.4 290.2h0M649.2 293.8h0M650.1 300.8h0M650.9 293.2h0M651.8 298.9h0M652.6 302.1h0M653.0 311.9h0M653.5 306.3h0M654.3 301.3h0M655.2 295.0h0M656.0 286.0h0M656.9 286.0h0M657.6 278.7h0M657.7 282.3h0M658.6 283.1h0M659.4 273.5h0M660.0 284.3h0M660.3 283.8h0M661.1 285.9h0M662.0 287.9h0M662.8 290.7h0M663.7 291.8h0M664.5 294.8h0M664.7 295.3h0M665.4 293.5h0M666.2 292.2h0M667.1 291.6h0M667.9 290.8h0M668.5 289.0h0M668.8 288.3h0M669.6 290.0h0M670.5 292.8h0M671.3 292.2h0M672.2 293.1h0M673.0 294.7h0M673.9 297.6h0M674.2 297.6h0M674.7 298.4h0M675.6 299.7h0M676.4 299.5h0M677.3 299.2h0M678.1 300.7h0M679.0 302.6h0M679.8 302.6h0M680.7 302.9h0M681.5 304.3h0M682.4 305.4h0M683.2 306.0h0M684.1 307.0h0M684.9 307.1h0M685.8 307.7h0M686.6 310.4h0M687.5 311.1h0M688.3 311.2h0M689.2 311.3h0M690.0 312.6h0M690.9 314.1h0M691.7 315.7h0M692.6 315.6h0M693.4 317.6h0M694.3 317.4h0M695.1 317.4h0M696.0 319.3h0M696.8 320.1h0M697.7 321.0h0M698.0 321.4h0M698.5 322.1h0M699.4 321.3h0M700.2 323.6h0M701.1 324.4h0M701.9 325.3h0M702.8 326.1h0M703.6 327.0h0M704.5 327.8h0M705.3 328.7h0M706.2 329.5h0M707.0 330.4h0M707.9 331.2h0M708.7 332.1h0M709.6 332.9h0M710.4 333.7h0M711.3 334.6h0M712.1 335.4h0M713.0 336.3h0M713.8 337.1h0M714.7 338.0h0M715.5 338.8h0M716.4 339.7h0M717.2 340.5h0M718.1 341.4h0M718.9 342.2h0M719.8 343.1h0M720.6 343.9h0M721.5 344.8h0M721.7 345.0h0M722.3 345.6h0M723.2 346.5h0M724.0 347.3h0M724.9 348.2h0M725.7 349.0h0M726.6 349.9h0M727.4 350.7h0M728.3 351.6h0M729.1 352.4h0M730.0 353.3h0M730.8 354.1h0M731.7 355.0h0M732.5 355.8h0M733.4 356.7h0M734.2 357.6h0M735.1 358.4h0M735.9 359.3h0M736.8 360.1h0M737.6 361.0h0M738.5 361.8h0M739.3 362.7h0M740.2 363.5h0M741.0 364.4h0M741.9 365.2h0M742.7 366.1h0M743.6 366.9h0M744.4 367.8h0M745.3 368.6h0M745.4 368.8h0M746.1 369.4h0M747.0 370.2h0M747.8 370.9h0M748.7 371.6h0M749.5 372.4h0M750.4 373.1h0M751.2 373.9h0M752.1 374.6h0M752.9 375.4h0M753.8 376.1h0M754.6 376.8h0M755.5 377.6h0M756.3 378.3h0M757.2 379.1h0M758.0 379.8h0M758.9 380.6h0M759.7 381.3h0M760.6 382.0h0M761.4 382.8h0M762.3 383.5h0M763.1 384.3h0M764.0 385.0h0M764.4 385.4h0M764.8 385.7h0M765.7 386.2h0M766.5 386.7h0M767.4 387.2h0M768.2 387.8h0M769.1 388.3h0M769.9 388.8h0M770.8 389.4h0M771.6 389.9h0M772.5 390.4h0M773.3 391.0h0M774.2 391.5h0M775.0 392.0h0M775.9 392.6h0M776.7 393.1h0M777.6 393.6h0M778.4 394.2h0M779.3 394.7h0M780.1 395.2h0M781.0 395.8h0M781.8 396.3h0M782.7 396.8h0M783.4 397.3h0M783.5 397.3h0M784.4 397.6h0M785.2 397.9h0M786.1 398.2h0M786.9 398.4h0M787.8 398.7h0M788.6 399.0h0M789.5 399.3h0M790.3 399.6h0M791.2 399.8h0M792.0 400.1h0M792.9 400.4h0M793.7 400.7h0M794.6 400.9h0M795.4 401.2h0M796.3 401.5h0M797.1 401.8h0M798.0 402.0h0M798.8 402.3h0M799.7 402.6h0M800.5 402.9h0M801.4 403.2h0M802.2 403.4h0M802.4 403.5h0M803.1 403.6h0M803.9 403.8h0M804.8 403.9h0M805.6 404.1h0M806.5 404.2h0M807.3 404.4h0M808.2 404.5h0M809.0 404.6h0M809.9 404.8h0M810.7 404.9h0M811.6 405.1h0M812.4 405.2h0M813.3 405.4h0M814.1 405.5h0M815.0 405.7h0M815.8 405.8h0M816.7 406.0h0M817.5 406.1h0M818.4 406.3h0M819.2 406.4h0M820.1 406.6h0M820.9 406.7h0M821.4 406.8h0M821.8 406.8h0M822.6 406.8h0M823.5 406.8h0M824.3 406.8h0M825.2 406.8h0M826.0 406.8h0M826.9 406.8h0M827.7 406.8h0M828.6 406.8h0M829.4 406.8h0M830.3 406.8h0M831.1 406.8h0M832.0 406.8h0M832.8 406.8h0M833.7 406.8h0M834.5 406.8h0M835.4 406.8h0M836.2 406.8h0M837.1 406.8h0M837.9 406.8h0M838.8 406.8h0M839.6 406.8h0M840.5 406.8h0M841.3 406.8h0M842.2 406.8h0M843.0 406.8h0M843.9 406.8h0M844.7 406.8h0M845.6 406.8h0M846.4 406.8h0M847.3 406.8h0M848.1 406.8h0M849.0 406.8h0M849.8 406.8h0M850.7 406.8h0M851.5 406.8h0M852.4 406.8h0M853.2 406.8h0M854.1 406.8h0M854.9 406.8h0M855.8 406.8h0M856.6 406.8h0M857.5 406.8h0M858.3 406.8h0M859.2 406.8h0M860.0 406.8h0M860.9 406.8h0M861.7 406.8h0M862.6 406.8h0M863.4 406.8h0M864.3 406.8h0M865.1 406.8h0M866.0 406.8h0M866.8 406.8h0M867.7 406.8h0M868.5 406.8h0M869.4 406.8h0M870.2 406.8h0M871.1 406.8h0M871.9 406.8h0M872.8 406.8h0M873.6 406.8h0M874.5 406.8h0M875.3 406.8h0M876.2 406.8h0M877.0 406.8h0M877.9 406.8h0M878.7 406.8h0M879.6 406.8h0M880.4 406.8h0M881.3 406.8h0M882.1 406.8h0M883.0 406.8h0M883.8 406.8h0M884.7 406.8h0M885.5 406.8h0M886.4 406.8h0M887.2 406.8h0M888.1 406.8h0M888.9 406.8h0M889.8 406.8h0M890.6 406.8h0M891.5 406.8h0M892.3 406.8h0M893.2 406.8h0M894.0 406.8h0M894.9 406.8h0M895.7 406.8h0M896.6 406.8h0M897.4 406.8h0M898.3 406.8h0M899.1 406.8h0M900.0 406.8h0M900.8 406.8h0M901.7 406.8h0M902.5 406.8h0M903.4 406.8h0M904.2 406.8h0M905.1 406.8h0M905.9 406.8h0M906.8 406.8h0M907.6 406.8h0M908.5 406.8h0M909.3 406.8h0M910.2 406.8h0M910.6 406.8h0" fill="none" stroke="#d56ad3" stroke-width="2.8" stroke-linecap="round"/><polyline points="61.0,400.4 61.0,400.4 61.0,400.4 61.9,400.4 61.9,398.2 62.7,398.2 62.7,396.0 63.6,396.0 63.6,398.2 64.0,398.2 64.0,396.0 64.4,396.0 64.4,396.0 65.2,396.0 65.2,396.0 66.1,396.0 66.1,393.8 66.9,393.8 66.9,396.0 67.8,396.0 67.8,396.0 68.6,396.0 68.6,396.0 69.5,396.0 69.5,396.0 70.3,396.0 70.3,393.8 71.2,393.8 71.2,396.0 72.0,396.0 72.0,396.0 72.9,396.0 72.9,396.0 73.7,396.0 73.7,396.0 74.6,396.0 74.6,396.0 75.4,396.0 75.4,396.0 76.3,396.0 76.3,396.0 77.1,396.0 77.1,396.0 78.0,396.0 78.0,393.8 78.8,393.8 78.8,396.0 79.7,396.0 79.7,393.8 80.0,393.8 80.0,396.0 80.5,396.0 80.5,396.0 81.4,396.0 81.4,393.8 82.0,393.8 82.0,393.8 82.2,393.8 82.2,400.4 83.1,400.4 83.1,400.4 83.9,400.4 83.9,393.8 84.8,393.8 84.8,393.8 85.6,393.8 85.6,393.8 86.5,393.8 86.5,393.8 87.3,393.8 87.3,396.0 88.2,396.0 88.2,393.8 89.0,393.8 89.0,393.8 89.9,393.8 89.9,393.8 90.7,393.8 90.7,396.0 91.6,396.0 91.6,393.8 92.4,393.8 92.4,393.8 93.3,393.8 93.3,396.0 94.1,396.0 94.1,393.8 95.0,393.8 95.0,396.0 95.8,396.0 95.8,393.8 96.7,393.8 96.7,393.8 97.5,393.8 97.5,396.0 98.4,396.0 98.4,393.8 99.2,393.8 99.2,396.0 100.0,396.0 100.0,396.0 100.1,396.0 100.1,396.0 100.9,396.0 100.9,396.0 101.8,396.0 101.8,393.8 102.6,393.8 102.6,393.8 103.5,393.8 103.5,396.0 104.3,396.0 104.3,396.0 105.2,396.0 105.2,396.0 106.0,396.0 106.0,393.8 106.9,393.8 106.9,393.8 107.7,393.8 107.7,393.8 108.6,393.8 108.6,396.0 109.4,396.0 109.4,396.0 110.3,396.0 110.3,396.0 111.1,396.0 111.1,396.0 112.0,396.0 112.0,396.0 112.8,396.0 112.8,393.8 113.7,393.8 113.7,396.0 114.5,396.0 114.5,396.0 115.4,396.0 115.4,393.8 116.2,393.8 116.2,396.0 117.1,396.0 117.1,393.8 117.9,393.8 117.9,396.0 118.8,396.0 118.8,396.0 119.6,396.0 119.6,393.8 120.5,393.8 120.5,393.8 121.3,393.8 121.3,396.0 122.2,396.0 122.2,393.8 123.0,393.8 123.0,396.0 123.9,396.0 123.9,393.8 124.7,393.8 124.7,393.8 125.0,393.8 125.0,396.0 125.6,396.0 125.6,396.0 126.4,396.0 126.4,393.8 127.3,393.8 127.3,393.8 128.1,393.8 128.1,393.8 129.0,393.8 129.0,393.8 129.8,393.8 129.8,393.8 130.0,393.8 130.0,393.8 130.7,393.8 130.7,391.6 131.5,391.6 131.5,393.8 132.4,393.8 132.4,393.8 133.2,393.8 133.2,393.8 134.1,393.8 134.1,393.8 134.9,393.8 134.9,393.8 135.8,393.8 135.8,393.8 136.6,393.8 136.6,393.8 137.5,393.8 137.5,391.6 138.3,391.6 138.3,393.8 139.2,393.8 139.2,391.6 140.0,391.6 140.0,393.8 140.9,393.8 140.9,393.8 141.7,393.8 141.7,391.6 142.6,391.6 142.6,393.8 143.4,393.8 143.4,396.0 144.3,396.0 144.3,393.8 145.1,393.8 145.1,391.6 146.0,391.6 146.0,393.8 146.8,393.8 146.8,393.8 147.7,393.8 147.7,393.8 148.5,393.8 148.5,393.8 149.4,393.8 149.4,393.8 150.2,393.8 150.2,391.6 151.1,391.6 151.1,393.8 151.9,393.8 151.9,391.6 152.8,391.6 152.8,391.6 153.6,391.6 153.6,393.8 154.5,393.8 154.5,393.8 155.3,393.8 155.3,393.8 156.2,393.8 156.2,391.6 157.0,391.6 157.0,391.6 157.9,391.6 157.9,393.8 158.7,393.8 158.7,393.8 159.6,393.8 159.6,393.8 160.0,393.8 160.0,393.8 160.4,393.8 160.4,391.6 161.3,391.6 161.3,391.6 162.0,391.6 162.0,391.6 162.1,391.6 162.1,391.6 163.0,391.6 163.0,391.6 163.8,391.6 163.8,391.6 164.7,391.6 164.7,389.4 165.5,389.4 165.5,391.6 166.4,391.6 166.4,393.8 167.2,393.8 167.2,387.2 168.1,387.2 168.1,396.0 168.9,396.0 168.9,391.6 169.8,391.6 169.8,389.4 170.6,389.4 170.6,391.6 171.5,391.6 171.5,391.6 172.0,391.6 172.0,391.6 172.3,391.6 172.3,393.8 173.2,393.8 173.2,391.6 173.7,391.6 173.7,396.0 174.0,396.0 174.0,402.6 174.0,402.6 174.0,404.8 174.9,404.8 174.9,402.6 175.7,402.6 175.7,409.2 176.6,409.2 176.6,404.8 177.4,404.8 177.4,402.6 178.0,402.6 178.0,402.6 178.3,402.6 178.3,404.8 179.1,404.8 179.1,407.0 180.0,407.0 180.0,409.2 180.0,409.2 180.0,409.2 180.8,409.2 180.8,409.2 181.7,409.2 181.7,409.2 182.5,409.2 182.5,409.2 183.4,409.2 183.4,407.0 184.2,407.0 184.2,409.2 185.1,409.2 185.1,409.2 185.9,409.2 185.9,409.2 186.8,409.2 186.8,409.2 187.6,409.2 187.6,409.2 188.5,409.2 188.5,409.2 189.3,409.2 189.3,409.2 190.2,409.2 190.2,409.2 191.0,409.2 191.0,411.4 191.9,411.4 191.9,409.2 192.7,409.2 192.7,409.2 193.6,409.2 193.6,409.2 194.4,409.2 194.4,409.2 195.3,409.2 195.3,409.2 196.1,409.2 196.1,411.4 197.0,411.4 197.0,409.2 197.8,409.2 197.8,409.2 198.7,409.2 198.7,407.0 199.5,407.0 199.5,409.2 200.4,409.2 200.4,409.2 201.2,409.2 201.2,409.2 202.1,409.2 202.1,409.2 202.9,409.2 202.9,407.0 203.8,407.0 203.8,409.2 204.6,409.2 204.6,409.2 205.0,409.2 205.0,409.2 205.5,409.2 205.5,409.2 206.3,409.2 206.3,409.2 207.2,409.2 207.2,411.4 208.0,411.4 208.0,409.2 208.9,409.2 208.9,409.2 209.7,409.2 209.7,409.2 210.0,409.2 210.0,409.2 210.6,409.2 210.6,409.2 211.4,409.2 211.4,413.6 212.3,413.6 212.3,409.2 213.1,409.2 213.1,409.2 214.0,409.2 214.0,409.2 214.8,409.2 214.8,411.4 215.7,411.4 215.7,409.2 216.5,409.2 216.5,409.2 217.4,409.2 217.4,409.2 218.2,409.2 218.2,411.4 219.1,411.4 219.1,409.2 219.9,409.2 219.9,411.4 220.8,411.4 220.8,411.4 221.6,411.4 221.6,409.2 222.0,409.2 222.0,409.2 222.5,409.2 222.5,409.2 223.3,409.2 223.3,409.2 224.2,409.2 224.2,411.4 225.0,411.4 225.0,411.4 225.9,411.4 225.9,411.4 226.7,411.4 226.7,409.2 227.6,409.2 227.6,409.2 228.4,409.2 228.4,404.8 229.3,404.8 229.3,409.2 230.1,409.2 230.1,411.4 231.0,411.4 231.0,409.2 231.8,409.2 231.8,409.2 232.7,409.2 232.7,411.4 233.5,411.4 233.5,409.2 234.4,409.2 234.4,409.2 235.0,409.2 235.0,411.4 235.2,411.4 235.2,409.2 236.1,409.2 236.1,409.2 236.9,409.2 236.9,411.4 237.8,411.4 237.8,411.4 238.6,411.4 238.6,411.4 239.5,411.4 239.5,411.4 240.3,411.4 240.3,411.4 241.2,411.4 241.2,413.6 242.0,413.6 242.0,415.8 242.9,415.8 242.9,415.8 243.7,415.8 243.7,411.4 244.6,411.4 244.6,415.8 244.8,415.8 244.8,415.8 245.4,415.8 245.4,418.0 246.3,418.0 246.3,415.8 247.1,415.8 247.1,418.0 248.0,418.0 248.0,418.0 248.8,418.0 248.8,418.0 249.7,418.0 249.7,418.0 250.5,418.0 250.5,422.4 251.0,422.4 251.0,420.2 251.4,420.2 251.4,422.4 252.2,422.4 252.2,420.2 253.1,420.2 253.1,422.4 253.9,422.4 253.9,422.4 254.8,422.4 254.8,420.2 255.6,420.2 255.6,420.2 256.5,420.2 256.5,420.2 257.3,420.2 257.3,420.2 258.2,420.2 258.2,420.2 259.0,420.2 259.0,420.2 259.9,420.2 259.9,420.2 260.7,420.2 260.7,420.2 261.6,420.2 261.6,420.2 262.4,420.2 262.4,418.0 263.0,418.0 263.0,420.2 263.3,420.2 263.3,420.2 263.7,420.2 263.7,415.8 264.1,415.8 264.1,418.0 265.0,418.0 265.0,415.8 265.8,415.8 265.8,418.0 266.7,418.0 266.7,420.2 267.5,420.2 267.5,418.0 268.4,418.0 268.4,418.0 269.2,418.0 269.2,415.8 270.1,415.8 270.1,418.0 270.9,418.0 270.9,415.8 271.8,415.8 271.8,415.8 272.6,415.8 272.6,418.0 273.5,418.0 273.5,418.0 274.3,418.0 274.3,415.8 275.2,415.8 275.2,415.8 276.0,415.8 276.0,418.0 276.9,418.0 276.9,418.0 277.7,418.0 277.7,418.0 278.6,418.0 278.6,422.4 279.4,422.4 279.4,418.0 280.3,418.0 280.3,415.8 281.1,415.8 281.1,418.0 282.0,418.0 282.0,418.0 282.8,418.0 282.8,418.0 283.7,418.0 283.7,418.0 284.0,418.0 284.0,415.8 284.5,415.8 284.5,415.8 285.4,415.8 285.4,415.8 286.2,415.8 286.2,413.6 287.1,413.6 287.1,409.2 287.4,409.2 287.4,413.6 287.9,413.6 287.9,413.6 288.8,413.6 288.8,418.0 289.6,418.0 289.6,411.4 290.5,411.4 290.5,413.6 291.3,413.6 291.3,413.6 292.2,413.6 292.2,415.8 293.0,415.8 293.0,415.8 293.9,415.8 293.9,413.6 294.7,413.6 294.7,415.8 295.6,415.8 295.6,415.8 296.4,415.8 296.4,415.8 297.3,415.8 297.3,415.8 298.1,415.8 298.1,415.8 299.0,415.8 299.0,415.8 299.8,415.8 299.8,415.8 300.0,415.8 300.0,418.0 300.7,418.0 300.7,411.4 301.5,411.4 301.5,415.8 302.4,415.8 302.4,415.8 303.2,415.8 303.2,415.8 304.1,415.8 304.1,415.8 305.0,415.8 305.0,418.0 305.8,418.0 305.8,415.8 306.7,415.8 306.7,418.0 307.5,418.0 307.5,418.0 308.4,418.0 308.4,415.8 309.2,415.8 309.2,418.0 310.1,418.0 310.1,415.8 310.9,415.8 310.9,415.8 311.8,415.8 311.8,418.0 312.0,418.0 312.0,418.0 312.6,418.0 312.6,418.0 313.5,418.0 313.5,415.8 314.3,415.8 314.3,411.4 315.2,411.4 315.2,411.4 316.0,411.4 316.0,415.8 316.9,415.8 316.9,415.8 317.7,415.8 317.7,415.8 318.6,415.8 318.6,415.8 319.4,415.8 319.4,415.8 320.0,415.8 320.0,413.6 320.3,413.6 320.3,413.6 321.1,413.6 321.1,413.6 322.0,413.6 322.0,413.6 322.8,413.6 322.8,411.4 323.7,411.4 323.7,413.6 324.5,413.6 324.5,413.6 325.4,413.6 325.4,409.2 326.2,409.2 326.2,411.4 327.1,411.4 327.1,413.6 327.9,413.6 327.9,413.6 328.8,413.6 328.8,413.6 329.6,413.6 329.6,411.4 330.0,411.4 330.0,411.4 330.5,411.4 330.5,411.4 331.3,411.4 331.3,411.4 332.2,411.4 332.2,411.4 333.0,411.4 333.0,411.4 333.9,411.4 333.9,413.6 334.7,413.6 334.7,411.4 335.6,411.4 335.6,411.4 336.4,411.4 336.4,411.4 337.3,411.4 337.3,411.4 338.1,411.4 338.1,411.4 339.0,411.4 339.0,411.4 339.8,411.4 339.8,413.6 340.7,413.6 340.7,411.4 341.5,411.4 341.5,411.4 341.5,411.4 341.5,411.4 342.4,411.4 342.4,415.8 343.2,415.8 343.2,420.2 343.7,420.2 343.7,422.4 344.1,422.4 344.1,422.4 344.9,422.4 344.9,424.6 345.8,424.6 345.8,422.4 346.6,422.4 346.6,429.0 347.5,429.0 347.5,431.2 348.3,431.2 348.3,433.4 349.2,433.4 349.2,437.8 350.0,437.8 350.0,437.8 350.6,437.8 350.6,440.0 350.9,440.0 350.9,440.0 351.7,440.0 351.7,440.0 352.6,440.0 352.6,442.2 353.4,442.2 353.4,442.2 354.3,442.2 354.3,437.8 355.1,437.8 355.1,440.0 356.0,440.0 356.0,442.2 356.8,442.2 356.8,442.2 357.7,442.2 357.7,442.2 358.5,442.2 358.5,442.2 359.4,442.2 359.4,442.2 360.2,442.2 360.2,444.4 361.1,444.4 361.1,442.2 361.9,442.2 361.9,442.2 362.0,442.2 362.0,442.2 362.8,442.2 362.8,444.4 363.6,444.4 363.6,442.2 364.5,442.2 364.5,446.5 365.3,446.5 365.3,446.5 366.2,446.5 366.2,444.4 367.0,444.4 367.0,442.2 367.9,442.2 367.9,444.4 368.7,444.4 368.7,442.2 369.0,442.2 369.0,444.4 369.6,444.4 369.6,444.4 370.4,444.4 370.4,442.2 371.3,442.2 371.3,442.2 372.1,442.2 372.1,440.0 373.0,440.0 373.0,437.8 373.8,437.8 373.8,437.8 374.7,437.8 374.7,437.8 375.5,437.8 375.5,435.6 376.4,435.6 376.4,435.6 377.2,435.6 377.2,433.4 378.1,433.4 378.1,433.4 378.9,433.4 378.9,433.4 379.8,433.4 379.8,431.2 379.8,431.2 379.8,429.0 380.6,429.0 380.6,435.6 381.5,435.6 381.5,429.0 382.3,429.0 382.3,431.2 383.2,431.2 383.2,429.0 384.0,429.0 384.0,424.6 384.9,424.6 384.9,429.0 385.7,429.0 385.7,426.8 386.6,426.8 386.6,424.6 387.4,424.6 387.4,424.6 388.3,424.6 388.3,424.6 389.1,424.6 389.1,424.6 389.6,424.6 389.6,422.4 390.0,422.4 390.0,422.4 390.8,422.4 390.8,424.6 391.7,424.6 391.7,424.6 392.5,424.6 392.5,424.6 393.4,424.6 393.4,424.6 394.2,424.6 394.2,426.8 395.1,426.8 395.1,426.8 395.9,426.8 395.9,426.8 396.0,426.8 396.0,426.8 396.8,426.8 396.8,422.4 397.6,422.4 397.6,429.0 398.5,429.0 398.5,426.8 399.3,426.8 399.3,426.8 400.2,426.8 400.2,426.8 401.0,426.8 401.0,426.8 401.9,426.8 401.9,426.8 402.7,426.8 402.7,426.8 402.7,426.8 402.7,426.8 403.6,426.8 403.6,424.6 404.4,424.6 404.4,424.6 405.3,424.6 405.3,424.6 406.1,424.6 406.1,422.4 407.0,422.4 407.0,422.4 407.8,422.4 407.8,420.2 408.7,420.2 408.7,418.0 409.0,418.0 409.0,420.2 409.5,420.2 409.5,420.2 410.4,420.2 410.4,420.2 411.2,420.2 411.2,413.6 412.1,413.6 412.1,418.0 412.9,418.0 412.9,415.8 413.8,415.8 413.8,413.6 414.6,413.6 414.6,415.8 415.5,415.8 415.5,415.8 416.3,415.8 416.3,413.6 417.2,413.6 417.2,411.4 418.0,411.4 418.0,415.8 418.9,415.8 418.9,411.4 419.0,411.4 419.0,411.4 419.7,411.4 419.7,411.4 420.6,411.4 420.6,413.6 421.4,413.6 421.4,413.6 422.3,413.6 422.3,415.8 423.1,415.8 423.1,415.8 424.0,415.8 424.0,413.6 424.8,413.6 424.8,415.8 425.6,415.8 425.6,415.8 425.7,415.8 425.7,415.8 426.5,415.8 426.5,415.8 427.4,415.8 427.4,411.4 428.2,411.4 428.2,411.4 429.1,411.4 429.1,409.2 429.9,409.2 429.9,409.2 430.5,409.2 430.5,407.0 430.8,407.0 430.8,407.0 431.6,407.0 431.6,404.8 432.5,404.8 432.5,404.8 433.3,404.8 433.3,402.6 434.2,402.6 434.2,404.8 435.0,404.8 435.0,404.8 435.9,404.8 435.9,402.6 436.7,402.6 436.7,402.6 437.6,402.6 437.6,400.4 438.4,400.4 438.4,400.4 438.7,400.4 438.7,400.4 439.3,400.4 439.3,404.8 440.1,404.8 440.1,398.2 441.0,398.2 441.0,398.2 441.8,398.2 441.8,396.0 442.7,396.0 442.7,396.0 443.5,396.0 443.5,396.0 444.4,396.0 444.4,393.8 445.0,393.8 445.0,393.8 445.2,393.8 445.2,393.8 446.1,393.8 446.1,393.8 446.9,393.8 446.9,393.8 447.8,393.8 447.8,393.8 448.6,393.8 448.6,393.8 449.5,393.8 449.5,396.0 450.3,396.0 450.3,396.0 451.2,396.0 451.2,393.8 452.0,393.8 452.0,396.0 452.9,396.0 452.9,396.0 453.7,396.0 453.7,396.0 454.6,396.0 454.6,396.0 455.0,396.0 455.0,396.0 455.4,396.0 455.4,396.0 456.3,396.0 456.3,393.8 457.1,393.8 457.1,393.8 458.0,393.8 458.0,389.4 458.8,389.4 458.8,387.2 459.7,387.2 459.7,387.2 460.0,387.2 460.0,385.0 460.5,385.0 460.5,385.0 461.4,385.0 461.4,382.8 462.2,382.8 462.2,382.8 463.1,382.8 463.1,382.8 463.9,382.8 463.9,382.8 464.8,382.8 464.8,380.6 465.0,380.6 465.0,380.6 465.6,380.6 465.6,378.4 466.5,378.4 466.5,376.2 467.3,376.2 467.3,374.0 468.2,374.0 468.2,369.6 469.0,369.6 469.0,365.2 469.9,365.2 469.9,363.0 470.7,363.0 470.7,358.6 471.6,358.6 471.6,356.4 472.4,356.4 472.4,352.0 473.3,352.0 473.3,349.8 474.1,349.8 474.1,347.6 474.7,347.6 474.7,345.4 475.0,345.4 475.0,343.2 475.8,343.2 475.8,343.2 476.7,343.2 476.7,343.2 477.5,343.2 477.5,341.0 478.4,341.0 478.4,341.0 479.2,341.0 479.2,338.8 480.1,338.8 480.1,338.8 480.9,338.8 480.9,336.6 481.8,336.6 481.8,336.6 482.6,336.6 482.6,336.6 483.5,336.6 483.5,336.6 484.3,336.6 484.3,334.4 484.5,334.4 484.5,336.6 485.2,336.6 485.2,332.2 486.0,332.2 486.0,330.0 486.9,330.0 486.9,327.8 487.7,327.8 487.7,323.4 488.6,323.4 488.6,321.2 489.4,321.2 489.4,319.0 489.4,319.0 489.4,319.0 490.3,319.0 490.3,314.6 491.1,314.6 491.1,310.2 492.0,310.2 492.0,305.8 492.8,305.8 492.8,299.2 493.7,299.2 493.7,297.0 494.3,297.0 494.3,292.6 494.5,292.6 494.5,290.4 495.4,290.4 495.4,288.2 496.2,288.2 496.2,288.2 497.1,288.2 497.1,283.8 497.9,283.8 497.9,281.6 498.8,281.6 498.8,279.4 499.3,279.4 499.3,277.2 499.6,277.2 499.6,277.2 500.5,277.2 500.5,277.2 501.3,277.2 501.3,277.2 502.2,277.2 502.2,277.2 503.0,277.2 503.0,275.0 503.9,275.0 503.9,275.0 504.7,275.0 504.7,275.0 505.6,275.0 505.6,275.0 506.4,275.0 506.4,275.0 507.3,275.0 507.3,272.8 507.4,272.8 507.4,272.8 508.1,272.8 508.1,275.0 509.0,275.0 509.0,275.0 509.8,275.0 509.8,275.0 510.7,275.0 510.7,275.0 511.5,275.0 511.5,275.0 512.4,275.0 512.4,272.8 513.0,272.8 513.0,272.8 513.2,272.8 513.2,275.0 514.1,275.0 514.1,270.6 514.9,270.6 514.9,270.6 515.8,270.6 515.8,268.4 516.6,268.4 516.6,268.4 517.5,268.4 517.5,266.2 518.3,266.2 518.3,264.0 519.0,264.0 519.0,261.8 519.2,261.8 519.2,261.8 520.0,261.8 520.0,264.0 520.9,264.0 520.9,264.0 521.7,264.0 521.7,261.8 522.6,261.8 522.6,261.8 523.4,261.8 523.4,264.0 524.3,264.0 524.3,264.0 525.1,264.0 525.1,261.8 526.0,261.8 526.0,261.8 526.8,261.8 526.8,261.8 527.7,261.8 527.7,261.8 528.5,261.8 528.5,261.8 529.4,261.8 529.4,261.8 529.5,261.8 529.5,259.6 530.2,259.6 530.2,261.8 531.1,261.8 531.1,259.6 531.9,259.6 531.9,259.6 532.8,259.6 532.8,261.8 533.6,261.8 533.6,257.4 534.5,257.4 534.5,253.0 535.3,253.0 535.3,250.8 536.2,250.8 536.2,250.8 537.0,250.8 537.0,248.6 537.9,248.6 537.9,248.6 538.7,248.6 538.7,246.4 539.6,246.4 539.6,246.4 540.0,246.4 540.0,246.4 540.4,246.4 540.4,246.4 541.3,246.4 541.3,250.8 542.1,250.8 542.1,246.4 543.0,246.4 543.0,246.4 543.8,246.4 543.8,246.4 543.9,246.4 543.9,246.4 544.7,246.4 544.7,248.6 545.5,248.6 545.5,250.8 546.4,250.8 546.4,253.0 547.2,253.0 547.2,255.2 548.1,255.2 548.1,257.4 548.9,257.4 548.9,259.6 549.0,259.6 549.0,259.6 549.8,259.6 549.8,255.2 550.6,255.2 550.6,255.2 551.5,255.2 551.5,250.8 552.3,250.8 552.3,246.4 553.2,246.4 553.2,244.2 554.0,244.2 554.0,242.0 554.9,242.0 554.9,237.6 555.4,237.6 555.4,235.4 555.7,235.4 555.7,235.4 556.6,235.4 556.6,235.4 557.4,235.4 557.4,237.6 558.3,237.6 558.3,237.6 559.1,237.6 559.1,237.6 559.3,237.6 559.3,237.6 560.0,237.6 560.0,235.4 560.8,235.4 560.8,235.4 561.7,235.4 561.7,231.0 562.5,231.0 562.5,228.8 563.4,228.8 563.4,228.8 564.2,228.8 564.2,226.6 565.1,226.6 565.1,224.4 565.2,224.4 565.2,224.4 565.9,224.4 565.9,226.6 566.8,226.6 566.8,228.8 567.6,228.8 567.6,231.0 568.5,231.0 568.5,233.2 569.3,233.2 569.3,235.4 570.2,235.4 570.2,235.4 570.8,235.4 570.8,239.8 571.0,239.8 571.0,239.8 571.9,239.8 571.9,239.8 572.7,239.8 572.7,242.0 573.6,242.0 573.6,242.0 574.4,242.0 574.4,242.0 574.7,242.0 574.7,242.0 575.3,242.0 575.3,239.8 576.1,239.8 576.1,239.8 577.0,239.8 577.0,242.0 577.8,242.0 577.8,237.6 578.5,237.6 578.5,239.8 578.7,239.8 578.7,237.6 579.5,237.6 579.5,242.0 580.4,242.0 580.4,242.0 581.2,242.0 581.2,244.2 582.1,244.2 582.1,246.4 582.9,246.4 582.9,246.4 583.6,246.4 583.6,248.6 583.8,248.6 583.8,248.6 584.6,248.6 584.6,248.6 585.5,248.6 585.5,246.4 586.3,246.4 586.3,250.8 587.2,250.8 587.2,246.4 588.0,246.4 588.0,239.8 588.9,239.8 588.9,244.2 589.7,244.2 589.7,242.0 590.6,242.0 590.6,244.2 591.3,244.2 591.3,242.0 591.4,242.0 591.4,242.0 592.3,242.0 592.3,242.0 593.1,242.0 593.1,244.2 594.0,244.2 594.0,246.4 594.8,246.4 594.8,246.4 595.7,246.4 595.7,248.6 596.5,248.6 596.5,246.4 597.4,246.4 597.4,248.6 597.8,248.6 597.8,248.6 598.2,248.6 598.2,248.6 599.1,248.6 599.1,248.6 599.9,248.6 599.9,246.4 600.8,246.4 600.8,248.6 601.6,248.6 601.6,246.4 602.5,246.4 602.5,244.2 603.3,244.2 603.3,242.0 604.2,242.0 604.2,244.2 604.2,244.2 604.2,242.0 605.0,242.0 605.0,242.0 605.9,242.0 605.9,242.0 606.7,242.0 606.7,242.0 607.6,242.0 607.6,242.0 608.4,242.0 608.4,242.0 609.3,242.0 609.3,242.0 610.1,242.0 610.1,242.0 610.6,242.0 610.6,242.0 611.0,242.0 611.0,239.8 611.8,239.8 611.8,239.8 612.7,239.8 612.7,237.6 613.5,237.6 613.5,237.6 614.4,237.6 614.4,237.6 615.2,237.6 615.2,235.4 615.7,235.4 615.7,233.2 616.1,233.2 616.1,235.4 616.9,235.4 616.9,237.6 617.8,237.6 617.8,239.8 618.6,239.8 618.6,244.2 619.5,244.2 619.5,244.2 620.3,244.2 620.3,246.4 621.2,246.4 621.2,246.4 622.0,246.4 622.0,248.6 622.9,248.6 622.9,253.0 623.4,253.0 623.4,253.0 623.7,253.0 623.7,253.0 624.6,253.0 624.6,253.0 625.4,253.0 625.4,250.8 626.3,250.8 626.3,248.6 627.1,248.6 627.1,253.0 628.0,253.0 628.0,246.4 628.6,246.4 628.6,246.4 628.8,246.4 628.8,244.2 629.7,244.2 629.7,237.6 630.5,237.6 630.5,237.6 631.4,237.6 631.4,231.0 632.2,231.0 632.2,226.6 633.1,226.6 633.1,222.2 633.7,222.2 633.7,213.4 633.9,213.4 633.9,222.2 634.8,222.2 634.8,213.4 635.6,213.4 635.6,209.0 636.5,209.0 636.5,204.6 637.3,204.6 637.3,202.4 638.2,202.4 638.2,198.0 639.0,198.0 639.0,195.8 639.9,195.8 639.9,191.4 640.7,191.4 640.7,187.0 640.9,187.0 640.9,184.8 641.6,184.8 641.6,189.2 642.4,189.2 642.4,193.6 643.3,193.6 643.3,198.0 644.1,198.0 644.1,202.4 645.0,202.4 645.0,198.0 645.8,198.0 645.8,209.0 646.5,209.0 646.5,211.2 646.7,211.2 646.7,209.0 647.5,209.0 647.5,206.8 648.4,206.8 648.4,200.2 649.1,200.2 649.1,195.8 649.2,195.8 649.2,202.4 650.1,202.4 650.1,200.2 650.9,200.2 650.9,204.6 651.8,204.6 651.8,209.0 652.6,209.0 652.6,213.4 652.9,213.4 652.9,213.4 653.5,213.4 653.5,213.4 654.3,213.4 654.3,215.6 655.2,215.6 655.2,215.6 656.0,215.6 656.0,215.6 656.8,215.6 656.8,217.8 656.9,217.8 656.9,217.8 657.7,217.8 657.7,213.4 658.6,213.4 658.6,211.2 659.4,211.2 659.4,206.8 660.3,206.8 660.3,204.6 660.6,204.6 660.6,202.4 661.1,202.4 661.1,202.4 662.0,202.4 662.0,200.2 662.8,200.2 662.8,198.0 663.7,198.0 663.7,195.8 664.5,195.8 664.5,193.6 665.4,193.6 665.4,191.4 665.8,191.4 665.8,191.4 666.2,191.4 666.2,191.4 667.1,191.4 667.1,191.4 667.9,191.4 667.9,193.6 668.8,193.6 668.8,195.8 669.6,195.8 669.6,198.0 669.6,198.0 669.6,198.0 670.5,198.0 670.5,195.8 671.3,195.8 671.3,198.0 672.2,198.0 672.2,195.8 673.0,195.8 673.0,195.8 673.5,195.8 673.5,198.0 673.9,198.0 673.9,195.8 674.7,195.8 674.7,200.2 675.6,200.2 675.6,200.2 676.4,200.2 676.4,204.6 677.3,204.6 677.3,202.4 678.1,202.4 678.1,204.6 678.6,204.6 678.6,206.8 679.0,206.8 679.0,204.6 679.8,204.6 679.8,204.6 680.7,204.6 680.7,202.4 681.5,202.4 681.5,200.2 682.4,200.2 682.4,198.0 683.2,198.0 683.2,200.2 683.7,200.2 683.7,198.0 684.1,198.0 684.1,195.8 684.9,195.8 684.9,195.8 685.8,195.8 685.8,193.6 686.6,193.6 686.6,191.4 687.5,191.4 687.5,189.2 687.6,189.2 687.6,189.2 688.3,189.2 688.3,191.4 689.2,191.4 689.2,191.4 690.0,191.4 690.0,193.6 690.9,193.6 690.9,193.6 691.7,193.6 691.7,195.8 692.6,195.8 692.6,195.8 692.7,195.8 692.7,195.8 693.4,195.8 693.4,195.8 694.3,195.8 694.3,195.8 695.1,195.8 695.1,193.6 696.0,193.6 696.0,193.6 696.8,193.6 696.8,189.2 697.7,189.2 697.7,189.2 698.5,189.2 698.5,187.0 699.1,187.0 699.1,184.8 699.4,184.8 699.4,187.0 700.2,187.0 700.2,189.2 701.1,189.2 701.1,191.4 701.9,191.4 701.9,191.4 702.8,191.4 702.8,191.4 703.6,191.4 703.6,193.6 704.5,193.6 704.5,195.8 705.3,195.8 705.3,195.8 705.5,195.8 705.5,195.8 706.2,195.8 706.2,193.6 707.0,193.6 707.0,193.6 707.9,193.6 707.9,191.4 708.7,191.4 708.7,189.2 709.4,189.2 709.4,187.0 709.6,187.0 709.6,187.0 710.4,187.0 710.4,189.2 711.3,189.2 711.3,184.8 712.1,184.8 712.1,182.6 713.0,182.6 713.0,180.4 713.8,180.4 713.8,178.2 714.0,178.2 714.0,178.2 714.7,178.2 714.7,180.4 715.5,180.4 715.5,184.8 716.4,184.8 716.4,187.0 717.2,187.0 717.2,189.2 718.1,189.2 718.1,191.4 718.4,191.4 718.4,193.6 718.9,193.6 718.9,191.4 719.8,191.4 719.8,189.2 720.6,189.2 720.6,187.0 721.5,187.0 721.5,184.8 722.2,184.8 722.2,182.6 722.3,182.6 722.3,184.8 723.2,184.8 723.2,184.8 724.0,184.8 724.0,187.0 724.9,187.0 724.9,189.2 725.7,189.2 725.7,193.6 726.1,193.6 726.1,195.8 726.6,195.8 726.6,193.6 727.4,193.6 727.4,193.6 728.3,193.6 728.3,191.4 729.1,191.4 729.1,191.4 729.9,191.4 729.9,189.2 730.0,189.2 730.0,189.2 730.8,189.2 730.8,191.4 731.7,191.4 731.7,193.6 732.5,193.6 732.5,191.4 733.4,191.4 733.4,195.8 734.2,195.8 734.2,198.0 735.1,198.0 735.1,200.2 735.9,200.2 735.9,202.4 736.8,202.4 736.8,202.4 737.6,202.4 737.6,206.8 737.6,206.8 737.6,204.6 738.5,204.6 738.5,211.2 738.9,211.2 738.9,213.4 739.3,213.4 739.3,213.4 740.2,213.4 740.2,215.6 741.0,215.6 741.0,213.4 741.9,213.4 741.9,213.4 742.7,213.4 742.7,213.4 743.6,213.4 743.6,213.4 744.4,213.4 744.4,213.4 745.3,213.4 745.3,213.4 746.1,213.4 746.1,213.4 747.0,213.4 747.0,215.6 747.8,215.6 747.8,213.4 748.7,213.4 748.7,213.4 749.5,213.4 749.5,213.4 750.4,213.4 750.4,211.2 751.2,211.2 751.2,213.4 752.1,213.4 752.1,215.6 752.9,215.6 752.9,215.6 753.0,215.6 753.0,213.4 753.8,213.4 753.8,209.0 754.6,209.0 754.6,204.6 755.5,204.6 755.5,202.4 755.6,202.4 755.6,200.2 756.3,200.2 756.3,200.2 757.2,200.2 757.2,200.2 758.0,200.2 758.0,200.2 758.9,200.2 758.9,200.2 759.7,200.2 759.7,204.6 760.6,204.6 760.6,200.2 761.4,200.2 761.4,200.2 762.0,200.2 762.0,200.2 762.3,200.2 762.3,200.2 763.1,200.2 763.1,202.4 764.0,202.4 764.0,204.6 764.8,204.6 764.8,206.8 765.7,206.8 765.7,206.8 766.5,206.8 766.5,209.0 767.4,209.0 767.4,211.2 768.2,211.2 768.2,213.4 768.4,213.4 768.4,213.4 769.1,213.4 769.1,211.2 769.9,211.2 769.9,209.0 770.8,209.0 770.8,209.0 771.6,209.0 771.6,206.8 772.5,206.8 772.5,206.8 773.3,206.8 773.3,204.6 774.2,204.6 774.2,204.6 774.9,204.6 774.9,204.6 775.0,204.6 775.0,198.0 775.9,198.0 775.9,204.6 776.7,204.6 776.7,206.8 777.6,206.8 777.6,206.8 778.4,206.8 778.4,209.0 779.3,209.0 779.3,211.2 780.1,211.2 780.1,213.4 781.0,213.4 781.0,213.4 781.8,213.4 781.8,215.6 782.6,215.6 782.6,215.6 782.7,215.6 782.7,213.4 783.5,213.4 783.5,220.0 784.4,220.0 784.4,220.0 785.2,220.0 785.2,222.2 786.1,222.2 786.1,226.6 786.9,226.6 786.9,228.8 787.8,228.8 787.8,226.6 788.6,226.6 788.6,231.0 789.5,231.0 789.5,237.6 790.3,237.6 790.3,235.4 790.3,235.4 790.3,235.4 791.2,235.4 791.2,237.6 792.0,237.6 792.0,237.6 792.9,237.6 792.9,239.8 793.7,239.8 793.7,244.2 794.6,244.2 794.6,244.2 795.4,244.2 795.4,246.4 796.3,246.4 796.3,248.6 797.1,248.6 797.1,250.8 798.0,250.8 798.0,253.0 798.8,253.0 798.8,257.4 799.7,257.4 799.7,257.4 800.0,257.4 800.0,259.6 800.5,259.6 800.5,257.4 801.4,257.4 801.4,261.8 802.2,261.8 802.2,259.6 803.1,259.6 803.1,261.8 803.9,261.8 803.9,261.8 804.8,261.8 804.8,264.0 805.6,264.0 805.6,264.0 806.5,264.0 806.5,266.2 807.0,266.2 807.0,266.2 807.3,266.2 807.3,268.4 808.2,268.4 808.2,268.4 809.0,268.4 809.0,272.8 809.9,272.8 809.9,272.8 810.7,272.8 810.7,270.6 811.6,270.6 811.6,277.2 812.4,277.2 812.4,279.4 813.3,279.4 813.3,279.4 814.1,279.4 814.1,281.6 815.0,281.6 815.0,283.8 815.8,283.8 815.8,286.0 816.6,286.0 816.6,286.0 816.7,286.0 816.7,288.2 817.5,288.2 817.5,288.2 818.4,288.2 818.4,290.4 819.2,290.4 819.2,292.6 820.1,292.6 820.1,294.8 820.9,294.8 820.9,294.8 821.8,294.8 821.8,297.0 822.6,297.0 822.6,299.2 823.5,299.2 823.5,301.4 823.7,301.4 823.7,301.4 824.3,301.4 824.3,305.8 825.2,305.8 825.2,308.0 826.0,308.0 826.0,312.4 826.9,312.4 826.9,314.6 827.7,314.6 827.7,316.8 828.5,316.8 828.5,321.2 828.6,321.2 828.6,321.2 829.4,321.2 829.4,321.2 830.3,321.2 830.3,323.4 831.1,323.4 831.1,325.6 832.0,325.6 832.0,327.8 832.8,327.8 832.8,330.0 833.7,330.0 833.7,332.2 834.5,332.2 834.5,332.2 835.4,332.2 835.4,334.4 835.6,334.4 835.6,334.4 836.2,334.4 836.2,334.4 837.1,334.4 837.1,336.6 837.9,336.6 837.9,338.8 838.8,338.8 838.8,336.6 839.6,336.6 839.6,338.8 840.5,338.8 840.5,345.4 841.3,345.4 841.3,341.0 842.2,341.0 842.2,341.0 842.7,341.0 842.7,343.2 843.0,343.2 843.0,343.2 843.9,343.2 843.9,345.4 844.7,345.4 844.7,345.4 845.6,345.4 845.6,347.6 846.4,347.6 846.4,347.6 847.3,347.6 847.3,347.6 848.1,347.6 848.1,349.8 849.0,349.8 849.0,352.0 849.8,352.0 849.8,352.0 849.8,352.0 849.8,354.2 850.7,354.2 850.7,354.2 851.5,354.2 851.5,352.0 852.4,352.0 852.4,352.0 853.2,352.0 853.2,354.2 854.1,354.2 854.1,356.4 854.9,356.4 854.9,354.2 855.8,354.2 855.8,356.4 856.6,356.4 856.6,356.4 857.5,356.4 857.5,356.4 858.3,356.4 858.3,356.4 859.2,356.4 859.2,358.6 860.0,358.6 860.0,356.4 860.9,356.4 860.9,358.6 861.7,358.6 861.7,358.6 861.7,358.6 861.7,358.6 862.6,358.6 862.6,360.8 863.4,360.8 863.4,360.8 864.3,360.8 864.3,360.8 865.1,360.8 865.1,363.0 866.0,363.0 866.0,363.0 866.8,363.0 866.8,365.2 867.7,365.2 867.7,365.2 868.5,365.2 868.5,367.4 868.8,367.4 868.8,365.2 869.4,365.2 869.4,369.6 870.2,369.6 870.2,367.4 871.1,367.4 871.1,367.4 871.9,367.4 871.9,367.4 872.8,367.4 872.8,367.4 873.6,367.4 873.6,367.4 874.5,367.4 874.5,369.6 875.3,369.6 875.3,367.4 876.2,367.4 876.2,369.6 877.0,369.6 877.0,367.4 877.9,367.4 877.9,367.4 878.7,367.4 878.7,369.6 879.6,369.6 879.6,369.6 880.4,369.6 880.4,369.6 881.3,369.6 881.3,369.6 882.1,369.6 882.1,371.8 883.0,371.8 883.0,369.6 883.0,369.6 883.0,371.8 883.8,371.8 883.8,371.8 884.7,371.8 884.7,374.0 885.5,374.0 885.5,374.0 886.4,374.0 886.4,371.8 887.2,371.8 887.2,374.0 888.1,374.0 888.1,371.8 888.9,371.8 888.9,374.0 889.8,374.0 889.8,374.0 890.6,374.0 890.6,376.2 891.5,376.2 891.5,376.2 892.3,376.2 892.3,376.2 892.6,376.2 892.6,376.2 893.2,376.2 893.2,376.2 894.0,376.2 894.0,376.2 894.9,376.2 894.9,376.2 895.7,376.2 895.7,378.4 896.6,378.4 896.6,378.4 897.4,378.4 897.4,380.6 898.3,380.6 898.3,380.6 899.1,380.6 899.1,380.6 900.0,380.6 900.0,380.6 900.8,380.6 900.8,382.8 901.7,382.8 901.7,382.8 902.0,382.8 902.0,382.8 902.5,382.8 902.5,382.8 903.4,382.8 903.4,385.0 904.2,385.0 904.2,385.0 905.1,385.0 905.1,385.0 905.9,385.0 905.9,387.2 906.8,387.2 906.8,387.2 907.6,387.2 907.6,387.2 908.5,387.2 908.5,387.2 909.3,387.2 909.3,389.4 910.2,389.4 910.2,389.4 910.6,389.4 910.6,389.4" fill="none" stroke="#f7941d" stroke-width="1.5" stroke-linejoin="miter"/><path d="M61.0 400.4h0M61.0 400.4h0M61.9 398.2h0M62.7 396.0h0M63.6 398.2h0M64.0 396.0h0M64.4 396.0h0M65.2 396.0h0M66.1 393.8h0M66.9 396.0h0M67.8 396.0h0M68.6 396.0h0M69.5 396.0h0M70.3 393.8h0M71.2 396.0h0M72.0 396.0h0M72.9 396.0h0M73.7 396.0h0M74.6 396.0h0M75.4 396.0h0M76.3 396.0h0M77.1 396.0h0M78.0 393.8h0M78.8 396.0h0M79.7 393.8h0M80.0 396.0h0M80.5 396.0h0M81.4 393.8h0M82.0 393.8h0M82.2 400.4h0M83.1 400.4h0M83.9 393.8h0M84.8 393.8h0M85.6 393.8h0M86.5 393.8h0M87.3 396.0h0M88.2 393.8h0M89.0 393.8h0M89.9 393.8h0M90.7 396.0h0M91.6 393.8h0M92.4 393.8h0M93.3 396.0h0M94.1 393.8h0M95.0 396.0h0M95.8 393.8h0M96.7 393.8h0M97.5 396.0h0M98.4 393.8h0M99.2 396.0h0M100.0 396.0h0M100.1 396.0h0M100.9 396.0h0M101.8 393.8h0M102.6 393.8h0M103.5 396.0h0M104.3 396.0h0M105.2 396.0h0M106.0 393.8h0M106.9 393.8h0M107.7 393.8h0M108.6 396.0h0M109.4 396.0h0M110.3 396.0h0M111.1 396.0h0M112.0 396.0h0M112.8 393.8h0M113.7 396.0h0M114.5 396.0h0M115.4 393.8h0M116.2 396.0h0M117.1 393.8h0M117.9 396.0h0M118.8 396.0h0M119.6 393.8h0M120.5 393.8h0M121.3 396.0h0M122.2 393.8h0M123.0 396.0h0M123.9 393.8h0M124.7 393.8h0M125.0 396.0h0M125.6 396.0h0M126.4 393.8h0M127.3 393.8h0M128.1 393.8h0M129.0 393.8h0M129.8 393.8h0M130.0 393.8h0M130.7 391.6h0M131.5 393.8h0M132.4 393.8h0M133.2 393.8h0M134.1 393.8h0M134.9 393.8h0M135.8 393.8h0M136.6 393.8h0M137.5 391.6h0M138.3 393.8h0M139.2 391.6h0M140.0 393.8h0M140.9 393.8h0M141.7 391.6h0M142.6 393.8h0M143.4 396.0h0M144.3 393.8h0M145.1 391.6h0M146.0 393.8h0M146.8 393.8h0M147.7 393.8h0M148.5 393.8h0M149.4 393.8h0M150.2 391.6h0M151.1 393.8h0M151.9 391.6h0M152.8 391.6h0M153.6 393.8h0M154.5 393.8h0M155.3 393.8h0M156.2 391.6h0M157.0 391.6h0M157.9 393.8h0M158.7 393.8h0M159.6 393.8h0M160.0 393.8h0M160.4 391.6h0M161.3 391.6h0M162.0 391.6h0M162.1 391.6h0M163.0 391.6h0M163.8 391.6h0M164.7 389.4h0M165.5 391.6h0M166.4 393.8h0M167.2 387.2h0M168.1 396.0h0M168.9 391.6h0M169.8 389.4h0M170.6 391.6h0M171.5 391.6h0M172.0 391.6h0M172.3 393.8h0M173.2 391.6h0M173.7 396.0h0M174.0 402.6h0M174.0 404.8h0M174.9 402.6h0M175.7 409.2h0M176.6 404.8h0M177.4 402.6h0M178.0 402.6h0M178.3 404.8h0M179.1 407.0h0M180.0 409.2h0M180.0 409.2h0M180.8 409.2h0M181.7 409.2h0M182.5 409.2h0M183.4 407.0h0M184.2 409.2h0M185.1 409.2h0M185.9 409.2h0M186.8 409.2h0M187.6 409.2h0M188.5 409.2h0M189.3 409.2h0M190.2 409.2h0M191.0 411.4h0M191.9 409.2h0M192.7 409.2h0M193.6 409.2h0M194.4 409.2h0M195.3 409.2h0M196.1 411.4h0M197.0 409.2h0M197.8 409.2h0M198.7 407.0h0M199.5 409.2h0M200.4 409.2h0M201.2 409.2h0M202.1 409.2h0M202.9 407.0h0M203.8 409.2h0M204.6 409.2h0M205.0 409.2h0M205.5 409.2h0M206.3 409.2h0M207.2 411.4h0M208.0 409.2h0M208.9 409.2h0M209.7 409.2h0M210.0 409.2h0M210.6 409.2h0M211.4 413.6h0M212.3 409.2h0M213.1 409.2h0M214.0 409.2h0M214.8 411.4h0M215.7 409.2h0M216.5 409.2h0M217.4 409.2h0M218.2 411.4h0M219.1 409.2h0M219.9 411.4h0M220.8 411.4h0M221.6 409.2h0M222.0 409.2h0M222.5 409.2h0M223.3 409.2h0M224.2 411.4h0M225.0 411.4h0M225.9 411.4h0M226.7 409.2h0M227.6 409.2h0M228.4 404.8h0M229.3 409.2h0M230.1 411.4h0M231.0 409.2h0M231.8 409.2h0M232.7 411.4h0M233.5 409.2h0M234.4 409.2h0M235.0 411.4h0M235.2 409.2h0M236.1 409.2h0M236.9 411.4h0M237.8 411.4h0M238.6 411.4h0M239.5 411.4h0M240.3 411.4h0M241.2 413.6h0M242.0 415.8h0M242.9 415.8h0M243.7 411.4h0M244.6 415.8h0M244.8 415.8h0M245.4 418.0h0M246.3 415.8h0M247.1 418.0h0M248.0 418.0h0M248.8 418.0h0M249.7 418.0h0M250.5 422.4h0M251.0 420.2h0M251.4 422.4h0M252.2 420.2h0M253.1 422.4h0M253.9 422.4h0M254.8 420.2h0M255.6 420.2h0M256.5 420.2h0M257.3 420.2h0M258.2 420.2h0M259.0 420.2h0M259.9 420.2h0M260.7 420.2h0M261.6 420.2h0M262.4 418.0h0M263.0 420.2h0M263.3 420.2h0M263.7 415.8h0M264.1 418.0h0M265.0 415.8h0M265.8 418.0h0M266.7 420.2h0M267.5 418.0h0M268.4 418.0h0M269.2 415.8h0M270.1 418.0h0M270.9 415.8h0M271.8 415.8h0M272.6 418.0h0M273.5 418.0h0M274.3 415.8h0M275.2 415.8h0M276.0 418.0h0M276.9 418.0h0M277.7 418.0h0M278.6 422.4h0M279.4 418.0h0M280.3 415.8h0M281.1 418.0h0M282.0 418.0h0M282.8 418.0h0M283.7 418.0h0M284.0 415.8h0M284.5 415.8h0M285.4 415.8h0M286.2 413.6h0M287.1 409.2h0M287.4 413.6h0M287.9 413.6h0M288.8 418.0h0M289.6 411.4h0M290.5 413.6h0M291.3 413.6h0M292.2 415.8h0M293.0 415.8h0M293.9 413.6h0M294.7 415.8h0M295.6 415.8h0M296.4 415.8h0M297.3 415.8h0M298.1 415.8h0M299.0 415.8h0M299.8 415.8h0M300.0 418.0h0M300.7 411.4h0M301.5 415.8h0M302.4 415.8h0M303.2 415.8h0M304.1 415.8h0M305.0 418.0h0M305.8 415.8h0M306.7 418.0h0M307.5 418.0h0M308.4 415.8h0M309.2 418.0h0M310.1 415.8h0M310.9 415.8h0M311.8 418.0h0M312.0 418.0h0M312.6 418.0h0M313.5 415.8h0M314.3 411.4h0M315.2 411.4h0M316.0 415.8h0M316.9 415.8h0M317.7 415.8h0M318.6 415.8h0M319.4 415.8h0M320.0 413.6h0M320.3 413.6h0M321.1 413.6h0M322.0 413.6h0M322.8 411.4h0M323.7 413.6h0M324.5 413.6h0M325.4 409.2h0M326.2 411.4h0M327.1 413.6h0M327.9 413.6h0M328.8 413.6h0M329.6 411.4h0M330.0 411.4h0M330.5 411.4h0M331.3 411.4h0M332.2 411.4h0M333.0 411.4h0M333.9 413.6h0M334.7 411.4h0M335.6 411.4h0M336.4 411.4h0M337.3 411.4h0M338.1 411.4h0M339.0 411.4h0M339.8 413.6h0M340.7 411.4h0M341.5 411.4h0M341.5 411.4h0M342.4 415.8h0M343.2 420.2h0M343.7 422.4h0M344.1 422.4h0M344.9 424.6h0M345.8 422.4h0M346.6 429.0h0M347.5 431.2h0M348.3 433.4h0M349.2 437.8h0M350.0 437.8h0M350.6 440.0h0M350.9 440.0h0M351.7 440.0h0M352.6 442.2h0M353.4 442.2h0M354.3 437.8h0M355.1 440.0h0M356.0 442.2h0M356.8 442.2h0M357.7 442.2h0M358.5 442.2h0M359.4 442.2h0M360.2 444.4h0M361.1 442.2h0M361.9 442.2h0M362.0 442.2h0M362.8 444.4h0M363.6 442.2h0M364.5 446.5h0M365.3 446.5h0M366.2 444.4h0M367.0 442.2h0M367.9 444.4h0M368.7 442.2h0M369.0 444.4h0M369.6 444.4h0M370.4 442.2h0M371.3 442.2h0M372.1 440.0h0M373.0 437.8h0M373.8 437.8h0M374.7 437.8h0M375.5 435.6h0M376.4 435.6h0M377.2 433.4h0M378.1 433.4h0M378.9 433.4h0M379.8 431.2h0M379.8 429.0h0M380.6 435.6h0M381.5 429.0h0M382.3 431.2h0M383.2 429.0h0M384.0 424.6h0M384.9 429.0h0M385.7 426.8h0M386.6 424.6h0M387.4 424.6h0M388.3 424.6h0M389.1 424.6h0M389.6 422.4h0M390.0 422.4h0M390.8 424.6h0M391.7 424.6h0M392.5 424.6h0M393.4 424.6h0M394.2 426.8h0M395.1 426.8h0M395.9 426.8h0M396.0 426.8h0M396.8 422.4h0M397.6 429.0h0M398.5 426.8h0M399.3 426.8h0M400.2 426.8h0M401.0 426.8h0M401.9 426.8h0M402.7 426.8h0M402.7 426.8h0M403.6 424.6h0M404.4 424.6h0M405.3 424.6h0M406.1 422.4h0M407.0 422.4h0M407.8 420.2h0M408.7 418.0h0M409.0 420.2h0M409.5 420.2h0M410.4 420.2h0M411.2 413.6h0M412.1 418.0h0M412.9 415.8h0M413.8 413.6h0M414.6 415.8h0M415.5 415.8h0M416.3 413.6h0M417.2 411.4h0M418.0 415.8h0M418.9 411.4h0M419.0 411.4h0M419.7 411.4h0M420.6 413.6h0M421.4 413.6h0M422.3 415.8h0M423.1 415.8h0M424.0 413.6h0M424.8 415.8h0M425.6 415.8h0M425.7 415.8h0M426.5 415.8h0M427.4 411.4h0M428.2 411.4h0M429.1 409.2h0M429.9 409.2h0M430.5 407.0h0M430.8 407.0h0M431.6 404.8h0M432.5 404.8h0M433.3 402.6h0M434.2 404.8h0M435.0 404.8h0M435.9 402.6h0M436.7 402.6h0M437.6 400.4h0M438.4 400.4h0M438.7 400.4h0M439.3 404.8h0M440.1 398.2h0M441.0 398.2h0M441.8 396.0h0M442.7 396.0h0M443.5 396.0h0M444.4 393.8h0M445.0 393.8h0M445.2 393.8h0M446.1 393.8h0M446.9 393.8h0M447.8 393.8h0M448.6 393.8h0M449.5 396.0h0M450.3 396.0h0M451.2 393.8h0M452.0 396.0h0M452.9 396.0h0M453.7 396.0h0M454.6 396.0h0M455.0 396.0h0M455.4 396.0h0M456.3 393.8h0M457.1 393.8h0M458.0 389.4h0M458.8 387.2h0M459.7 387.2h0M460.0 385.0h0M460.5 385.0h0M461.4 382.8h0M462.2 382.8h0M463.1 382.8h0M463.9 382.8h0M464.8 380.6h0M465.0 380.6h0M465.6 378.4h0M466.5 376.2h0M467.3 374.0h0M468.2 369.6h0M469.0 365.2h0M469.9 363.0h0M470.7 358.6h0M471.6 356.4h0M472.4 352.0h0M473.3 349.8h0M474.1 347.6h0M474.7 345.4h0M475.0 343.2h0M475.8 343.2h0M476.7 343.2h0M477.5 341.0h0M478.4 341.0h0M479.2 338.8h0M480.1 338.8h0M480.9 336.6h0M481.8 336.6h0M482.6 336.6h0M483.5 336.6h0M484.3 334.4h0M484.5 336.6h0M485.2 332.2h0M486.0 330.0h0M486.9 327.8h0M487.7 323.4h0M488.6 321.2h0M489.4 319.0h0M489.4 319.0h0M490.3 314.6h0M491.1 310.2h0M492.0 305.8h0M492.8 299.2h0M493.7 297.0h0M494.3 292.6h0M494.5 290.4h0M495.4 288.2h0M496.2 288.2h0M497.1 283.8h0M497.9 281.6h0M498.8 279.4h0M499.3 277.2h0M499.6 277.2h0M500.5 277.2h0M501.3 277.2h0M502.2 277.2h0M503.0 275.0h0M503.9 275.0h0M504.7 275.0h0M505.6 275.0h0M506.4 275.0h0M507.3 272.8h0M507.4 272.8h0M508.1 275.0h0M509.0 275.0h0M509.8 275.0h0M510.7 275.0h0M511.5 275.0h0M512.4 272.8h0M513.0 272.8h0M513.2 275.0h0M514.1 270.6h0M514.9 270.6h0M515.8 268.4h0M516.6 268.4h0M517.5 266.2h0M518.3 264.0h0M519.0 261.8h0M519.2 261.8h0M520.0 264.0h0M520.9 264.0h0M521.7 261.8h0M522.6 261.8h0M523.4 264.0h0M524.3 264.0h0M525.1 261.8h0M526.0 261.8h0M526.8 261.8h0M527.7 261.8h0M528.5 261.8h0M529.4 261.8h0M529.5 259.6h0M530.2 261.8h0M531.1 259.6h0M531.9 259.6h0M532.8 261.8h0M533.6 257.4h0M534.5 253.0h0M535.3 250.8h0M536.2 250.8h0M537.0 248.6h0M537.9 248.6h0M538.7 246.4h0M539.6 246.4h0M540.0 246.4h0M540.4 246.4h0M541.3 250.8h0M542.1 246.4h0M543.0 246.4h0M543.8 246.4h0M543.9 246.4h0M544.7 248.6h0M545.5 250.8h0M546.4 253.0h0M547.2 255.2h0M548.1 257.4h0M548.9 259.6h0M549.0 259.6h0M549.8 255.2h0M550.6 255.2h0M551.5 250.8h0M552.3 246.4h0M553.2 244.2h0M554.0 242.0h0M554.9 237.6h0M555.4 235.4h0M555.7 235.4h0M556.6 235.4h0M557.4 237.6h0M558.3 237.6h0M559.1 237.6h0M559.3 237.6h0M560.0 235.4h0M560.8 235.4h0M561.7 231.0h0M562.5 228.8h0M563.4 228.8h0M564.2 226.6h0M565.1 224.4h0M565.2 224.4h0M565.9 226.6h0M566.8 228.8h0M567.6 231.0h0M568.5 233.2h0M569.3 235.4h0M570.2 235.4h0M570.8 239.8h0M571.0 239.8h0M571.9 239.8h0M572.7 242.0h0M573.6 242.0h0M574.4 242.0h0M574.7 242.0h0M575.3 239.8h0M576.1 239.8h0M577.0 242.0h0M577.8 237.6h0M578.5 239.8h0M578.7 237.6h0M579.5 242.0h0M580.4 242.0h0M581.2 244.2h0M582.1 246.4h0M582.9 246.4h0M583.6 248.6h0M583.8 248.6h0M584.6 248.6h0M585.5 246.4h0M586.3 250.8h0M587.2 246.4h0M588.0 239.8h0M588.9 244.2h0M589.7 242.0h0M590.6 244.2h0M591.3 242.0h0M591.4 242.0h0M592.3 242.0h0M593.1 244.2h0M594.0 246.4h0M594.8 246.4h0M595.7 248.6h0M596.5 246.4h0M597.4 248.6h0M597.8 248.6h0M598.2 248.6h0M599.1 248.6h0M599.9 246.4h0M600.8 248.6h0M601.6 246.4h0M602.5 244.2h0M603.3 242.0h0M604.2 244.2h0M604.2 242.0h0M605.0 242.0h0M605.9 242.0h0M606.7 242.0h0M607.6 242.0h0M608.4 242.0h0M609.3 242.0h0M610.1 242.0h0M610.6 242.0h0M611.0 239.8h0M611.8 239.8h0M612.7 237.6h0M613.5 237.6h0M614.4 237.6h0M615.2 235.4h0M615.7 233.2h0M616.1 235.4h0M616.9 237.6h0M617.8 239.8h0M618.6 244.2h0M619.5 244.2h0M620.3 246.4h0M621.2 246.4h0M622.0 248.6h0M622.9 253.0h0M623.4 253.0h0M623.7 253.0h0M624.6 253.0h0M625.4 250.8h0M626.3 248.6h0M627.1 253.0h0M628.0 246.4h0M628.6 246.4h0M628.8 244.2h0M629.7 237.6h0M630.5 237.6h0M631.4 231.0h0M632.2 226.6h0M633.1 222.2h0M633.7 213.4h0M633.9 222.2h0M634.8 213.4h0M635.6 209.0h0M636.5 204.6h0M637.3 202.4h0M638.2 198.0h0M639.0 195.8h0M639.9 191.4h0M640.7 187.0h0M640.9 184.8h0M641.6 189.2h0M642.4 193.6h0M643.3 198.0h0M644.1 202.4h0M645.0 198.0h0M645.8 209.0h0M646.5 211.2h0M646.7 209.0h0M647.5 206.8h0M648.4 200.2h0M649.1 195.8h0M649.2 202.4h0M650.1 200.2h0M650.9 204.6h0M651.8 209.0h0M652.6 213.4h0M652.9 213.4h0M653.5 213.4h0M654.3 215.6h0M655.2 215.6h0M656.0 215.6h0M656.8 217.8h0M656.9 217.8h0M657.7 213.4h0M658.6 211.2h0M659.4 206.8h0M660.3 204.6h0M660.6 202.4h0M661.1 202.4h0M662.0 200.2h0M662.8 198.0h0M663.7 195.8h0M664.5 193.6h0M665.4 191.4h0M665.8 191.4h0M666.2 191.4h0M667.1 191.4h0M667.9 193.6h0M668.8 195.8h0M669.6 198.0h0M669.6 198.0h0M670.5 195.8h0M671.3 198.0h0M672.2 195.8h0M673.0 195.8h0M673.5 198.0h0M673.9 195.8h0M674.7 200.2h0M675.6 200.2h0M676.4 204.6h0M677.3 202.4h0M678.1 204.6h0M678.6 206.8h0M679.0 204.6h0M679.8 204.6h0M680.7 202.4h0M681.5 200.2h0M682.4 198.0h0M683.2 200.2h0M683.7 198.0h0M684.1 195.8h0M684.9 195.8h0M685.8 193.6h0M686.6 191.4h0M687.5 189.2h0M687.6 189.2h0M688.3 191.4h0M689.2 191.4h0M690.0 193.6h0M690.9 193.6h0M691.7 195.8h0M692.6 195.8h0M692.7 195.8h0M693.4 195.8h0M694.3 195.8h0M695.1 193.6h0M696.0 193.6h0M696.8 189.2h0M697.7 189.2h0M698.5 187.0h0M699.1 184.8h0M699.4 187.0h0M700.2 189.2h0M701.1 191.4h0M701.9 191.4h0M702.8 191.4h0M703.6 193.6h0M704.5 195.8h0M705.3 195.8h0M705.5 195.8h0M706.2 193.6h0M707.0 193.6h0M707.9 191.4h0M708.7 189.2h0M709.4 187.0h0M709.6 187.0h0M710.4 189.2h0M711.3 184.8h0M712.1 182.6h0M713.0 180.4h0M713.8 178.2h0M714.0 178.2h0M714.7 180.4h0M715.5 184.8h0M716.4 187.0h0M717.2 189.2h0M718.1 191.4h0M718.4 193.6h0M718.9 191.4h0M719.8 189.2h0M720.6 187.0h0M721.5 184.8h0M722.2 182.6h0M722.3 184.8h0M723.2 184.8h0M724.0 187.0h0M724.9 189.2h0M725.7 193.6h0M726.1 195.8h0M726.6 193.6h0M727.4 193.6h0M728.3 191.4h0M729.1 191.4h0M729.9 189.2h0M730.0 189.2h0M730.8 191.4h0M731.7 193.6h0M732.5 191.4h0M733.4 195.8h0M734.2 198.0h0M735.1 200.2h0M735.9 202.4h0M736.8 202.4h0M737.6 206.8h0M737.6 204.6h0M738.5 211.2h0M738.9 213.4h0M739.3 213.4h0M740.2 215.6h0M741.0 213.4h0M741.9 213.4h0M742.7 213.4h0M743.6 213.4h0M744.4 213.4h0M745.3 213.4h0M746.1 213.4h0M747.0 215.6h0M747.8 213.4h0M748.7 213.4h0M749.5 213.4h0M750.4 211.2h0M751.2 213.4h0M752.1 215.6h0M752.9 215.6h0M753.0 213.4h0M753.8 209.0h0M754.6 204.6h0M755.5 202.4h0M755.6 200.2h0M756.3 200.2h0M757.2 200.2h0M758.0 200.2h0M758.9 200.2h0M759.7 204.6h0M760.6 200.2h0M761.4 200.2h0M762.0 200.2h0M762.3 200.2h0M763.1 202.4h0M764.0 204.6h0M764.8 206.8h0M765.7 206.8h0M766.5 209.0h0M767.4 211.2h0M768.2 213.4h0M768.4 213.4h0M769.1 211.2h0M769.9 209.0h0M770.8 209.0h0M771.6 206.8h0M772.5 206.8h0M773.3 204.6h0M774.2 204.6h0M774.9 204.6h0M775.0 198.0h0M775.9 204.6h0M776.7 206.8h0M777.6 206.8h0M778.4 209.0h0M779.3 211.2h0M780.1 213.4h0M781.0 213.4h0M781.8 215.6h0M782.6 215.6h0M782.7 213.4h0M783.5 220.0h0M784.4 220.0h0M785.2 222.2h0M786.1 226.6h0M786.9 228.8h0M787.8 226.6h0M788.6 231.0h0M789.5 237.6h0M790.3 235.4h0M790.3 235.4h0M791.2 237.6h0M792.0 237.6h0M792.9 239.8h0M793.7 244.2h0M794.6 244.2h0M795.4 246.4h0M796.3 248.6h0M797.1 250.8h0M798.0 253.0h0M798.8 257.4h0M799.7 257.4h0M800.0 259.6h0M800.5 257.4h0M801.4 261.8h0M802.2 259.6h0M803.1 261.8h0M803.9 261.8h0M804.8 264.0h0M805.6 264.0h0M806.5 266.2h0M807.0 266.2h0M807.3 268.4h0M808.2 268.4h0M809.0 272.8h0M809.9 272.8h0M810.7 270.6h0M811.6 277.2h0M812.4 279.4h0M813.3 279.4h0M814.1 281.6h0M815.0 283.8h0M815.8 286.0h0M816.6 286.0h0M816.7 288.2h0M817.5 288.2h0M818.4 290.4h0M819.2 292.6h0M820.1 294.8h0M820.9 294.8h0M821.8 297.0h0M822.6 299.2h0M823.5 301.4h0M823.7 301.4h0M824.3 305.8h0M825.2 308.0h0M826.0 312.4h0M826.9 314.6h0M827.7 316.8h0M828.5 321.2h0M828.6 321.2h0M829.4 321.2h0M830.3 323.4h0M831.1 325.6h0M832.0 327.8h0M832.8 330.0h0M833.7 332.2h0M834.5 332.2h0M835.4 334.4h0M835.6 334.4h0M836.2 334.4h0M837.1 336.6h0M837.9 338.8h0M838.8 336.6h0M839.6 338.8h0M840.5 345.4h0M841.3 341.0h0M842.2 341.0h0M842.7 343.2h0M843.0 343.2h0M843.9 345.4h0M844.7 345.4h0M845.6 347.6h0M846.4 347.6h0M847.3 347.6h0M848.1 349.8h0M849.0 352.0h0M849.8 352.0h0M849.8 354.2h0M850.7 354.2h0M851.5 352.0h0M852.4 352.0h0M853.2 354.2h0M854.1 356.4h0M854.9 354.2h0M855.8 356.4h0M856.6 356.4h0M857.5 356.4h0M858.3 356.4h0M859.2 358.6h0M860.0 356.4h0M860.9 358.6h0M861.7 358.6h0M861.7 358.6h0M862.6 360.8h0M863.4 360.8h0M864.3 360.8h0M865.1 363.0h0M866.0 363.0h0M866.8 365.2h0M867.7 365.2h0M868.5 367.4h0M868.8 365.2h0M869.4 369.6h0M870.2 367.4h0M871.1 367.4h0M871.9 367.4h0M872.8 367.4h0M873.6 367.4h0M874.5 369.6h0M875.3 367.4h0M876.2 369.6h0M877.0 367.4h0M877.9 367.4h0M878.7 369.6h0M879.6 369.6h0M880.4 369.6h0M881.3 369.6h0M882.1 371.8h0M883.0 369.6h0M883.0 371.8h0M883.8 371.8h0M884.7 374.0h0M885.5 374.0h0M886.4 371.8h0M887.2 374.0h0M888.1 371.8h0M888.9 374.0h0M889.8 374.0h0M890.6 376.2h0M891.5 376.2h0M892.3 376.2h0M892.6 376.2h0M893.2 376.2h0M894.0 376.2h0M894.9 376.2h0M895.7 378.4h0M896.6 378.4h0M897.4 380.6h0M898.3 380.6h0M899.1 380.6h0M900.0 380.6h0M900.8 382.8h0M901.7 382.8h0M902.0 382.8h0M902.5 382.8h0M903.4 385.0h0M904.2 385.0h0M905.1 385.0h0M905.9 387.2h0M906.8 387.2h0M907.6 387.2h0M908.5 387.2h0M909.3 389.4h0M910.2 389.4h0M910.6 389.4h0" fill="none" stroke="#f7941d" stroke-width="2.6" stroke-linecap="square"/>
</svg>

<div class="abs" style="left:6px;top:472px;width:1001px;height:25px;background:#fafafa;border-bottom:1px solid #ebeef5"></div>
<div class="abs" style="left:506px;top:473px;width:5.5px;height:1px;background:#bbb"></div>
<div class="abs" style="left:506px;top:475px;width:5.5px;height:1px;background:#bbb"></div>
<div class="abs row" style="top:497px"></div><div class="abs cb" style="top:505px;height:10.7px"></div><svg class="abs" style="left:31px;top:505px" width="9" height="11"><path d="M1.3 4.8 L3.8 7.2 L7.9 2.6" fill="none" stroke="#fff" stroke-width="1.7"/></svg><svg class="abs" style="left:43px;top:503.5px" width="9" height="11" viewBox="0 0 9 11"><path d="M4.5 1 L5.6 2.2 L7.6 2.4 L7.6 4.6 L8.2 5.7 L7.6 6.8 L7.6 8.8 L5.6 9 L4.5 10.2 L3.4 9 L1.4 8.8 L1.4 6.8 L0.8 5.7 L1.4 4.6 L1.4 2.4 L3.4 2.2 Z" fill="none" stroke="#777" stroke-width="0.9"/><circle cx="4.5" cy="5.6" r="1.6" fill="none" stroke="#777" stroke-width="0.9"/></svg><div class="abs dot" style="top:507px;background:#17806f"></div><div class="abs lane" style="top:504px"><i style="left:12px"></i><i style="left:25px"></i><i style="left:38px"></i><b style="left:30px"></b></div>
<div class="abs row" style="top:526px"></div><div class="abs cb" style="top:534px;height:10.7px"></div><svg class="abs" style="left:31px;top:534px" width="9" height="11"><path d="M1.3 4.8 L3.8 7.2 L7.9 2.6" fill="none" stroke="#fff" stroke-width="1.7"/></svg><svg class="abs" style="left:43px;top:532.5px" width="9" height="11" viewBox="0 0 9 11"><path d="M4.5 1 L5.6 2.2 L7.6 2.4 L7.6 4.6 L8.2 5.7 L7.6 6.8 L7.6 8.8 L5.6 9 L4.5 10.2 L3.4 9 L1.4 8.8 L1.4 6.8 L0.8 5.7 L1.4 4.6 L1.4 2.4 L3.4 2.2 Z" fill="none" stroke="#777" stroke-width="0.9"/><circle cx="4.5" cy="5.6" r="1.6" fill="none" stroke="#777" stroke-width="0.9"/></svg><div class="abs dot" style="top:536px;background:#f7941d"></div><div class="abs lane" style="top:533px"><i style="left:12px"></i><i style="left:25px"></i><i style="left:38px"></i><b style="left:30px"></b></div>
<div class="abs row" style="top:555px"></div><div class="abs cb" style="top:563px;height:10.7px"></div><svg class="abs" style="left:31px;top:563px" width="9" height="11"><path d="M1.3 4.8 L3.8 7.2 L7.9 2.6" fill="none" stroke="#fff" stroke-width="1.7"/></svg><svg class="abs" style="left:43px;top:561.5px" width="9" height="11" viewBox="0 0 9 11"><path d="M4.5 1 L5.6 2.2 L7.6 2.4 L7.6 4.6 L8.2 5.7 L7.6 6.8 L7.6 8.8 L5.6 9 L4.5 10.2 L3.4 9 L1.4 8.8 L1.4 6.8 L0.8 5.7 L1.4 4.6 L1.4 2.4 L3.4 2.2 Z" fill="none" stroke="#777" stroke-width="0.9"/><circle cx="4.5" cy="5.6" r="1.6" fill="none" stroke="#777" stroke-width="0.9"/></svg><div class="abs dot" style="top:565px;background:#d56ad3"></div><div class="abs lane" style="top:562px"><i style="left:12px"></i><i style="left:25px"></i><i style="left:38px"></i><b style="left:30px"></b></div>
<div class="abs cb" style="top:592px;height:10.7px"></div><svg class="abs" style="left:31px;top:592px" width="9" height="11"><path d="M1.3 4.8 L3.8 7.2 L7.9 2.6" fill="none" stroke="#fff" stroke-width="1.7"/></svg><svg class="abs" style="left:43px;top:590.5px" width="9" height="11" viewBox="0 0 9 11"><path d="M4.5 1 L5.6 2.2 L7.6 2.4 L7.6 4.6 L8.2 5.7 L7.6 6.8 L7.6 8.8 L5.6 9 L4.5 10.2 L3.4 9 L1.4 8.8 L1.4 6.8 L0.8 5.7 L1.4 4.6 L1.4 2.4 L3.4 2.2 Z" fill="none" stroke="#777" stroke-width="0.9"/><circle cx="4.5" cy="5.6" r="1.6" fill="none" stroke="#777" stroke-width="0.9"/></svg><div class="abs dot" style="top:594px;background:#3a8fe0"></div><div class="abs lane" style="top:591px"><i style="left:12px"></i><i style="left:25px"></i><i style="left:38px"></i><b style="left:42px"></b></div>

<div class="abs" style="left:1007px;top:497px;width:5px;height:107px;background:#f6f6f6"></div>
<div class="abs" style="left:1008px;top:497px;width:4px;height:78px;background:#dcdcdc;border-radius:2px"></div>
<div class="t" id="title" style="left:42.54px;top:10.75px;font-size:10px;color:#eef1f5;font-weight:bold;transform:scaleX(0.9614)">武域电站温度-辐照-功率曲线图</div>
<div class="t" id="save" style="left:945.48px;top:15.75px;font-size:9px;color:#d0d6df;font-weight:normal;transform:scaleX(0.8867)">保存</div>
<div class="t" id="refr" style="left:987.44px;top:15.75px;font-size:9px;color:#d0d6df;font-weight:normal;transform:scaleX(0.9000)">刷新</div>
<div class="t" id="kssel" style="left:601.50px;top:58.60px;font-size:8.8px;color:#666;font-weight:normal;transform:scaleX(0.8289)">快速选择:</div>
<div class="t" id="zdy" style="left:643.49px;top:59.35px;font-size:8.8px;color:#444;font-weight:normal;transform:scaleX(0.8592)">自定义选择</div>
<div class="t" id="xzrq" style="left:758.97px;top:58.60px;font-size:8.8px;color:#666;font-weight:normal;transform:scaleX(0.8665)">选择日期:</div>
<div class="t" id="d1" style="left:801.98px;top:58.85px;font-size:9.3px;color:#555;font-weight:normal;transform:scaleX(0.7802)">2020-08-13 04:00:59</div>
<div class="t" id="d2" style="left:902.02px;top:58.85px;font-size:9.3px;color:#555;font-weight:normal;transform:scaleX(0.7872)">2020-08-13 20:59:59</div>
<div class="t" id="s1" style="left:11.49px;top:102.55px;font-size:7.4px;color:#4a4a4a;font-weight:normal;transform:scaleX(0.8501)">2020-01-00 00:00:00</div>
<div class="t" id="s2" style="left:224.00px;top:102.55px;font-size:7.4px;color:#4a4a4a;font-weight:normal;transform:scaleX(0.8853)">2020-04-00 18:00:00</div>
<div class="t" id="s3" style="left:469.00px;top:102.55px;font-size:7.4px;color:#4a4a4a;font-weight:normal;transform:scaleX(0.8677)">2020-07-10 12:00:00</div>
<div class="t" id="s4" style="left:714.00px;top:102.55px;font-size:7.4px;color:#4a4a4a;font-weight:normal;transform:scaleX(0.8500)">2020-10-10 06:59:59</div>
<div class="t" id="s5" style="left:927.00px;top:102.55px;font-size:7.4px;color:#4a4a4a;font-weight:normal;transform:scaleX(0.8589)">2021-01-00 23:59:59</div>
<div class="t" id="m1" style="left:29.18px;top:133.70px;font-size:7.6px;color:#999;font-weight:normal;transform:scaleX(1.1056)">1m</div>
<div class="t" id="cd" style="left:87.45px;top:133.00px;font-size:8.5px;color:#444;font-weight:normal;transform:scaleX(0.9107)">重叠</div>
<div class="t" id="ysj" style="left:956.98px;top:131.75px;font-size:8.5px;color:#444;font-weight:normal;transform:scaleX(0.8656)">查看原始数据</div>
<div class="t" id="y1" style="left:33.96px;top:165.75px;font-size:8px;color:#1a8f9a;font-weight:normal;transform:scaleX(0.8802)">1205.00</div>
<div class="t" id="y2" style="left:41.48px;top:174.00px;font-size:8px;color:#f7941d;font-weight:normal;transform:scaleX(0.8821)">31.60</div>
<div class="t" id="y3" style="left:41.94px;top:183.00px;font-size:8px;color:#d56ad3;font-weight:normal;transform:scaleX(0.8831)">15.38</div>
<div class="t" id="y4" style="left:38.48px;top:192.00px;font-size:8px;color:#3a8fe0;font-weight:normal;transform:scaleX(0.8847)">255.41</div>
<div class="t" id="y5" style="left:46.52px;top:201.00px;font-size:8px;color:#8fdcd0;font-weight:normal;transform:scaleX(0.8527)">9.89</div>
<div class="t" id="y6" style="left:46.01px;top:418.00px;font-size:8px;color:#3a8fe0;font-weight:normal;transform:scaleX(0.8382)">1.52</div>
<div class="t" id="y7" style="left:42.94px;top:427.50px;font-size:8px;color:#d56ad3;font-weight:normal;transform:scaleX(0.9002)">-0.07</div>
<div class="t" id="y8" style="left:40.47px;top:436.75px;font-size:8px;color:#f7941d;font-weight:normal;transform:scaleX(0.9409)">24.00</div>
<div class="t" id="h1" style="left:170.49px;top:480.10px;font-size:8.8px;color:#333;font-weight:normal;transform:scaleX(0.8867)">泳道</div>
<div class="t" id="h2" style="left:321.99px;top:479.85px;font-size:8.8px;color:#333;font-weight:normal;transform:scaleX(0.8447)">时间迁移</div>
<div class="t" id="h3" style="left:400.46px;top:479.85px;font-size:8.8px;color:#333;font-weight:normal;transform:scaleX(0.8793)">聚类算法</div>
<div class="t" id="h4" style="left:481.98px;top:480.10px;font-size:8.8px;color:#333;font-weight:normal;transform:scaleX(0.8597)">目标点位号</div>
<div class="t" id="h5" style="left:581.98px;top:480.35px;font-size:8.8px;color:#333;font-weight:normal;transform:scaleX(0.8748)">点位名称</div>
<div class="t" id="h6" style="left:712.00px;top:480.10px;font-size:8.8px;color:#333;font-weight:normal;transform:scaleX(0.8500)">点位描述</div>
<div class="t" id="h7" style="left:813.56px;top:480.10px;font-size:8.8px;color:#333;font-weight:normal;transform:scaleX(0.8101)">路径</div>
<div class="t" id="x0" style="left:31.00px;top:450.65px;font-size:8.2px;color:#555;font-weight:normal;transform:scaleX(0.8234)">2020/08/13 04:00:00</div>
<div class="t" id="x1" style="left:112.51px;top:450.65px;font-size:8.2px;color:#555;font-weight:normal;transform:scaleX(0.8234)">2020/08/13 05:38:00</div>
<div class="t" id="x2" style="left:193.99px;top:450.65px;font-size:8.2px;color:#555;font-weight:normal;transform:scaleX(0.8234)">2020/08/13 07:16:00</div>
<div class="t" id="x3" style="left:276.50px;top:450.65px;font-size:8.2px;color:#555;font-weight:normal;transform:scaleX(0.8234)">2020/08/13 08:54:00</div>
<div class="t" id="x4" style="left:358.01px;top:450.65px;font-size:8.2px;color:#555;font-weight:normal;transform:scaleX(0.8234)">2020/08/13 10:32:00</div>
<div class="t" id="x5" style="left:439.52px;top:450.65px;font-size:8.2px;color:#555;font-weight:normal;transform:scaleX(0.8234)">2020/08/13 12:10:00</div>
<div class="t" id="x6" style="left:520.99px;top:450.65px;font-size:8.2px;color:#555;font-weight:normal;transform:scaleX(0.8234)">2020/08/13 13:48:00</div>
<div class="t" id="x7" style="left:602.50px;top:450.65px;font-size:8.2px;color:#555;font-weight:normal;transform:scaleX(0.8234)">2020/08/13 15:26:00</div>
<div class="t" id="x8" style="left:685.01px;top:450.65px;font-size:8.2px;color:#555;font-weight:normal;transform:scaleX(0.8234)">2020/08/13 17:04:00</div>
<div class="t" id="x9" style="left:766.49px;top:450.65px;font-size:8.2px;color:#555;font-weight:normal;transform:scaleX(0.8234)">2020/08/13 18:42:00</div>
<div class="t" id="x10" style="left:848.00px;top:450.65px;font-size:8.2px;color:#555;font-weight:normal;transform:scaleX(0.8234)">2020/08/13 20:20:00</div>
<div class="t" id="r0a" style="left:320.74px;top:507.05px;font-size:8.8px;color:#6a6a6a;font-weight:normal;transform:scaleX(0.9482)">无</div>
<div class="t" id="r0b" style="left:400.47px;top:507.05px;font-size:8.8px;color:#6a6a6a;font-weight:normal;transform:scaleX(0.8784)">平均值</div>
<div class="t" id="r0c" style="left:483.02px;top:506.55px;font-size:8.8px;color:#777;font-weight:normal;transform:scaleX(0.7787)">31_1_1_16420</div>
<div class="t" id="r0d" style="left:583.01px;top:507.05px;font-size:8.8px;color:#6a6a6a;font-weight:normal;transform:scaleX(0.8258)">环境监测仪总辐射瞬时值</div>
<div class="t" id="r0e" style="left:713.00px;top:507.05px;font-size:8.8px;color:#6a6a6a;font-weight:normal;transform:scaleX(0.8237)">环境监测仪总辐射瞬时值</div>
<div class="t" id="r0f" style="left:813.51px;top:507.05px;font-size:8.8px;color:#6a6a6a;font-weight:normal;transform:scaleX(0.8273)">城投&gt;华东区域&gt;山东武城一期园区&gt;气象站</div>
<div class="t" id="r1a" style="left:320.74px;top:536.05px;font-size:8.8px;color:#6a6a6a;font-weight:normal;transform:scaleX(0.9482)">无</div>
<div class="t" id="r1b" style="left:400.47px;top:536.05px;font-size:8.8px;color:#6a6a6a;font-weight:normal;transform:scaleX(0.8784)">平均值</div>
<div class="t" id="r1c" style="left:483.02px;top:535.55px;font-size:8.8px;color:#777;font-weight:normal;transform:scaleX(0.7787)">31_1_1_16416</div>
<div class="t" id="r1d" style="left:583.01px;top:536.05px;font-size:8.8px;color:#6a6a6a;font-weight:normal;transform:scaleX(0.8216)">环境监测仪环境温度</div>
<div class="t" id="r1e" style="left:713.00px;top:536.05px;font-size:8.8px;color:#6a6a6a;font-weight:normal;transform:scaleX(0.8315)">环境监测仪环境温度</div>
<div class="t" id="r1f" style="left:813.51px;top:536.05px;font-size:8.8px;color:#6a6a6a;font-weight:normal;transform:scaleX(0.8273)">城投&gt;华东区域&gt;山东武城一期园区&gt;气象站</div>
<div class="t" id="r2a" style="left:320.74px;top:565.05px;font-size:8.8px;color:#6a6a6a;font-weight:normal;transform:scaleX(0.9482)">无</div>
<div class="t" id="r2b" style="left:400.47px;top:565.05px;font-size:8.8px;color:#6a6a6a;font-weight:normal;transform:scaleX(0.8784)">平均值</div>
<div class="t" id="r2c" style="left:483.02px;top:564.55px;font-size:8.8px;color:#777;font-weight:normal;transform:scaleX(0.7787)">31_1_1_16388</div>
<div class="t" id="r2d" style="left:583.01px;top:565.05px;font-size:8.8px;color:#6a6a6a;font-weight:normal;transform:scaleX(0.8001)">311线路保护CSC213P</div>
<div class="t" id="r2e" style="left:713.00px;top:565.05px;font-size:8.8px;color:#6a6a6a;font-weight:normal;transform:scaleX(0.8047)">311线路保护CSC213P</div>
<div class="t" id="r2f" style="left:813.51px;top:565.05px;font-size:8.8px;color:#6a6a6a;font-weight:normal;transform:scaleX(0.8340)">城投&gt;华东区域&gt;山东武城一期园区&gt;并网柜&gt;出线柜</div>
<div class="t" id="r3a" style="left:320.74px;top:594.05px;font-size:8.8px;color:#6a6a6a;font-weight:normal;transform:scaleX(0.9482)">无</div>
<div class="t" id="r3b" style="left:400.47px;top:594.05px;font-size:8.8px;color:#6a6a6a;font-weight:normal;transform:scaleX(0.8784)">平均值</div>
<div class="t" id="r3c" style="left:483.02px;top:593.55px;font-size:8.8px;color:#777;font-weight:normal;transform:scaleX(0.7787)">31_1_1_16385</div>
<div class="t" id="r3d" style="left:583.01px;top:594.05px;font-size:8.8px;color:#6a6a6a;font-weight:normal;transform:scaleX(0.8043)">311线路保护CSC213IA</div>
<div class="t" id="r3e" style="left:713.00px;top:594.05px;font-size:8.8px;color:#6a6a6a;font-weight:normal;transform:scaleX(0.8021)">311线路保护CSC213IA</div>
<div class="t" id="r3f" style="left:813.51px;top:594.05px;font-size:8.8px;color:#6a6a6a;font-weight:normal;transform:scaleX(0.8340)">城投&gt;华东区域&gt;山东武城一期园区&gt;并网柜&gt;出线柜</div>

<div class="abs" style="left:3px;top:604px;width:1010px;height:7px;background:#fff"></div>
</body></html>
